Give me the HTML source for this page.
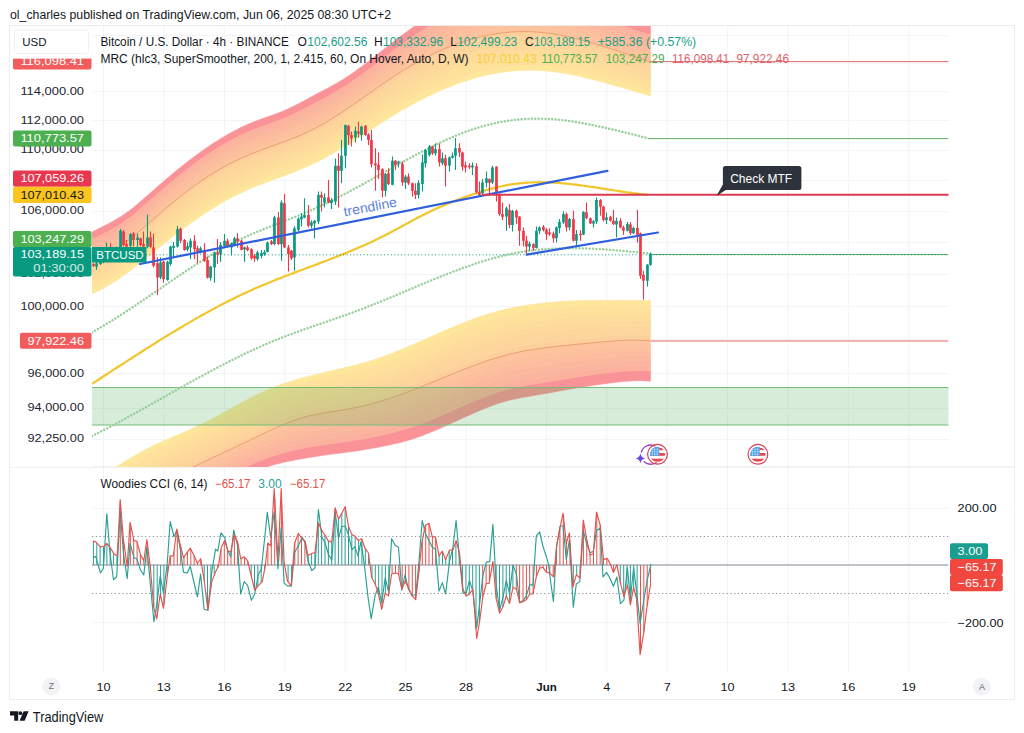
<!DOCTYPE html><html><head><meta charset="utf-8"><title>BTCUSD</title>
<style>html,body{margin:0;padding:0;background:#fff;}svg{display:block;font-family:"Liberation Sans", sans-serif;}text{font-family:"Liberation Sans", sans-serif;}</style></head><body>
<svg width="1024" height="733" viewBox="0 0 1024 733">
<rect width="1024" height="733" fill="#fff"/>
<defs><clipPath id="mp"><rect x="92" y="26" width="856.5" height="441"/></clipPath>
<clipPath id="cp"><rect x="92" y="467" width="856.5" height="205"/></clipPath></defs>
<text x="10" y="19.3" font-size="12.3" fill="#131722" textLength="381" lengthAdjust="spacingAndGlyphs">ol_charles published on TradingView.com, Jun 06, 2025 08:30 UTC+2</text>
<rect x="9.5" y="25.5" width="1005" height="674" fill="none" stroke="#eaecf0" stroke-width="1"/>
<line x1="103.5" y1="26" x2="103.5" y2="672" stroke="#f3f4f6"/>
<line x1="163.8" y1="26" x2="163.8" y2="672" stroke="#f3f4f6"/>
<line x1="224.4" y1="26" x2="224.4" y2="672" stroke="#f3f4f6"/>
<line x1="284.8" y1="26" x2="284.8" y2="672" stroke="#f3f4f6"/>
<line x1="345.2" y1="26" x2="345.2" y2="672" stroke="#f3f4f6"/>
<line x1="405.6" y1="26" x2="405.6" y2="672" stroke="#f3f4f6"/>
<line x1="466" y1="26" x2="466" y2="672" stroke="#f3f4f6"/>
<line x1="546.5" y1="26" x2="546.5" y2="672" stroke="#f3f4f6"/>
<line x1="606.8" y1="26" x2="606.8" y2="672" stroke="#f3f4f6"/>
<line x1="667.2" y1="26" x2="667.2" y2="672" stroke="#f3f4f6"/>
<line x1="727.6" y1="26" x2="727.6" y2="672" stroke="#f3f4f6"/>
<line x1="788" y1="26" x2="788" y2="672" stroke="#f3f4f6"/>
<line x1="848.3" y1="26" x2="848.3" y2="672" stroke="#f3f4f6"/>
<line x1="908.8" y1="26" x2="908.8" y2="672" stroke="#f3f4f6"/>
<line x1="92" y1="35.5" x2="948.5" y2="35.5" stroke="#f3f4f6"/>
<line x1="92" y1="63.5" x2="948.5" y2="63.5" stroke="#f3f4f6"/>
<line x1="92" y1="91.5" x2="948.5" y2="91.5" stroke="#f3f4f6"/>
<line x1="92" y1="120.5" x2="948.5" y2="120.5" stroke="#f3f4f6"/>
<line x1="92" y1="150.5" x2="948.5" y2="150.5" stroke="#f3f4f6"/>
<line x1="92" y1="180.5" x2="948.5" y2="180.5" stroke="#f3f4f6"/>
<line x1="92" y1="211.5" x2="948.5" y2="211.5" stroke="#f3f4f6"/>
<line x1="92" y1="242.5" x2="948.5" y2="242.5" stroke="#f3f4f6"/>
<line x1="92" y1="274.5" x2="948.5" y2="274.5" stroke="#f3f4f6"/>
<line x1="92" y1="306.5" x2="948.5" y2="306.5" stroke="#f3f4f6"/>
<line x1="92" y1="339.5" x2="948.5" y2="339.5" stroke="#f3f4f6"/>
<line x1="92" y1="373.5" x2="948.5" y2="373.5" stroke="#f3f4f6"/>
<line x1="92" y1="408.5" x2="948.5" y2="408.5" stroke="#f3f4f6"/>
<line x1="92" y1="439.5" x2="948.5" y2="439.5" stroke="#f3f4f6"/>
<line x1="92" y1="508.5" x2="948.5" y2="508.5" stroke="#f3f4f6"/>
<line x1="92" y1="622.5" x2="948.5" y2="622.5" stroke="#f3f4f6"/>
<line x1="9.5" y1="467" x2="1014.5" y2="467" stroke="#e4e6ea"/>
<g clip-path="url(#mp)">
<polygon points="92,232 96,230 100,228 104.1,226 108.1,223.9 112.1,221.8 116.1,219.5 120.1,217.1 124.1,214.4 128.2,211.5 132.2,208.4 136.2,205.2 140.2,201.8 144.2,198.3 148.3,194.8 152.3,191.2 156.3,187.7 160.3,184.2 164.3,180.7 168.4,177.3 172.4,173.9 176.4,170.6 180.4,167.4 184.4,164.2 188.4,161 192.5,158 196.5,155 200.5,152.1 204.5,149.2 208.5,146.5 212.6,143.8 216.6,141.2 220.6,138.7 224.6,136.3 228.6,134 232.7,131.8 236.7,129.7 240.7,127.6 244.7,125.7 248.7,123.9 252.7,122.2 256.8,120.7 260.8,119.2 264.8,117.8 268.8,116.4 272.8,115 276.9,113.5 280.9,112 284.9,110.3 288.9,108.4 292.9,106.5 297,104.5 301,102.4 305,100.3 309,98.1 313,95.9 317,93.8 321.1,91.7 325.1,89.6 329.1,87.4 333.1,85.2 337.1,82.9 341.2,80.5 345.2,78 349.2,75.4 353.2,72.7 357.2,69.8 361.3,66.8 365.3,63.8 369.3,60.7 373.3,57.6 377.3,54.5 381.3,51.3 385.4,48.1 389.4,45 393.4,41.8 397.4,38.7 401.4,35.7 405.5,32.7 409.5,29.7 413.5,26.8 417.5,24 421.5,21.3 425.6,18.6 429.6,16.1 433.6,13.7 437.6,11.4 441.6,9.3 445.6,7.2 449.7,5.4 453.7,3.7 457.7,2.1 461.7,0.7 465.7,-0.6 469.8,-1.7 473.8,-2.7 477.8,-3.6 481.8,-4.3 485.8,-5 489.9,-5.5 493.9,-5.9 497.9,-6.3 501.9,-6.5 505.9,-6.7 509.9,-6.8 514,-6.9 518,-6.9 522,-6.8 526,-6.7 530,-6.5 534.1,-6.3 538.1,-6 542.1,-5.7 546.1,-5.3 550.1,-4.9 554.2,-4.4 558.2,-3.9 562.2,-3.2 566.2,-2.5 570.2,-1.7 574.2,-0.9 578.3,0.1 582.3,1.1 586.3,2.3 590.3,3.5 594.3,4.9 598.4,6.3 602.4,7.9 606.4,9.5 610.4,11.2 614.4,13 618.5,14.8 622.5,16.5 626.5,18.2 630.5,19.8 634.5,21.2 638.5,22.6 642.6,23.7 646.6,24.7 650.6,25.4 650.6,34.5 646.6,33.6 642.6,32.6 638.5,31.4 634.5,30.1 630.5,28.6 626.5,27.1 622.5,25.5 618.5,23.9 614.4,22.2 610.4,20.6 606.4,19 602.4,17.4 598.4,15.9 594.3,14.5 590.3,13.2 586.3,12 582.3,10.9 578.3,9.8 574.2,8.9 570.2,8 566.2,7.2 562.2,6.5 558.2,5.8 554.2,5.2 550.1,4.7 546.1,4.2 542.1,3.9 538.1,3.5 534.1,3.3 530,3.1 526,2.9 522,2.8 518,2.8 514,2.8 509.9,2.9 505.9,3.1 501.9,3.3 497.9,3.7 493.9,4.1 489.9,4.6 485.8,5.2 481.8,5.9 477.8,6.7 473.8,7.7 469.8,8.7 465.7,9.8 461.7,11.1 457.7,12.5 453.7,14.1 449.7,15.7 445.6,17.5 441.6,19.5 437.6,21.5 433.6,23.7 429.6,26 425.6,28.4 421.5,30.9 417.5,33.5 413.5,36.2 409.5,39 405.5,41.8 401.4,44.7 397.4,47.6 393.4,50.6 389.4,53.6 385.4,56.6 381.3,59.7 377.3,62.8 373.3,65.9 369.3,68.9 365.3,71.9 361.3,74.9 357.2,77.8 353.2,80.6 349.2,83.4 345.2,86.1 341.2,88.6 337.1,91 333.1,93.4 329.1,95.7 325.1,97.9 321.1,100 317,102.2 313,104.3 309,106.4 305,108.5 301,110.5 297,112.5 292.9,114.4 288.9,116.3 284.9,118 280.9,119.7 276.9,121.2 272.8,122.7 268.8,124.1 264.8,125.5 260.8,127 256.8,128.5 252.7,130 248.7,131.7 244.7,133.5 240.7,135.3 236.7,137.3 232.7,139.4 228.6,141.6 224.6,143.9 220.6,146.3 216.6,148.7 212.6,151.3 208.5,153.9 204.5,156.6 200.5,159.5 196.5,162.3 192.5,165.3 188.4,168.3 184.4,171.5 180.4,174.6 176.4,177.9 172.4,181.2 168.4,184.6 164.3,188 160.3,191.4 156.3,195 152.3,198.5 148.3,202 144.2,205.6 140.2,209 136.2,212.4 132.2,215.6 128.2,218.7 124.1,221.7 120.1,224.4 116.1,226.9 112.1,229.2 108.1,231.4 104.1,233.4 100,235.4 96,237.3 92,239.2" fill="#fa9398" stroke="#fa9398" stroke-width="0.6"/>
<polygon points="92,239.2 96,237.3 100,235.4 104.1,233.4 108.1,231.4 112.1,229.2 116.1,226.9 120.1,224.4 124.1,221.7 128.2,218.7 132.2,215.6 136.2,212.4 140.2,209 144.2,205.6 148.3,202 152.3,198.5 156.3,195 160.3,191.4 164.3,188 168.4,184.6 172.4,181.2 176.4,177.9 180.4,174.6 184.4,171.5 188.4,168.3 192.5,165.3 196.5,162.3 200.5,159.5 204.5,156.6 208.5,153.9 212.6,151.3 216.6,148.7 220.6,146.3 224.6,143.9 228.6,141.6 232.7,139.4 236.7,137.3 240.7,135.3 244.7,133.5 248.7,131.7 252.7,130 256.8,128.5 260.8,127 264.8,125.5 268.8,124.1 272.8,122.7 276.9,121.2 280.9,119.7 284.9,118 288.9,116.3 292.9,114.4 297,112.5 301,110.5 305,108.5 309,106.4 313,104.3 317,102.2 321.1,100 325.1,97.9 329.1,95.7 333.1,93.4 337.1,91 341.2,88.6 345.2,86.1 349.2,83.4 353.2,80.6 357.2,77.8 361.3,74.9 365.3,71.9 369.3,68.9 373.3,65.9 377.3,62.8 381.3,59.7 385.4,56.6 389.4,53.6 393.4,50.6 397.4,47.6 401.4,44.7 405.5,41.8 409.5,39 413.5,36.2 417.5,33.5 421.5,30.9 425.6,28.4 429.6,26 433.6,23.7 437.6,21.5 441.6,19.5 445.6,17.5 449.7,15.7 453.7,14.1 457.7,12.5 461.7,11.1 465.7,9.8 469.8,8.7 473.8,7.7 477.8,6.7 481.8,5.9 485.8,5.2 489.9,4.6 493.9,4.1 497.9,3.7 501.9,3.3 505.9,3.1 509.9,2.9 514,2.8 518,2.8 522,2.8 526,2.9 530,3.1 534.1,3.3 538.1,3.5 542.1,3.9 546.1,4.2 550.1,4.7 554.2,5.2 558.2,5.8 562.2,6.5 566.2,7.2 570.2,8 574.2,8.9 578.3,9.8 582.3,10.9 586.3,12 590.3,13.2 594.3,14.5 598.4,15.9 602.4,17.4 606.4,19 610.4,20.6 614.4,22.2 618.5,23.9 622.5,25.5 626.5,27.1 630.5,28.6 634.5,30.1 638.5,31.4 642.6,32.6 646.6,33.6 650.6,34.5 650.6,39.1 646.6,38.1 642.6,37.1 638.5,35.8 634.5,34.5 630.5,33.1 626.5,31.6 622.5,30 618.5,28.4 614.4,26.9 610.4,25.3 606.4,23.7 602.4,22.2 598.4,20.7 594.3,19.4 590.3,18.1 586.3,16.9 582.3,15.8 578.3,14.7 574.2,13.8 570.2,12.9 566.2,12.1 562.2,11.3 558.2,10.6 554.2,10 550.1,9.5 546.1,9 542.1,8.6 538.1,8.3 534.1,8 530,7.8 526,7.7 522,7.6 518,7.6 514,7.7 509.9,7.8 505.9,8 501.9,8.3 497.9,8.7 493.9,9.1 489.9,9.7 485.8,10.3 481.8,11 477.8,11.9 473.8,12.8 469.8,13.9 465.7,15 461.7,16.3 457.7,17.7 453.7,19.2 449.7,20.9 445.6,22.7 441.6,24.6 437.6,26.6 433.6,28.8 429.6,31 425.6,33.3 421.5,35.8 417.5,38.3 413.5,40.9 409.5,43.6 405.5,46.3 401.4,49.2 397.4,52 393.4,55 389.4,57.9 385.4,60.9 381.3,63.9 377.3,66.9 373.3,70 369.3,73 365.3,76 361.3,78.9 357.2,81.8 353.2,84.6 349.2,87.4 345.2,90.1 341.2,92.6 337.1,95.1 333.1,97.5 329.1,99.8 325.1,102 321.1,104.2 317,106.4 313,108.5 309,110.6 305,112.6 301,114.6 297,116.5 292.9,118.4 288.9,120.2 284.9,121.9 280.9,123.5 276.9,125.1 272.8,126.6 268.8,128 264.8,129.4 260.8,130.9 256.8,132.3 252.7,133.9 248.7,135.6 244.7,137.3 240.7,139.2 236.7,141.2 232.7,143.2 228.6,145.4 224.6,147.7 220.6,150 216.6,152.5 212.6,155 208.5,157.6 204.5,160.3 200.5,163.1 196.5,166 192.5,169 188.4,172 184.4,175.1 180.4,178.3 176.4,181.5 172.4,184.8 168.4,188.2 164.3,191.6 160.3,195.1 156.3,198.6 152.3,202.1 148.3,205.7 144.2,209.2 140.2,212.6 136.2,216 132.2,219.2 128.2,222.3 124.1,225.3 120.1,228 116.1,230.6 112.1,232.9 108.1,235.1 104.1,237.2 100,239.1 96,241 92,242.8" fill="#fbb19d" stroke="#fbb19d" stroke-width="0.6"/>
<polygon points="92,242.8 96,241 100,239.1 104.1,237.2 108.1,235.1 112.1,232.9 116.1,230.6 120.1,228 124.1,225.3 128.2,222.3 132.2,219.2 136.2,216 140.2,212.6 144.2,209.2 148.3,205.7 152.3,202.1 156.3,198.6 160.3,195.1 164.3,191.6 168.4,188.2 172.4,184.8 176.4,181.5 180.4,178.3 184.4,175.1 188.4,172 192.5,169 196.5,166 200.5,163.1 204.5,160.3 208.5,157.6 212.6,155 216.6,152.5 220.6,150 224.6,147.7 228.6,145.4 232.7,143.2 236.7,141.2 240.7,139.2 244.7,137.3 248.7,135.6 252.7,133.9 256.8,132.3 260.8,130.9 264.8,129.4 268.8,128 272.8,126.6 276.9,125.1 280.9,123.5 284.9,121.9 288.9,120.2 292.9,118.4 297,116.5 301,114.6 305,112.6 309,110.6 313,108.5 317,106.4 321.1,104.2 325.1,102 329.1,99.8 333.1,97.5 337.1,95.1 341.2,92.6 345.2,90.1 349.2,87.4 353.2,84.6 357.2,81.8 361.3,78.9 365.3,76 369.3,73 373.3,70 377.3,66.9 381.3,63.9 385.4,60.9 389.4,57.9 393.4,55 397.4,52 401.4,49.2 405.5,46.3 409.5,43.6 413.5,40.9 417.5,38.3 421.5,35.8 425.6,33.3 429.6,31 433.6,28.8 437.6,26.6 441.6,24.6 445.6,22.7 449.7,20.9 453.7,19.2 457.7,17.7 461.7,16.3 465.7,15 469.8,13.9 473.8,12.8 477.8,11.9 481.8,11 485.8,10.3 489.9,9.7 493.9,9.1 497.9,8.7 501.9,8.3 505.9,8 509.9,7.8 514,7.7 518,7.6 522,7.6 526,7.7 530,7.8 534.1,8 538.1,8.3 542.1,8.6 546.1,9 550.1,9.5 554.2,10 558.2,10.6 562.2,11.3 566.2,12.1 570.2,12.9 574.2,13.8 578.3,14.7 582.3,15.8 586.3,16.9 590.3,18.1 594.3,19.4 598.4,20.7 602.4,22.2 606.4,23.7 610.4,25.3 614.4,26.9 618.5,28.4 622.5,30 626.5,31.6 630.5,33.1 634.5,34.5 638.5,35.8 642.6,37.1 646.6,38.1 650.6,39.1 650.6,43.6 646.6,42.6 642.6,41.5 638.5,40.3 634.5,38.9 630.5,37.5 626.5,36.1 622.5,34.5 618.5,33 614.4,31.5 610.4,29.9 606.4,28.4 602.4,27 598.4,25.6 594.3,24.2 590.3,23 586.3,21.8 582.3,20.7 578.3,19.6 574.2,18.7 570.2,17.7 566.2,16.9 562.2,16.2 558.2,15.5 554.2,14.8 550.1,14.3 546.1,13.8 542.1,13.4 538.1,13.1 534.1,12.8 530,12.6 526,12.5 522,12.4 518,12.4 514,12.5 509.9,12.7 505.9,12.9 501.9,13.2 497.9,13.6 493.9,14.1 489.9,14.7 485.8,15.4 481.8,16.2 477.8,17 473.8,18 469.8,19.1 465.7,20.2 461.7,21.5 457.7,22.9 453.7,24.4 449.7,26.1 445.6,27.8 441.6,29.7 437.6,31.7 433.6,33.8 429.6,36 425.6,38.2 421.5,40.6 417.5,43.1 413.5,45.6 409.5,48.2 405.5,50.9 401.4,53.6 397.4,56.5 393.4,59.3 389.4,62.2 385.4,65.2 381.3,68.1 377.3,71.1 373.3,74.1 369.3,77.1 365.3,80 361.3,82.9 357.2,85.8 353.2,88.6 349.2,91.4 345.2,94.1 341.2,96.7 337.1,99.2 333.1,101.6 329.1,103.9 325.1,106.2 321.1,108.4 317,110.5 313,112.6 309,114.7 305,116.7 301,118.7 297,120.6 292.9,122.4 288.9,124.1 284.9,125.8 280.9,127.4 276.9,128.9 272.8,130.4 268.8,131.8 264.8,133.3 260.8,134.7 256.8,136.2 252.7,137.8 248.7,139.4 244.7,141.2 240.7,143.1 236.7,145 232.7,147.1 228.6,149.2 224.6,151.5 220.6,153.8 216.6,156.2 212.6,158.7 208.5,161.4 204.5,164 200.5,166.8 196.5,169.7 192.5,172.6 188.4,175.6 184.4,178.7 180.4,181.9 176.4,185.1 172.4,188.5 168.4,191.8 164.3,195.3 160.3,198.7 156.3,202.2 152.3,205.8 148.3,209.3 144.2,212.8 140.2,216.2 136.2,219.6 132.2,222.8 128.2,226 124.1,228.9 120.1,231.7 116.1,234.2 112.1,236.6 108.1,238.8 104.1,240.9 100,242.8 96,244.6 92,246.3" fill="#fbb49d" stroke="#fbb49d" stroke-width="0.6"/>
<polygon points="92,246.3 96,244.6 100,242.8 104.1,240.9 108.1,238.8 112.1,236.6 116.1,234.2 120.1,231.7 124.1,228.9 128.2,226 132.2,222.8 136.2,219.6 140.2,216.2 144.2,212.8 148.3,209.3 152.3,205.8 156.3,202.2 160.3,198.7 164.3,195.3 168.4,191.8 172.4,188.5 176.4,185.1 180.4,181.9 184.4,178.7 188.4,175.6 192.5,172.6 196.5,169.7 200.5,166.8 204.5,164 208.5,161.4 212.6,158.7 216.6,156.2 220.6,153.8 224.6,151.5 228.6,149.2 232.7,147.1 236.7,145 240.7,143.1 244.7,141.2 248.7,139.4 252.7,137.8 256.8,136.2 260.8,134.7 264.8,133.3 268.8,131.8 272.8,130.4 276.9,128.9 280.9,127.4 284.9,125.8 288.9,124.1 292.9,122.4 297,120.6 301,118.7 305,116.7 309,114.7 313,112.6 317,110.5 321.1,108.4 325.1,106.2 329.1,103.9 333.1,101.6 337.1,99.2 341.2,96.7 345.2,94.1 349.2,91.4 353.2,88.6 357.2,85.8 361.3,82.9 365.3,80 369.3,77.1 373.3,74.1 377.3,71.1 381.3,68.1 385.4,65.2 389.4,62.2 393.4,59.3 397.4,56.5 401.4,53.6 405.5,50.9 409.5,48.2 413.5,45.6 417.5,43.1 421.5,40.6 425.6,38.2 429.6,36 433.6,33.8 437.6,31.7 441.6,29.7 445.6,27.8 449.7,26.1 453.7,24.4 457.7,22.9 461.7,21.5 465.7,20.2 469.8,19.1 473.8,18 477.8,17 481.8,16.2 485.8,15.4 489.9,14.7 493.9,14.1 497.9,13.6 501.9,13.2 505.9,12.9 509.9,12.7 514,12.5 518,12.4 522,12.4 526,12.5 530,12.6 534.1,12.8 538.1,13.1 542.1,13.4 546.1,13.8 550.1,14.3 554.2,14.8 558.2,15.5 562.2,16.2 566.2,16.9 570.2,17.7 574.2,18.7 578.3,19.6 582.3,20.7 586.3,21.8 590.3,23 594.3,24.2 598.4,25.6 602.4,27 606.4,28.4 610.4,29.9 614.4,31.5 618.5,33 622.5,34.5 626.5,36.1 630.5,37.5 634.5,38.9 638.5,40.3 642.6,41.5 646.6,42.6 650.6,43.6 650.6,48.2 646.6,47.1 642.6,46 638.5,44.7 634.5,43.4 630.5,42 626.5,40.5 622.5,39.1 618.5,37.6 614.4,36.1 610.4,34.6 606.4,33.2 602.4,31.7 598.4,30.4 594.3,29.1 590.3,27.8 586.3,26.7 582.3,25.6 578.3,24.5 574.2,23.5 570.2,22.6 566.2,21.8 562.2,21 558.2,20.3 554.2,19.7 550.1,19.1 546.1,18.6 542.1,18.2 538.1,17.8 534.1,17.6 530,17.4 526,17.3 522,17.2 518,17.3 514,17.4 509.9,17.6 505.9,17.8 501.9,18.2 497.9,18.6 493.9,19.1 489.9,19.8 485.8,20.5 481.8,21.3 477.8,22.2 473.8,23.2 469.8,24.2 465.7,25.4 461.7,26.7 457.7,28.1 453.7,29.6 449.7,31.3 445.6,33 441.6,34.8 437.6,36.7 433.6,38.8 429.6,40.9 425.6,43.1 421.5,45.4 417.5,47.8 413.5,50.3 409.5,52.8 405.5,55.5 401.4,58.1 397.4,60.9 393.4,63.7 389.4,66.5 385.4,69.4 381.3,72.3 377.3,75.3 373.3,78.2 369.3,81.1 365.3,84.1 361.3,87 357.2,89.8 353.2,92.6 349.2,95.4 345.2,98.1 341.2,100.7 337.1,103.2 333.1,105.7 329.1,108 325.1,110.3 321.1,112.6 317,114.7 313,116.8 309,118.9 305,120.8 301,122.7 297,124.6 292.9,126.4 288.9,128.1 284.9,129.7 280.9,131.3 276.9,132.8 272.8,134.2 268.8,135.7 264.8,137.1 260.8,138.6 256.8,140.1 252.7,141.7 248.7,143.3 244.7,145.1 240.7,146.9 236.7,148.9 232.7,150.9 228.6,153 224.6,155.2 220.6,157.6 216.6,160 212.6,162.5 208.5,165.1 204.5,167.7 200.5,170.5 196.5,173.4 192.5,176.3 188.4,179.3 184.4,182.4 180.4,185.5 176.4,188.8 172.4,192.1 168.4,195.5 164.3,198.9 160.3,202.4 156.3,205.9 152.3,209.4 148.3,212.9 144.2,216.4 140.2,219.9 136.2,223.2 132.2,226.5 128.2,229.6 124.1,232.5 120.1,235.3 116.1,237.9 112.1,240.3 108.1,242.6 104.1,244.7 100,246.6 96,248.3 92,249.9" fill="#fbb89d" stroke="#fbb89d" stroke-width="0.6"/>
<polygon points="92,249.9 96,248.3 100,246.6 104.1,244.7 108.1,242.6 112.1,240.3 116.1,237.9 120.1,235.3 124.1,232.5 128.2,229.6 132.2,226.5 136.2,223.2 140.2,219.9 144.2,216.4 148.3,212.9 152.3,209.4 156.3,205.9 160.3,202.4 164.3,198.9 168.4,195.5 172.4,192.1 176.4,188.8 180.4,185.5 184.4,182.4 188.4,179.3 192.5,176.3 196.5,173.4 200.5,170.5 204.5,167.7 208.5,165.1 212.6,162.5 216.6,160 220.6,157.6 224.6,155.2 228.6,153 232.7,150.9 236.7,148.9 240.7,146.9 244.7,145.1 248.7,143.3 252.7,141.7 256.8,140.1 260.8,138.6 264.8,137.1 268.8,135.7 272.8,134.2 276.9,132.8 280.9,131.3 284.9,129.7 288.9,128.1 292.9,126.4 297,124.6 301,122.7 305,120.8 309,118.9 313,116.8 317,114.7 321.1,112.6 325.1,110.3 329.1,108 333.1,105.7 337.1,103.2 341.2,100.7 345.2,98.1 349.2,95.4 353.2,92.6 357.2,89.8 361.3,87 365.3,84.1 369.3,81.1 373.3,78.2 377.3,75.3 381.3,72.3 385.4,69.4 389.4,66.5 393.4,63.7 397.4,60.9 401.4,58.1 405.5,55.5 409.5,52.8 413.5,50.3 417.5,47.8 421.5,45.4 425.6,43.1 429.6,40.9 433.6,38.8 437.6,36.7 441.6,34.8 445.6,33 449.7,31.3 453.7,29.6 457.7,28.1 461.7,26.7 465.7,25.4 469.8,24.2 473.8,23.2 477.8,22.2 481.8,21.3 485.8,20.5 489.9,19.8 493.9,19.1 497.9,18.6 501.9,18.2 505.9,17.8 509.9,17.6 514,17.4 518,17.3 522,17.2 526,17.3 530,17.4 534.1,17.6 538.1,17.8 542.1,18.2 546.1,18.6 550.1,19.1 554.2,19.7 558.2,20.3 562.2,21 566.2,21.8 570.2,22.6 574.2,23.5 578.3,24.5 582.3,25.6 586.3,26.7 590.3,27.8 594.3,29.1 598.4,30.4 602.4,31.7 606.4,33.2 610.4,34.6 614.4,36.1 618.5,37.6 622.5,39.1 626.5,40.5 630.5,42 634.5,43.4 638.5,44.7 642.6,46 646.6,47.1 650.6,48.2 650.6,52.8 646.6,51.6 642.6,50.4 638.5,49.1 634.5,47.8 630.5,46.4 626.5,45 622.5,43.6 618.5,42.1 614.4,40.7 610.4,39.3 606.4,37.9 602.4,36.5 598.4,35.2 594.3,33.9 590.3,32.7 586.3,31.5 582.3,30.4 578.3,29.4 574.2,28.4 570.2,27.5 566.2,26.6 562.2,25.8 558.2,25.1 554.2,24.5 550.1,23.9 546.1,23.4 542.1,23 538.1,22.6 534.1,22.3 530,22.2 526,22 522,22 518,22.1 514,22.2 509.9,22.4 505.9,22.7 501.9,23.1 497.9,23.6 493.9,24.2 489.9,24.8 485.8,25.5 481.8,26.4 477.8,27.3 473.8,28.3 469.8,29.4 465.7,30.6 461.7,31.9 457.7,33.3 453.7,34.8 449.7,36.4 445.6,38.1 441.6,39.9 437.6,41.8 433.6,43.8 429.6,45.9 425.6,48 421.5,50.3 417.5,52.6 413.5,55 409.5,57.5 405.5,60 401.4,62.6 397.4,65.3 393.4,68.1 389.4,70.8 385.4,73.7 381.3,76.5 377.3,79.4 373.3,82.3 369.3,85.2 365.3,88.1 361.3,91 357.2,93.8 353.2,96.6 349.2,99.4 345.2,102.1 341.2,104.7 337.1,107.3 333.1,109.7 329.1,112.2 325.1,114.5 321.1,116.7 317,118.9 313,121 309,123 305,125 301,126.8 297,128.6 292.9,130.3 288.9,132 284.9,133.6 280.9,135.1 276.9,136.6 272.8,138.1 268.8,139.5 264.8,141 260.8,142.5 256.8,144 252.7,145.6 248.7,147.2 244.7,148.9 240.7,150.8 236.7,152.7 232.7,154.7 228.6,156.8 224.6,159 220.6,161.3 216.6,163.7 212.6,166.2 208.5,168.8 204.5,171.4 200.5,174.2 196.5,177 192.5,179.9 188.4,182.9 184.4,186 180.4,189.2 176.4,192.4 172.4,195.7 168.4,199.1 164.3,202.6 160.3,206 156.3,209.5 152.3,213.1 148.3,216.6 144.2,220 140.2,223.5 136.2,226.8 132.2,230.1 128.2,233.2 124.1,236.2 120.1,239 116.1,241.6 112.1,244 108.1,246.3 104.1,248.4 100,250.3 96,252 92,253.5" fill="#fcbc9d" stroke="#fcbc9d" stroke-width="0.6"/>
<polygon points="92,253.5 96,252 100,250.3 104.1,248.4 108.1,246.3 112.1,244 116.1,241.6 120.1,239 124.1,236.2 128.2,233.2 132.2,230.1 136.2,226.8 140.2,223.5 144.2,220 148.3,216.6 152.3,213.1 156.3,209.5 160.3,206 164.3,202.6 168.4,199.1 172.4,195.7 176.4,192.4 180.4,189.2 184.4,186 188.4,182.9 192.5,179.9 196.5,177 200.5,174.2 204.5,171.4 208.5,168.8 212.6,166.2 216.6,163.7 220.6,161.3 224.6,159 228.6,156.8 232.7,154.7 236.7,152.7 240.7,150.8 244.7,148.9 248.7,147.2 252.7,145.6 256.8,144 260.8,142.5 264.8,141 268.8,139.5 272.8,138.1 276.9,136.6 280.9,135.1 284.9,133.6 288.9,132 292.9,130.3 297,128.6 301,126.8 305,125 309,123 313,121 317,118.9 321.1,116.7 325.1,114.5 329.1,112.2 333.1,109.7 337.1,107.3 341.2,104.7 345.2,102.1 349.2,99.4 353.2,96.6 357.2,93.8 361.3,91 365.3,88.1 369.3,85.2 373.3,82.3 377.3,79.4 381.3,76.5 385.4,73.7 389.4,70.8 393.4,68.1 397.4,65.3 401.4,62.6 405.5,60 409.5,57.5 413.5,55 417.5,52.6 421.5,50.3 425.6,48 429.6,45.9 433.6,43.8 437.6,41.8 441.6,39.9 445.6,38.1 449.7,36.4 453.7,34.8 457.7,33.3 461.7,31.9 465.7,30.6 469.8,29.4 473.8,28.3 477.8,27.3 481.8,26.4 485.8,25.5 489.9,24.8 493.9,24.2 497.9,23.6 501.9,23.1 505.9,22.7 509.9,22.4 514,22.2 518,22.1 522,22 526,22 530,22.2 534.1,22.3 538.1,22.6 542.1,23 546.1,23.4 550.1,23.9 554.2,24.5 558.2,25.1 562.2,25.8 566.2,26.6 570.2,27.5 574.2,28.4 578.3,29.4 582.3,30.4 586.3,31.5 590.3,32.7 594.3,33.9 598.4,35.2 602.4,36.5 606.4,37.9 610.4,39.3 614.4,40.7 618.5,42.1 622.5,43.6 626.5,45 630.5,46.4 634.5,47.8 638.5,49.1 642.6,50.4 646.6,51.6 650.6,52.8 650.6,57.4 646.6,56.1 642.6,54.9 638.5,53.5 634.5,52.2 630.5,50.8 626.5,49.5 622.5,48.1 618.5,46.7 614.4,45.3 610.4,43.9 606.4,42.6 602.4,41.3 598.4,40 594.3,38.8 590.3,37.6 586.3,36.4 582.3,35.3 578.3,34.3 574.2,33.3 570.2,32.4 566.2,31.5 562.2,30.7 558.2,30 554.2,29.3 550.1,28.7 546.1,28.2 542.1,27.7 538.1,27.4 534.1,27.1 530,26.9 526,26.8 522,26.8 518,26.9 514,27.1 509.9,27.3 505.9,27.6 501.9,28.1 497.9,28.6 493.9,29.2 489.9,29.9 485.8,30.6 481.8,31.5 477.8,32.4 473.8,33.5 469.8,34.6 465.7,35.8 461.7,37.1 457.7,38.5 453.7,40 449.7,41.6 445.6,43.3 441.6,45 437.6,46.9 433.6,48.8 429.6,50.8 425.6,52.9 421.5,55.1 417.5,57.4 413.5,59.7 409.5,62.1 405.5,64.6 401.4,67.1 397.4,69.7 393.4,72.4 389.4,75.2 385.4,77.9 381.3,80.7 377.3,83.6 373.3,86.4 369.3,89.3 365.3,92.2 361.3,95 357.2,97.8 353.2,100.6 349.2,103.4 345.2,106.1 341.2,108.7 337.1,111.3 333.1,113.8 329.1,116.3 325.1,118.6 321.1,120.9 317,123.1 313,125.2 309,127.2 305,129.1 301,130.9 297,132.6 292.9,134.3 288.9,135.9 284.9,137.5 280.9,139 276.9,140.5 272.8,141.9 268.8,143.4 264.8,144.9 260.8,146.3 256.8,147.9 252.7,149.4 248.7,151.1 244.7,152.8 240.7,154.6 236.7,156.5 232.7,158.5 228.6,160.6 224.6,162.8 220.6,165.1 216.6,167.5 212.6,169.9 208.5,172.5 204.5,175.2 200.5,177.9 196.5,180.7 192.5,183.6 188.4,186.6 184.4,189.7 180.4,192.8 176.4,196.1 172.4,199.4 168.4,202.8 164.3,206.2 160.3,209.7 156.3,213.2 152.3,216.7 148.3,220.2 144.2,223.7 140.2,227.1 136.2,230.4 132.2,233.7 128.2,236.8 124.1,239.8 120.1,242.6 116.1,245.3 112.1,247.8 108.1,250 104.1,252.1 100,254 96,255.6 92,257.1" fill="#fcc09d" stroke="#fcc09d" stroke-width="0.6"/>
<polygon points="92,257.1 96,255.6 100,254 104.1,252.1 108.1,250 112.1,247.8 116.1,245.3 120.1,242.6 124.1,239.8 128.2,236.8 132.2,233.7 136.2,230.4 140.2,227.1 144.2,223.7 148.3,220.2 152.3,216.7 156.3,213.2 160.3,209.7 164.3,206.2 168.4,202.8 172.4,199.4 176.4,196.1 180.4,192.8 184.4,189.7 188.4,186.6 192.5,183.6 196.5,180.7 200.5,177.9 204.5,175.2 208.5,172.5 212.6,169.9 216.6,167.5 220.6,165.1 224.6,162.8 228.6,160.6 232.7,158.5 236.7,156.5 240.7,154.6 244.7,152.8 248.7,151.1 252.7,149.4 256.8,147.9 260.8,146.3 264.8,144.9 268.8,143.4 272.8,141.9 276.9,140.5 280.9,139 284.9,137.5 288.9,135.9 292.9,134.3 297,132.6 301,130.9 305,129.1 309,127.2 313,125.2 317,123.1 321.1,120.9 325.1,118.6 329.1,116.3 333.1,113.8 337.1,111.3 341.2,108.7 345.2,106.1 349.2,103.4 353.2,100.6 357.2,97.8 361.3,95 365.3,92.2 369.3,89.3 373.3,86.4 377.3,83.6 381.3,80.7 385.4,77.9 389.4,75.2 393.4,72.4 397.4,69.7 401.4,67.1 405.5,64.6 409.5,62.1 413.5,59.7 417.5,57.4 421.5,55.1 425.6,52.9 429.6,50.8 433.6,48.8 437.6,46.9 441.6,45 445.6,43.3 449.7,41.6 453.7,40 457.7,38.5 461.7,37.1 465.7,35.8 469.8,34.6 473.8,33.5 477.8,32.4 481.8,31.5 485.8,30.6 489.9,29.9 493.9,29.2 497.9,28.6 501.9,28.1 505.9,27.6 509.9,27.3 514,27.1 518,26.9 522,26.8 526,26.8 530,26.9 534.1,27.1 538.1,27.4 542.1,27.7 546.1,28.2 550.1,28.7 554.2,29.3 558.2,30 562.2,30.7 566.2,31.5 570.2,32.4 574.2,33.3 578.3,34.3 582.3,35.3 586.3,36.4 590.3,37.6 594.3,38.8 598.4,40 602.4,41.3 606.4,42.6 610.4,43.9 614.4,45.3 618.5,46.7 622.5,48.1 626.5,49.5 630.5,50.8 634.5,52.2 638.5,53.5 642.6,54.9 646.6,56.1 650.6,57.4 650.6,61.9 646.6,60.6 642.6,59.3 638.5,58 634.5,56.6 630.5,55.3 626.5,53.9 622.5,52.6 618.5,51.2 614.4,49.9 610.4,48.6 606.4,47.3 602.4,46.1 598.4,44.8 594.3,43.6 590.3,42.4 586.3,41.3 582.3,40.2 578.3,39.2 574.2,38.2 570.2,37.2 566.2,36.4 562.2,35.5 558.2,34.8 554.2,34.1 550.1,33.5 546.1,33 542.1,32.5 538.1,32.2 534.1,31.9 530,31.7 526,31.6 522,31.6 518,31.7 514,31.9 509.9,32.2 505.9,32.6 501.9,33 497.9,33.6 493.9,34.2 489.9,34.9 485.8,35.7 481.8,36.6 477.8,37.6 473.8,38.7 469.8,39.8 465.7,41 461.7,42.4 457.7,43.7 453.7,45.2 449.7,46.8 445.6,48.4 441.6,50.2 437.6,52 433.6,53.8 429.6,55.8 425.6,57.8 421.5,59.9 417.5,62.1 413.5,64.4 409.5,66.7 405.5,69.1 401.4,71.6 397.4,74.2 393.4,76.8 389.4,79.5 385.4,82.2 381.3,85 377.3,87.7 373.3,90.6 369.3,93.4 365.3,96.2 361.3,99 357.2,101.8 353.2,104.6 349.2,107.4 345.2,110.1 341.2,112.8 337.1,115.4 333.1,117.9 329.1,120.4 325.1,122.8 321.1,125.1 317,127.3 313,129.4 309,131.3 305,133.2 301,135 297,136.7 292.9,138.3 288.9,139.9 284.9,141.4 280.9,142.9 276.9,144.3 272.8,145.8 268.8,147.3 264.8,148.7 260.8,150.2 256.8,151.8 252.7,153.3 248.7,155 244.7,156.7 240.7,158.5 236.7,160.4 232.7,162.4 228.6,164.4 224.6,166.6 220.6,168.9 216.6,171.2 212.6,173.7 208.5,176.2 204.5,178.9 200.5,181.6 196.5,184.4 192.5,187.3 188.4,190.3 184.4,193.3 180.4,196.5 176.4,199.7 172.4,203 168.4,206.4 164.3,209.8 160.3,213.3 156.3,216.8 152.3,220.3 148.3,223.8 144.2,227.3 140.2,230.7 136.2,234 132.2,237.3 128.2,240.4 124.1,243.4 120.1,246.3 116.1,249 112.1,251.5 108.1,253.8 104.1,255.9 100,257.7 96,259.3 92,260.6" fill="#fcc39d" stroke="#fcc39d" stroke-width="0.6"/>
<polygon points="92,260.6 96,259.3 100,257.7 104.1,255.9 108.1,253.8 112.1,251.5 116.1,249 120.1,246.3 124.1,243.4 128.2,240.4 132.2,237.3 136.2,234 140.2,230.7 144.2,227.3 148.3,223.8 152.3,220.3 156.3,216.8 160.3,213.3 164.3,209.8 168.4,206.4 172.4,203 176.4,199.7 180.4,196.5 184.4,193.3 188.4,190.3 192.5,187.3 196.5,184.4 200.5,181.6 204.5,178.9 208.5,176.2 212.6,173.7 216.6,171.2 220.6,168.9 224.6,166.6 228.6,164.4 232.7,162.4 236.7,160.4 240.7,158.5 244.7,156.7 248.7,155 252.7,153.3 256.8,151.8 260.8,150.2 264.8,148.7 268.8,147.3 272.8,145.8 276.9,144.3 280.9,142.9 284.9,141.4 288.9,139.9 292.9,138.3 297,136.7 301,135 305,133.2 309,131.3 313,129.4 317,127.3 321.1,125.1 325.1,122.8 329.1,120.4 333.1,117.9 337.1,115.4 341.2,112.8 345.2,110.1 349.2,107.4 353.2,104.6 357.2,101.8 361.3,99 365.3,96.2 369.3,93.4 373.3,90.6 377.3,87.7 381.3,85 385.4,82.2 389.4,79.5 393.4,76.8 397.4,74.2 401.4,71.6 405.5,69.1 409.5,66.7 413.5,64.4 417.5,62.1 421.5,59.9 425.6,57.8 429.6,55.8 433.6,53.8 437.6,52 441.6,50.2 445.6,48.4 449.7,46.8 453.7,45.2 457.7,43.7 461.7,42.4 465.7,41 469.8,39.8 473.8,38.7 477.8,37.6 481.8,36.6 485.8,35.7 489.9,34.9 493.9,34.2 497.9,33.6 501.9,33 505.9,32.6 509.9,32.2 514,31.9 518,31.7 522,31.6 526,31.6 530,31.7 534.1,31.9 538.1,32.2 542.1,32.5 546.1,33 550.1,33.5 554.2,34.1 558.2,34.8 562.2,35.5 566.2,36.4 570.2,37.2 574.2,38.2 578.3,39.2 582.3,40.2 586.3,41.3 590.3,42.4 594.3,43.6 598.4,44.8 602.4,46.1 606.4,47.3 610.4,48.6 614.4,49.9 618.5,51.2 622.5,52.6 626.5,53.9 630.5,55.3 634.5,56.6 638.5,58 642.6,59.3 646.6,60.6 650.6,61.9 650.6,66.2 646.6,64.9 642.6,63.6 638.5,62.3 634.5,61 630.5,59.6 626.5,58.3 622.5,57 618.5,55.7 614.4,54.4 610.4,53.1 606.4,51.8 602.4,50.6 598.4,49.3 594.3,48.2 590.3,47 586.3,45.9 582.3,44.8 578.3,43.8 574.2,42.8 570.2,41.9 566.2,41 562.2,40.2 558.2,39.5 554.2,38.8 550.1,38.2 546.1,37.7 542.1,37.3 538.1,36.9 534.1,36.7 530,36.5 526,36.4 522,36.5 518,36.6 514,36.8 509.9,37.1 505.9,37.4 501.9,37.9 497.9,38.5 493.9,39.1 489.9,39.9 485.8,40.7 481.8,41.6 477.8,42.6 473.8,43.6 469.8,44.8 465.7,46 461.7,47.3 457.7,48.7 453.7,50.2 449.7,51.8 445.6,53.4 441.6,55.1 437.6,56.9 433.6,58.8 429.6,60.8 425.6,62.8 421.5,64.9 417.5,67.1 413.5,69.3 409.5,71.6 405.5,74 401.4,76.5 397.4,79 393.4,81.6 389.4,84.3 385.4,87 381.3,89.7 377.3,92.5 373.3,95.3 369.3,98 365.3,100.8 361.3,103.6 357.2,106.4 353.2,109.2 349.2,111.9 345.2,114.6 341.2,117.2 337.1,119.8 333.1,122.3 329.1,124.8 325.1,127.1 321.1,129.4 317,131.6 313,133.7 309,135.6 305,137.5 301,139.2 297,140.9 292.9,142.6 288.9,144.1 284.9,145.6 280.9,147.1 276.9,148.6 272.8,150.1 268.8,151.5 264.8,153 260.8,154.5 256.8,156 252.7,157.6 248.7,159.3 244.7,161 240.7,162.8 236.7,164.7 232.7,166.7 228.6,168.8 224.6,170.9 220.6,173.2 216.6,175.6 212.6,178 208.5,180.6 204.5,183.2 200.5,185.9 196.5,188.7 192.5,191.6 188.4,194.6 184.4,197.6 180.4,200.8 176.4,204 172.4,207.3 168.4,210.6 164.3,214 160.3,217.5 156.3,221 152.3,224.5 148.3,227.9 144.2,231.3 140.2,234.7 136.2,238 132.2,241.3 128.2,244.4 124.1,247.4 120.1,250.2 116.1,252.9 112.1,255.4 108.1,257.8 104.1,259.9 100,261.7 96,263.4 92,264.8" fill="#fdd09b" stroke="#fdd09b" stroke-width="0.6"/>
<polygon points="92,264.8 96,263.4 100,261.7 104.1,259.9 108.1,257.8 112.1,255.4 116.1,252.9 120.1,250.2 124.1,247.4 128.2,244.4 132.2,241.3 136.2,238 140.2,234.7 144.2,231.3 148.3,227.9 152.3,224.5 156.3,221 160.3,217.5 164.3,214 168.4,210.6 172.4,207.3 176.4,204 180.4,200.8 184.4,197.6 188.4,194.6 192.5,191.6 196.5,188.7 200.5,185.9 204.5,183.2 208.5,180.6 212.6,178 216.6,175.6 220.6,173.2 224.6,170.9 228.6,168.8 232.7,166.7 236.7,164.7 240.7,162.8 244.7,161 248.7,159.3 252.7,157.6 256.8,156 260.8,154.5 264.8,153 268.8,151.5 272.8,150.1 276.9,148.6 280.9,147.1 284.9,145.6 288.9,144.1 292.9,142.6 297,140.9 301,139.2 305,137.5 309,135.6 313,133.7 317,131.6 321.1,129.4 325.1,127.1 329.1,124.8 333.1,122.3 337.1,119.8 341.2,117.2 345.2,114.6 349.2,111.9 353.2,109.2 357.2,106.4 361.3,103.6 365.3,100.8 369.3,98 373.3,95.3 377.3,92.5 381.3,89.7 385.4,87 389.4,84.3 393.4,81.6 397.4,79 401.4,76.5 405.5,74 409.5,71.6 413.5,69.3 417.5,67.1 421.5,64.9 425.6,62.8 429.6,60.8 433.6,58.8 437.6,56.9 441.6,55.1 445.6,53.4 449.7,51.8 453.7,50.2 457.7,48.7 461.7,47.3 465.7,46 469.8,44.8 473.8,43.6 477.8,42.6 481.8,41.6 485.8,40.7 489.9,39.9 493.9,39.1 497.9,38.5 501.9,37.9 505.9,37.4 509.9,37.1 514,36.8 518,36.6 522,36.5 526,36.4 530,36.5 534.1,36.7 538.1,36.9 542.1,37.3 546.1,37.7 550.1,38.2 554.2,38.8 558.2,39.5 562.2,40.2 566.2,41 570.2,41.9 574.2,42.8 578.3,43.8 582.3,44.8 586.3,45.9 590.3,47 594.3,48.2 598.4,49.3 602.4,50.6 606.4,51.8 610.4,53.1 614.4,54.4 618.5,55.7 622.5,57 626.5,58.3 630.5,59.6 634.5,61 638.5,62.3 642.6,63.6 646.6,64.9 650.6,66.2 650.6,70.4 646.6,69.2 642.6,67.9 638.5,66.6 634.5,65.3 630.5,64 626.5,62.7 622.5,61.4 618.5,60.1 614.4,58.8 610.4,57.5 606.4,56.3 602.4,55.1 598.4,53.9 594.3,52.7 590.3,51.6 586.3,50.5 582.3,49.4 578.3,48.4 574.2,47.4 570.2,46.5 566.2,45.7 562.2,44.9 558.2,44.2 554.2,43.5 550.1,43 546.1,42.5 542.1,42.1 538.1,41.7 534.1,41.5 530,41.3 526,41.3 522,41.3 518,41.4 514,41.6 509.9,42 505.9,42.3 501.9,42.8 497.9,43.4 493.9,44.1 489.9,44.8 485.8,45.6 481.8,46.5 477.8,47.5 473.8,48.6 469.8,49.8 465.7,51 461.7,52.3 457.7,53.7 453.7,55.2 449.7,56.8 445.6,58.4 441.6,60.1 437.6,61.9 433.6,63.8 429.6,65.7 425.6,67.7 421.5,69.8 417.5,72 413.5,74.2 409.5,76.5 405.5,78.9 401.4,81.4 397.4,83.9 393.4,86.5 389.4,89.1 385.4,91.7 381.3,94.5 377.3,97.2 373.3,99.9 369.3,102.7 365.3,105.5 361.3,108.2 357.2,111 353.2,113.7 349.2,116.4 345.2,119.1 341.2,121.7 337.1,124.2 333.1,126.7 329.1,129.2 325.1,131.5 321.1,133.8 317,135.9 313,138 309,139.9 305,141.8 301,143.5 297,145.2 292.9,146.8 288.9,148.4 284.9,149.9 280.9,151.4 276.9,152.9 272.8,154.3 268.8,155.8 264.8,157.3 260.8,158.8 256.8,160.3 252.7,161.9 248.7,163.6 244.7,165.3 240.7,167.1 236.7,169 232.7,171 228.6,173.1 224.6,175.3 220.6,177.6 216.6,179.9 212.6,182.4 208.5,184.9 204.5,187.6 200.5,190.3 196.5,193.1 192.5,195.9 188.4,198.9 184.4,201.9 180.4,205.1 176.4,208.2 172.4,211.5 168.4,214.9 164.3,218.2 160.3,221.7 156.3,225.1 152.3,228.6 148.3,232 144.2,235.4 140.2,238.8 136.2,242 132.2,245.2 128.2,248.3 124.1,251.3 120.1,254.2 116.1,256.9 112.1,259.4 108.1,261.7 104.1,263.9 100,265.8 96,267.5 92,268.9" fill="#fdd49b" stroke="#fdd49b" stroke-width="0.6"/>
<polygon points="92,268.9 96,267.5 100,265.8 104.1,263.9 108.1,261.7 112.1,259.4 116.1,256.9 120.1,254.2 124.1,251.3 128.2,248.3 132.2,245.2 136.2,242 140.2,238.8 144.2,235.4 148.3,232 152.3,228.6 156.3,225.1 160.3,221.7 164.3,218.2 168.4,214.9 172.4,211.5 176.4,208.2 180.4,205.1 184.4,201.9 188.4,198.9 192.5,195.9 196.5,193.1 200.5,190.3 204.5,187.6 208.5,184.9 212.6,182.4 216.6,179.9 220.6,177.6 224.6,175.3 228.6,173.1 232.7,171 236.7,169 240.7,167.1 244.7,165.3 248.7,163.6 252.7,161.9 256.8,160.3 260.8,158.8 264.8,157.3 268.8,155.8 272.8,154.3 276.9,152.9 280.9,151.4 284.9,149.9 288.9,148.4 292.9,146.8 297,145.2 301,143.5 305,141.8 309,139.9 313,138 317,135.9 321.1,133.8 325.1,131.5 329.1,129.2 333.1,126.7 337.1,124.2 341.2,121.7 345.2,119.1 349.2,116.4 353.2,113.7 357.2,111 361.3,108.2 365.3,105.5 369.3,102.7 373.3,99.9 377.3,97.2 381.3,94.5 385.4,91.7 389.4,89.1 393.4,86.5 397.4,83.9 401.4,81.4 405.5,78.9 409.5,76.5 413.5,74.2 417.5,72 421.5,69.8 425.6,67.7 429.6,65.7 433.6,63.8 437.6,61.9 441.6,60.1 445.6,58.4 449.7,56.8 453.7,55.2 457.7,53.7 461.7,52.3 465.7,51 469.8,49.8 473.8,48.6 477.8,47.5 481.8,46.5 485.8,45.6 489.9,44.8 493.9,44.1 497.9,43.4 501.9,42.8 505.9,42.3 509.9,42 514,41.6 518,41.4 522,41.3 526,41.3 530,41.3 534.1,41.5 538.1,41.7 542.1,42.1 546.1,42.5 550.1,43 554.2,43.5 558.2,44.2 562.2,44.9 566.2,45.7 570.2,46.5 574.2,47.4 578.3,48.4 582.3,49.4 586.3,50.5 590.3,51.6 594.3,52.7 598.4,53.9 602.4,55.1 606.4,56.3 610.4,57.5 614.4,58.8 618.5,60.1 622.5,61.4 626.5,62.7 630.5,64 634.5,65.3 638.5,66.6 642.6,67.9 646.6,69.2 650.6,70.4 650.6,74.7 646.6,73.4 642.6,72.2 638.5,70.9 634.5,69.6 630.5,68.3 626.5,67.1 622.5,65.8 618.5,64.5 614.4,63.3 610.4,62 606.4,60.8 602.4,59.6 598.4,58.4 594.3,57.2 590.3,56.1 586.3,55 582.3,54 578.3,53 574.2,52.1 570.2,51.2 566.2,50.4 562.2,49.6 558.2,48.9 554.2,48.3 550.1,47.7 546.1,47.2 542.1,46.8 538.1,46.5 534.1,46.3 530,46.1 526,46.1 522,46.2 518,46.3 514,46.5 509.9,46.8 505.9,47.2 501.9,47.7 497.9,48.3 493.9,49 489.9,49.7 485.8,50.6 481.8,51.5 477.8,52.5 473.8,53.6 469.8,54.7 465.7,56 461.7,57.3 457.7,58.7 453.7,60.2 449.7,61.8 445.6,63.4 441.6,65.1 437.6,66.9 433.6,68.8 429.6,70.7 425.6,72.7 421.5,74.8 417.5,76.9 413.5,79.2 409.5,81.5 405.5,83.8 401.4,86.2 397.4,88.7 393.4,91.3 389.4,93.9 385.4,96.5 381.3,99.2 377.3,101.9 373.3,104.6 369.3,107.4 365.3,110.1 361.3,112.9 357.2,115.6 353.2,118.3 349.2,120.9 345.2,123.6 341.2,126.2 337.1,128.7 333.1,131.2 329.1,133.6 325.1,135.9 321.1,138.1 317,140.2 313,142.3 309,144.2 305,146 301,147.8 297,149.5 292.9,151.1 288.9,152.6 284.9,154.2 280.9,155.6 276.9,157.1 272.8,158.6 268.8,160.1 264.8,161.5 260.8,163 256.8,164.6 252.7,166.2 248.7,167.9 244.7,169.6 240.7,171.4 236.7,173.3 232.7,175.3 228.6,177.4 224.6,179.6 220.6,181.9 216.6,184.3 212.6,186.7 208.5,189.3 204.5,191.9 200.5,194.6 196.5,197.4 192.5,200.3 188.4,203.2 184.4,206.2 180.4,209.3 176.4,212.5 172.4,215.8 168.4,219.1 164.3,222.4 160.3,225.8 156.3,229.3 152.3,232.7 148.3,236.1 144.2,239.5 140.2,242.8 136.2,246 132.2,249.2 128.2,252.3 124.1,255.3 120.1,258.1 116.1,260.8 112.1,263.4 108.1,265.7 104.1,267.9 100,269.8 96,271.5 92,273" fill="#fdd69b" stroke="#fdd69b" stroke-width="0.6"/>
<polygon points="92,273 96,271.5 100,269.8 104.1,267.9 108.1,265.7 112.1,263.4 116.1,260.8 120.1,258.1 124.1,255.3 128.2,252.3 132.2,249.2 136.2,246 140.2,242.8 144.2,239.5 148.3,236.1 152.3,232.7 156.3,229.3 160.3,225.8 164.3,222.4 168.4,219.1 172.4,215.8 176.4,212.5 180.4,209.3 184.4,206.2 188.4,203.2 192.5,200.3 196.5,197.4 200.5,194.6 204.5,191.9 208.5,189.3 212.6,186.7 216.6,184.3 220.6,181.9 224.6,179.6 228.6,177.4 232.7,175.3 236.7,173.3 240.7,171.4 244.7,169.6 248.7,167.9 252.7,166.2 256.8,164.6 260.8,163 264.8,161.5 268.8,160.1 272.8,158.6 276.9,157.1 280.9,155.6 284.9,154.2 288.9,152.6 292.9,151.1 297,149.5 301,147.8 305,146 309,144.2 313,142.3 317,140.2 321.1,138.1 325.1,135.9 329.1,133.6 333.1,131.2 337.1,128.7 341.2,126.2 345.2,123.6 349.2,120.9 353.2,118.3 357.2,115.6 361.3,112.9 365.3,110.1 369.3,107.4 373.3,104.6 377.3,101.9 381.3,99.2 385.4,96.5 389.4,93.9 393.4,91.3 397.4,88.7 401.4,86.2 405.5,83.8 409.5,81.5 413.5,79.2 417.5,76.9 421.5,74.8 425.6,72.7 429.6,70.7 433.6,68.8 437.6,66.9 441.6,65.1 445.6,63.4 449.7,61.8 453.7,60.2 457.7,58.7 461.7,57.3 465.7,56 469.8,54.7 473.8,53.6 477.8,52.5 481.8,51.5 485.8,50.6 489.9,49.7 493.9,49 497.9,48.3 501.9,47.7 505.9,47.2 509.9,46.8 514,46.5 518,46.3 522,46.2 526,46.1 530,46.1 534.1,46.3 538.1,46.5 542.1,46.8 546.1,47.2 550.1,47.7 554.2,48.3 558.2,48.9 562.2,49.6 566.2,50.4 570.2,51.2 574.2,52.1 578.3,53 582.3,54 586.3,55 590.3,56.1 594.3,57.2 598.4,58.4 602.4,59.6 606.4,60.8 610.4,62 614.4,63.3 618.5,64.5 622.5,65.8 626.5,67.1 630.5,68.3 634.5,69.6 638.5,70.9 642.6,72.2 646.6,73.4 650.6,74.7 650.6,78.9 646.6,77.7 642.6,76.5 638.5,75.2 634.5,74 630.5,72.7 626.5,71.4 622.5,70.2 618.5,68.9 614.4,67.7 610.4,66.5 606.4,65.3 602.4,64.1 598.4,62.9 594.3,61.8 590.3,60.7 586.3,59.6 582.3,58.6 578.3,57.6 574.2,56.7 570.2,55.9 566.2,55 562.2,54.3 558.2,53.6 554.2,53 550.1,52.4 546.1,52 542.1,51.6 538.1,51.3 534.1,51.1 530,51 526,50.9 522,51 518,51.2 514,51.4 509.9,51.7 505.9,52.1 501.9,52.7 497.9,53.2 493.9,53.9 489.9,54.7 485.8,55.5 481.8,56.5 477.8,57.5 473.8,58.6 469.8,59.7 465.7,61 461.7,62.3 457.7,63.7 453.7,65.2 449.7,66.8 445.6,68.4 441.6,70.1 437.6,71.9 433.6,73.7 429.6,75.7 425.6,77.7 421.5,79.7 417.5,81.9 413.5,84.1 409.5,86.4 405.5,88.7 401.4,91.1 397.4,93.6 393.4,96.1 389.4,98.7 385.4,101.3 381.3,104 377.3,106.6 373.3,109.3 369.3,112 365.3,114.8 361.3,117.5 357.2,120.2 353.2,122.8 349.2,125.5 345.2,128.1 341.2,130.6 337.1,133.1 333.1,135.6 329.1,137.9 325.1,140.2 321.1,142.5 317,144.6 313,146.6 309,148.5 305,150.3 301,152.1 297,153.7 292.9,155.3 288.9,156.9 284.9,158.4 280.9,159.9 276.9,161.4 272.8,162.8 268.8,164.3 264.8,165.8 260.8,167.3 256.8,168.9 252.7,170.5 248.7,172.2 244.7,173.9 240.7,175.7 236.7,177.6 232.7,179.6 228.6,181.8 224.6,184 220.6,186.2 216.6,188.6 212.6,191.1 208.5,193.6 204.5,196.2 200.5,199 196.5,201.7 192.5,204.6 188.4,207.5 184.4,210.6 180.4,213.6 176.4,216.8 172.4,220 168.4,223.3 164.3,226.6 160.3,230 156.3,233.4 152.3,236.8 148.3,240.2 144.2,243.5 140.2,246.8 136.2,250.1 132.2,253.2 128.2,256.3 124.1,259.2 120.1,262.1 116.1,264.8 112.1,267.3 108.1,269.7 104.1,271.9 100,273.8 96,275.6 92,277.1" fill="#fdda9b" stroke="#fdda9b" stroke-width="0.6"/>
<polygon points="92,277.1 96,275.6 100,273.8 104.1,271.9 108.1,269.7 112.1,267.3 116.1,264.8 120.1,262.1 124.1,259.2 128.2,256.3 132.2,253.2 136.2,250.1 140.2,246.8 144.2,243.5 148.3,240.2 152.3,236.8 156.3,233.4 160.3,230 164.3,226.6 168.4,223.3 172.4,220 176.4,216.8 180.4,213.6 184.4,210.6 188.4,207.5 192.5,204.6 196.5,201.7 200.5,199 204.5,196.2 208.5,193.6 212.6,191.1 216.6,188.6 220.6,186.2 224.6,184 228.6,181.8 232.7,179.6 236.7,177.6 240.7,175.7 244.7,173.9 248.7,172.2 252.7,170.5 256.8,168.9 260.8,167.3 264.8,165.8 268.8,164.3 272.8,162.8 276.9,161.4 280.9,159.9 284.9,158.4 288.9,156.9 292.9,155.3 297,153.7 301,152.1 305,150.3 309,148.5 313,146.6 317,144.6 321.1,142.5 325.1,140.2 329.1,137.9 333.1,135.6 337.1,133.1 341.2,130.6 345.2,128.1 349.2,125.5 353.2,122.8 357.2,120.2 361.3,117.5 365.3,114.8 369.3,112 373.3,109.3 377.3,106.6 381.3,104 385.4,101.3 389.4,98.7 393.4,96.1 397.4,93.6 401.4,91.1 405.5,88.7 409.5,86.4 413.5,84.1 417.5,81.9 421.5,79.7 425.6,77.7 429.6,75.7 433.6,73.7 437.6,71.9 441.6,70.1 445.6,68.4 449.7,66.8 453.7,65.2 457.7,63.7 461.7,62.3 465.7,61 469.8,59.7 473.8,58.6 477.8,57.5 481.8,56.5 485.8,55.5 489.9,54.7 493.9,53.9 497.9,53.2 501.9,52.7 505.9,52.1 509.9,51.7 514,51.4 518,51.2 522,51 526,50.9 530,51 534.1,51.1 538.1,51.3 542.1,51.6 546.1,52 550.1,52.4 554.2,53 558.2,53.6 562.2,54.3 566.2,55 570.2,55.9 574.2,56.7 578.3,57.6 582.3,58.6 586.3,59.6 590.3,60.7 594.3,61.8 598.4,62.9 602.4,64.1 606.4,65.3 610.4,66.5 614.4,67.7 618.5,68.9 622.5,70.2 626.5,71.4 630.5,72.7 634.5,74 638.5,75.2 642.6,76.5 646.6,77.7 650.6,78.9 650.6,83.1 646.6,82 642.6,80.8 638.5,79.5 634.5,78.3 630.5,77.1 626.5,75.8 622.5,74.6 618.5,73.4 614.4,72.1 610.4,70.9 606.4,69.7 602.4,68.6 598.4,67.4 594.3,66.3 590.3,65.2 586.3,64.2 582.3,63.2 578.3,62.3 574.2,61.4 570.2,60.5 566.2,59.7 562.2,59 558.2,58.3 554.2,57.7 550.1,57.2 546.1,56.7 542.1,56.4 538.1,56.1 534.1,55.9 530,55.8 526,55.8 522,55.8 518,56 514,56.3 509.9,56.6 505.9,57 501.9,57.6 497.9,58.2 493.9,58.9 489.9,59.6 485.8,60.5 481.8,61.4 477.8,62.4 473.8,63.5 469.8,64.7 465.7,66 461.7,67.3 457.7,68.7 453.7,70.2 449.7,71.8 445.6,73.4 441.6,75.1 437.6,76.9 433.6,78.7 429.6,80.6 425.6,82.6 421.5,84.7 417.5,86.8 413.5,89 409.5,91.3 405.5,93.6 401.4,96 397.4,98.4 393.4,100.9 389.4,103.5 385.4,106.1 381.3,108.7 377.3,111.4 373.3,114 369.3,116.7 365.3,119.4 361.3,122.1 357.2,124.7 353.2,127.4 349.2,130 345.2,132.6 341.2,135.1 337.1,137.6 333.1,140 329.1,142.3 325.1,144.6 321.1,146.8 317,148.9 313,150.9 309,152.8 305,154.6 301,156.4 297,158 292.9,159.6 288.9,161.2 284.9,162.7 280.9,164.2 276.9,165.6 272.8,167.1 268.8,168.6 264.8,170.1 260.8,171.6 256.8,173.2 252.7,174.8 248.7,176.4 244.7,178.2 240.7,180 236.7,182 232.7,184 228.6,186.1 224.6,188.3 220.6,190.6 216.6,193 212.6,195.4 208.5,198 204.5,200.6 200.5,203.3 196.5,206.1 192.5,208.9 188.4,211.9 184.4,214.9 180.4,217.9 176.4,221.1 172.4,224.3 168.4,227.5 164.3,230.8 160.3,234.2 156.3,237.5 152.3,240.9 148.3,244.2 144.2,247.6 140.2,250.8 136.2,254.1 132.2,257.2 128.2,260.3 124.1,263.2 120.1,266 116.1,268.7 112.1,271.3 108.1,273.7 104.1,275.9 100,277.9 96,279.7 92,281.2" fill="#fedc9b" stroke="#fedc9b" stroke-width="0.6"/>
<polygon points="92,281.2 96,279.7 100,277.9 104.1,275.9 108.1,273.7 112.1,271.3 116.1,268.7 120.1,266 124.1,263.2 128.2,260.3 132.2,257.2 136.2,254.1 140.2,250.8 144.2,247.6 148.3,244.2 152.3,240.9 156.3,237.5 160.3,234.2 164.3,230.8 168.4,227.5 172.4,224.3 176.4,221.1 180.4,217.9 184.4,214.9 188.4,211.9 192.5,208.9 196.5,206.1 200.5,203.3 204.5,200.6 208.5,198 212.6,195.4 216.6,193 220.6,190.6 224.6,188.3 228.6,186.1 232.7,184 236.7,182 240.7,180 244.7,178.2 248.7,176.4 252.7,174.8 256.8,173.2 260.8,171.6 264.8,170.1 268.8,168.6 272.8,167.1 276.9,165.6 280.9,164.2 284.9,162.7 288.9,161.2 292.9,159.6 297,158 301,156.4 305,154.6 309,152.8 313,150.9 317,148.9 321.1,146.8 325.1,144.6 329.1,142.3 333.1,140 337.1,137.6 341.2,135.1 345.2,132.6 349.2,130 353.2,127.4 357.2,124.7 361.3,122.1 365.3,119.4 369.3,116.7 373.3,114 377.3,111.4 381.3,108.7 385.4,106.1 389.4,103.5 393.4,100.9 397.4,98.4 401.4,96 405.5,93.6 409.5,91.3 413.5,89 417.5,86.8 421.5,84.7 425.6,82.6 429.6,80.6 433.6,78.7 437.6,76.9 441.6,75.1 445.6,73.4 449.7,71.8 453.7,70.2 457.7,68.7 461.7,67.3 465.7,66 469.8,64.7 473.8,63.5 477.8,62.4 481.8,61.4 485.8,60.5 489.9,59.6 493.9,58.9 497.9,58.2 501.9,57.6 505.9,57 509.9,56.6 514,56.3 518,56 522,55.8 526,55.8 530,55.8 534.1,55.9 538.1,56.1 542.1,56.4 546.1,56.7 550.1,57.2 554.2,57.7 558.2,58.3 562.2,59 566.2,59.7 570.2,60.5 574.2,61.4 578.3,62.3 582.3,63.2 586.3,64.2 590.3,65.2 594.3,66.3 598.4,67.4 602.4,68.6 606.4,69.7 610.4,70.9 614.4,72.1 618.5,73.4 622.5,74.6 626.5,75.8 630.5,77.1 634.5,78.3 638.5,79.5 642.6,80.8 646.6,82 650.6,83.1 650.6,87.4 646.6,86.2 642.6,85 638.5,83.8 634.5,82.6 630.5,81.4 626.5,80.2 622.5,79 618.5,77.8 614.4,76.6 610.4,75.4 606.4,74.2 602.4,73.1 598.4,72 594.3,70.9 590.3,69.8 586.3,68.8 582.3,67.8 578.3,66.9 574.2,66 570.2,65.2 566.2,64.4 562.2,63.7 558.2,63 554.2,62.4 550.1,61.9 546.1,61.5 542.1,61.1 538.1,60.9 534.1,60.7 530,60.6 526,60.6 522,60.7 518,60.9 514,61.1 509.9,61.5 505.9,61.9 501.9,62.5 497.9,63.1 493.9,63.8 489.9,64.6 485.8,65.4 481.8,66.4 477.8,67.4 473.8,68.5 469.8,69.7 465.7,71 461.7,72.3 457.7,73.7 453.7,75.2 449.7,76.7 445.6,78.4 441.6,80.1 437.6,81.9 433.6,83.7 429.6,85.6 425.6,87.6 421.5,89.6 417.5,91.8 413.5,93.9 409.5,96.2 405.5,98.5 401.4,100.9 397.4,103.3 393.4,105.8 389.4,108.3 385.4,110.9 381.3,113.5 377.3,116.1 373.3,118.7 369.3,121.4 365.3,124 361.3,126.7 357.2,129.3 353.2,131.9 349.2,134.5 345.2,137 341.2,139.5 337.1,142 333.1,144.4 329.1,146.7 325.1,149 321.1,151.1 317,153.2 313,155.2 309,157.1 305,158.9 301,160.6 297,162.3 292.9,163.9 288.9,165.4 284.9,166.9 280.9,168.4 276.9,169.9 272.8,171.4 268.8,172.8 264.8,174.3 260.8,175.9 256.8,177.4 252.7,179.1 248.7,180.7 244.7,182.5 240.7,184.3 236.7,186.3 232.7,188.3 228.6,190.4 224.6,192.6 220.6,194.9 216.6,197.3 212.6,199.8 208.5,202.3 204.5,204.9 200.5,207.7 196.5,210.4 192.5,213.3 188.4,216.2 184.4,219.2 180.4,222.2 176.4,225.4 172.4,228.5 168.4,231.8 164.3,235 160.3,238.3 156.3,241.7 152.3,245 148.3,248.3 144.2,251.6 140.2,254.9 136.2,258.1 132.2,261.2 128.2,264.2 124.1,267.2 120.1,270 116.1,272.7 112.1,275.2 108.1,277.6 104.1,279.9 100,281.9 96,283.7 92,285.3" fill="#fee09b" stroke="#fee09b" stroke-width="0.6"/>
<polygon points="92,285.3 96,283.7 100,281.9 104.1,279.9 108.1,277.6 112.1,275.2 116.1,272.7 120.1,270 124.1,267.2 128.2,264.2 132.2,261.2 136.2,258.1 140.2,254.9 144.2,251.6 148.3,248.3 152.3,245 156.3,241.7 160.3,238.3 164.3,235 168.4,231.8 172.4,228.5 176.4,225.4 180.4,222.2 184.4,219.2 188.4,216.2 192.5,213.3 196.5,210.4 200.5,207.7 204.5,204.9 208.5,202.3 212.6,199.8 216.6,197.3 220.6,194.9 224.6,192.6 228.6,190.4 232.7,188.3 236.7,186.3 240.7,184.3 244.7,182.5 248.7,180.7 252.7,179.1 256.8,177.4 260.8,175.9 264.8,174.3 268.8,172.8 272.8,171.4 276.9,169.9 280.9,168.4 284.9,166.9 288.9,165.4 292.9,163.9 297,162.3 301,160.6 305,158.9 309,157.1 313,155.2 317,153.2 321.1,151.1 325.1,149 329.1,146.7 333.1,144.4 337.1,142 341.2,139.5 345.2,137 349.2,134.5 353.2,131.9 357.2,129.3 361.3,126.7 365.3,124 369.3,121.4 373.3,118.7 377.3,116.1 381.3,113.5 385.4,110.9 389.4,108.3 393.4,105.8 397.4,103.3 401.4,100.9 405.5,98.5 409.5,96.2 413.5,93.9 417.5,91.8 421.5,89.6 425.6,87.6 429.6,85.6 433.6,83.7 437.6,81.9 441.6,80.1 445.6,78.4 449.7,76.7 453.7,75.2 457.7,73.7 461.7,72.3 465.7,71 469.8,69.7 473.8,68.5 477.8,67.4 481.8,66.4 485.8,65.4 489.9,64.6 493.9,63.8 497.9,63.1 501.9,62.5 505.9,61.9 509.9,61.5 514,61.1 518,60.9 522,60.7 526,60.6 530,60.6 534.1,60.7 538.1,60.9 542.1,61.1 546.1,61.5 550.1,61.9 554.2,62.4 558.2,63 562.2,63.7 566.2,64.4 570.2,65.2 574.2,66 578.3,66.9 582.3,67.8 586.3,68.8 590.3,69.8 594.3,70.9 598.4,72 602.4,73.1 606.4,74.2 610.4,75.4 614.4,76.6 618.5,77.8 622.5,79 626.5,80.2 630.5,81.4 634.5,82.6 638.5,83.8 642.6,85 646.6,86.2 650.6,87.4 650.6,91.6 646.6,90.5 642.6,89.3 638.5,88.2 634.5,87 630.5,85.8 626.5,84.6 622.5,83.4 618.5,82.2 614.4,81 610.4,79.9 606.4,78.7 602.4,77.6 598.4,76.5 594.3,75.4 590.3,74.4 586.3,73.4 582.3,72.4 578.3,71.5 574.2,70.6 570.2,69.8 566.2,69 562.2,68.3 558.2,67.7 554.2,67.1 550.1,66.7 546.1,66.2 542.1,65.9 538.1,65.6 534.1,65.5 530,65.4 526,65.4 522,65.5 518,65.7 514,66 509.9,66.4 505.9,66.8 501.9,67.4 497.9,68 493.9,68.7 489.9,69.5 485.8,70.4 481.8,71.3 477.8,72.4 473.8,73.5 469.8,74.7 465.7,75.9 461.7,77.3 457.7,78.7 453.7,80.2 449.7,81.7 445.6,83.4 441.6,85.1 437.6,86.8 433.6,88.7 429.6,90.6 425.6,92.6 421.5,94.6 417.5,96.7 413.5,98.9 409.5,101.1 405.5,103.4 401.4,105.7 397.4,108.1 393.4,110.6 389.4,113.1 385.4,115.6 381.3,118.2 377.3,120.8 373.3,123.4 369.3,126 365.3,128.7 361.3,131.3 357.2,133.9 353.2,136.5 349.2,139 345.2,141.5 341.2,144 337.1,146.4 333.1,148.8 329.1,151.1 325.1,153.3 321.1,155.5 317,157.6 313,159.5 309,161.4 305,163.2 301,164.9 297,166.5 292.9,168.1 288.9,169.7 284.9,171.2 280.9,172.7 276.9,174.2 272.8,175.6 268.8,177.1 264.8,178.6 260.8,180.1 256.8,181.7 252.7,183.3 248.7,185 244.7,186.8 240.7,188.6 236.7,190.6 232.7,192.6 228.6,194.7 224.6,197 220.6,199.3 216.6,201.6 212.6,204.1 208.5,206.7 204.5,209.3 200.5,212 196.5,214.8 192.5,217.6 188.4,220.5 184.4,223.5 180.4,226.5 176.4,229.6 172.4,232.8 168.4,236 164.3,239.2 160.3,242.5 156.3,245.8 152.3,249.1 148.3,252.4 144.2,255.7 140.2,258.9 136.2,262.1 132.2,265.2 128.2,268.2 124.1,271.1 120.1,274 116.1,276.7 112.1,279.2 108.1,281.6 104.1,283.9 100,285.9 96,287.8 92,289.5" fill="#fee29b" stroke="#fee29b" stroke-width="0.6"/>
<polygon points="92,289.5 96,287.8 100,285.9 104.1,283.9 108.1,281.6 112.1,279.2 116.1,276.7 120.1,274 124.1,271.1 128.2,268.2 132.2,265.2 136.2,262.1 140.2,258.9 144.2,255.7 148.3,252.4 152.3,249.1 156.3,245.8 160.3,242.5 164.3,239.2 168.4,236 172.4,232.8 176.4,229.6 180.4,226.5 184.4,223.5 188.4,220.5 192.5,217.6 196.5,214.8 200.5,212 204.5,209.3 208.5,206.7 212.6,204.1 216.6,201.6 220.6,199.3 224.6,197 228.6,194.7 232.7,192.6 236.7,190.6 240.7,188.6 244.7,186.8 248.7,185 252.7,183.3 256.8,181.7 260.8,180.1 264.8,178.6 268.8,177.1 272.8,175.6 276.9,174.2 280.9,172.7 284.9,171.2 288.9,169.7 292.9,168.1 297,166.5 301,164.9 305,163.2 309,161.4 313,159.5 317,157.6 321.1,155.5 325.1,153.3 329.1,151.1 333.1,148.8 337.1,146.4 341.2,144 345.2,141.5 349.2,139 353.2,136.5 357.2,133.9 361.3,131.3 365.3,128.7 369.3,126 373.3,123.4 377.3,120.8 381.3,118.2 385.4,115.6 389.4,113.1 393.4,110.6 397.4,108.1 401.4,105.7 405.5,103.4 409.5,101.1 413.5,98.9 417.5,96.7 421.5,94.6 425.6,92.6 429.6,90.6 433.6,88.7 437.6,86.8 441.6,85.1 445.6,83.4 449.7,81.7 453.7,80.2 457.7,78.7 461.7,77.3 465.7,75.9 469.8,74.7 473.8,73.5 477.8,72.4 481.8,71.3 485.8,70.4 489.9,69.5 493.9,68.7 497.9,68 501.9,67.4 505.9,66.8 509.9,66.4 514,66 518,65.7 522,65.5 526,65.4 530,65.4 534.1,65.5 538.1,65.6 542.1,65.9 546.1,66.2 550.1,66.7 554.2,67.1 558.2,67.7 562.2,68.3 566.2,69 570.2,69.8 574.2,70.6 578.3,71.5 582.3,72.4 586.3,73.4 590.3,74.4 594.3,75.4 598.4,76.5 602.4,77.6 606.4,78.7 610.4,79.9 614.4,81 618.5,82.2 622.5,83.4 626.5,84.6 630.5,85.8 634.5,87 638.5,88.2 642.6,89.3 646.6,90.5 650.6,91.6 650.6,95.9 646.6,94.8 642.6,93.6 638.5,92.5 634.5,91.3 630.5,90.1 626.5,89 622.5,87.8 618.5,86.6 614.4,85.5 610.4,84.3 606.4,83.2 602.4,82.1 598.4,81 594.3,80 590.3,78.9 586.3,78 582.3,77 578.3,76.1 574.2,75.3 570.2,74.5 566.2,73.7 562.2,73 558.2,72.4 554.2,71.9 550.1,71.4 546.1,71 542.1,70.7 538.1,70.4 534.1,70.3 530,70.2 526,70.3 522,70.4 518,70.6 514,70.9 509.9,71.3 505.9,71.7 501.9,72.3 497.9,72.9 493.9,73.7 489.9,74.5 485.8,75.3 481.8,76.3 477.8,77.3 473.8,78.5 469.8,79.7 465.7,80.9 461.7,82.3 457.7,83.7 453.7,85.2 449.7,86.7 445.6,88.4 441.6,90.1 437.6,91.8 433.6,93.7 429.6,95.6 425.6,97.5 421.5,99.6 417.5,101.6 413.5,103.8 409.5,106 405.5,108.3 401.4,110.6 397.4,113 393.4,115.4 389.4,117.9 385.4,120.4 381.3,123 377.3,125.5 373.3,128.1 369.3,130.7 365.3,133.3 361.3,135.9 357.2,138.5 353.2,141 349.2,143.5 345.2,146 341.2,148.5 337.1,150.9 333.1,153.2 329.1,155.5 325.1,157.7 321.1,159.8 317,161.9 313,163.8 309,165.7 305,167.5 301,169.2 297,170.8 292.9,172.4 288.9,173.9 284.9,175.5 280.9,176.9 276.9,178.4 272.8,179.9 268.8,181.4 264.8,182.9 260.8,184.4 256.8,186 252.7,187.6 248.7,189.3 244.7,191.1 240.7,193 236.7,194.9 232.7,196.9 228.6,199.1 224.6,201.3 220.6,203.6 216.6,206 212.6,208.5 208.5,211 204.5,213.6 200.5,216.3 196.5,219.1 192.5,221.9 188.4,224.8 184.4,227.8 180.4,230.8 176.4,233.9 172.4,237 168.4,240.2 164.3,243.4 160.3,246.7 156.3,250 152.3,253.2 148.3,256.5 144.2,259.7 140.2,262.9 136.2,266.1 132.2,269.2 128.2,272.2 124.1,275.1 120.1,277.9 116.1,280.6 112.1,283.2 108.1,285.6 104.1,287.9 100,290 96,291.9 92,293.6" fill="#fee69b" stroke="#fee69b" stroke-width="0.6"/>
<polyline points="92,260.6 96,259.3 100,257.7 104.1,255.9 108.1,253.8 112.1,251.5 116.1,249 120.1,246.3 124.1,243.4 128.2,240.4 132.2,237.3 136.2,234 140.2,230.7 144.2,227.3 148.3,223.8 152.3,220.3 156.3,216.8 160.3,213.3 164.3,209.8 168.4,206.4 172.4,203 176.4,199.7 180.4,196.5 184.4,193.3 188.4,190.3 192.5,187.3 196.5,184.4 200.5,181.6 204.5,178.9 208.5,176.2 212.6,173.7 216.6,171.2 220.6,168.9 224.6,166.6 228.6,164.4 232.7,162.4 236.7,160.4 240.7,158.5 244.7,156.7 248.7,155 252.7,153.3 256.8,151.8 260.8,150.2 264.8,148.7 268.8,147.3 272.8,145.8 276.9,144.3 280.9,142.9 284.9,141.4 288.9,139.9 292.9,138.3 297,136.7 301,135 305,133.2 309,131.3 313,129.4 317,127.3 321.1,125.1 325.1,122.8 329.1,120.4 333.1,117.9 337.1,115.4 341.2,112.8 345.2,110.1 349.2,107.4 353.2,104.6 357.2,101.8 361.3,99 365.3,96.2 369.3,93.4 373.3,90.6 377.3,87.7 381.3,85 385.4,82.2 389.4,79.5 393.4,76.8 397.4,74.2 401.4,71.6 405.5,69.1 409.5,66.7 413.5,64.4 417.5,62.1 421.5,59.9 425.6,57.8 429.6,55.8 433.6,53.8 437.6,52 441.6,50.2 445.6,48.4 449.7,46.8 453.7,45.2 457.7,43.7 461.7,42.4 465.7,41 469.8,39.8 473.8,38.7 477.8,37.6 481.8,36.6 485.8,35.7 489.9,34.9 493.9,34.2 497.9,33.6 501.9,33 505.9,32.6 509.9,32.2 514,31.9 518,31.7 522,31.6 526,31.6 530,31.7 534.1,31.9 538.1,32.2 542.1,32.5 546.1,33 550.1,33.5 554.2,34.1 558.2,34.8 562.2,35.5 566.2,36.4 570.2,37.2 574.2,38.2 578.3,39.2 582.3,40.2 586.3,41.3 590.3,42.4 594.3,43.6 598.4,44.8 602.4,46.1 606.4,47.3 610.4,48.6 614.4,49.9 618.5,51.2 622.5,52.6 626.5,53.9 630.5,55.3 634.5,56.6 638.5,58 642.6,59.3 646.6,60.6 650.6,61.9" fill="none" stroke="#e3906a" stroke-width="0.8"/>
</g>
<g clip-path="url(#mp)">
<polygon points="92,562 96,560.9 100,559.6 104.1,558.2 108.1,556.6 112.1,555 116.1,553.2 120.1,551.3 124.1,549.4 128.2,547.3 132.2,545.2 136.2,542.9 140.2,540.6 144.2,538.3 148.3,535.8 152.3,533.3 156.3,530.8 160.3,528.2 164.3,525.6 168.4,523 172.4,520.3 176.4,517.7 180.4,515 184.4,512.3 188.4,509.6 192.5,506.9 196.5,504.3 200.5,501.6 204.5,499 208.5,496.4 212.6,493.9 216.6,491.4 220.6,489 224.6,486.6 228.6,484.3 232.7,482.1 236.7,479.9 240.7,477.8 244.7,475.9 248.7,474 252.7,472.2 256.8,470.5 260.8,469 264.8,467.6 268.8,466.3 272.8,465.1 276.9,464 280.9,463 284.9,462.1 288.9,461.2 292.9,460.4 297,459.6 301,458.9 305,458.2 309,457.5 313,456.9 317,456.3 321.1,455.7 325.1,455.1 329.1,454.5 333.1,454 337.1,453.5 341.2,453 345.2,452.4 349.2,451.9 353.2,451.4 357.2,450.8 361.3,450.2 365.3,449.5 369.3,448.8 373.3,448.1 377.3,447.4 381.3,446.6 385.4,445.8 389.4,445 393.4,444.1 397.4,443.2 401.4,442.2 405.5,441.1 409.5,439.9 413.5,438.7 417.5,437.3 421.5,435.9 425.6,434.3 429.6,432.7 433.6,431.1 437.6,429.4 441.6,427.6 445.6,425.9 449.7,424 453.7,422.2 457.7,420.4 461.7,418.6 465.7,416.7 469.8,414.9 473.8,413.1 477.8,411.4 481.8,409.7 485.8,408.1 489.9,406.5 493.9,405 497.9,403.6 501.9,402.3 505.9,401.2 509.9,400.1 514,399.2 518,398.4 522,397.6 526,396.9 530,396.2 534.1,395.5 538.1,394.8 542.1,394.1 546.1,393.4 550.1,392.7 554.2,392 558.2,391.2 562.2,390.5 566.2,389.8 570.2,389.1 574.2,388.4 578.3,387.7 582.3,387.1 586.3,386.4 590.3,385.8 594.3,385.2 598.4,384.6 602.4,384 606.4,383.4 610.4,382.9 614.4,382.5 618.5,382 622.5,381.6 626.5,381.3 630.5,381 634.5,380.8 638.5,380.7 642.6,380.7 646.6,380.9 650.6,381.2 650.6,371.1 646.6,370.8 642.6,370.6 638.5,370.6 634.5,370.6 630.5,370.8 626.5,371 622.5,371.3 618.5,371.7 614.4,372.1 610.4,372.5 606.4,373 602.4,373.5 598.4,374 594.3,374.5 590.3,375.1 586.3,375.7 582.3,376.3 578.3,376.9 574.2,377.5 570.2,378.1 566.2,378.7 562.2,379.3 558.2,380 554.2,380.6 550.1,381.3 546.1,381.9 542.1,382.6 538.1,383.3 534.1,384 530,384.6 526,385.3 522,386.1 518,386.8 514,387.7 509.9,388.6 505.9,389.7 501.9,390.8 497.9,392.1 493.9,393.4 489.9,394.9 485.8,396.4 481.8,397.9 477.8,399.6 473.8,401.2 469.8,403 465.7,404.7 461.7,406.5 457.7,408.2 453.7,410 449.7,411.8 445.6,413.6 441.6,415.3 437.6,417 433.6,418.7 429.6,420.4 425.6,422 421.5,423.5 417.5,425 413.5,426.4 409.5,427.8 405.5,429 401.4,430.2 397.4,431.3 393.4,432.4 389.4,433.4 385.4,434.3 381.3,435.2 377.3,436.1 373.3,436.9 369.3,437.7 365.3,438.5 361.3,439.2 357.2,439.9 353.2,440.6 349.2,441.2 345.2,441.7 341.2,442.3 337.1,442.8 333.1,443.4 329.1,443.9 325.1,444.5 321.1,445.1 317,445.7 313,446.4 309,447.1 305,447.9 301,448.7 297,449.6 292.9,450.5 288.9,451.5 284.9,452.6 280.9,453.7 276.9,454.9 272.8,456.1 268.8,457.5 264.8,458.9 260.8,460.5 256.8,462.1 252.7,463.8 248.7,465.7 244.7,467.5 240.7,469.5 236.7,471.5 232.7,473.6 228.6,475.8 224.6,478 220.6,480.2 216.6,482.5 212.6,484.8 208.5,487.2 204.5,489.6 200.5,492.1 196.5,494.5 192.5,497 188.4,499.6 184.4,502.1 180.4,504.6 176.4,507.2 172.4,509.7 168.4,512.2 164.3,514.7 160.3,517.2 156.3,519.7 152.3,522.2 148.3,524.6 144.2,526.9 140.2,529.3 136.2,531.5 132.2,533.8 128.2,535.9 124.1,538 120.1,540 116.1,542 112.1,543.9 108.1,545.6 104.1,547.3 100,548.9 96,550.4 92,551.8" fill="#fa9398" stroke="#fa9398" stroke-width="0.6"/>
<polygon points="92,551.8 96,550.4 100,548.9 104.1,547.3 108.1,545.6 112.1,543.9 116.1,542 120.1,540 124.1,538 128.2,535.9 132.2,533.8 136.2,531.5 140.2,529.3 144.2,526.9 148.3,524.6 152.3,522.2 156.3,519.7 160.3,517.2 164.3,514.7 168.4,512.2 172.4,509.7 176.4,507.2 180.4,504.6 184.4,502.1 188.4,499.6 192.5,497 196.5,494.5 200.5,492.1 204.5,489.6 208.5,487.2 212.6,484.8 216.6,482.5 220.6,480.2 224.6,478 228.6,475.8 232.7,473.6 236.7,471.5 240.7,469.5 244.7,467.5 248.7,465.7 252.7,463.8 256.8,462.1 260.8,460.5 264.8,458.9 268.8,457.5 272.8,456.1 276.9,454.9 280.9,453.7 284.9,452.6 288.9,451.5 292.9,450.5 297,449.6 301,448.7 305,447.9 309,447.1 313,446.4 317,445.7 321.1,445.1 325.1,444.5 329.1,443.9 333.1,443.4 337.1,442.8 341.2,442.3 345.2,441.7 349.2,441.2 353.2,440.6 357.2,439.9 361.3,439.2 365.3,438.5 369.3,437.7 373.3,436.9 377.3,436.1 381.3,435.2 385.4,434.3 389.4,433.4 393.4,432.4 397.4,431.3 401.4,430.2 405.5,429 409.5,427.8 413.5,426.4 417.5,425 421.5,423.5 425.6,422 429.6,420.4 433.6,418.7 437.6,417 441.6,415.3 445.6,413.6 449.7,411.8 453.7,410 457.7,408.2 461.7,406.5 465.7,404.7 469.8,403 473.8,401.2 477.8,399.6 481.8,397.9 485.8,396.4 489.9,394.9 493.9,393.4 497.9,392.1 501.9,390.8 505.9,389.7 509.9,388.6 514,387.7 518,386.8 522,386.1 526,385.3 530,384.6 534.1,384 538.1,383.3 542.1,382.6 546.1,381.9 550.1,381.3 554.2,380.6 558.2,380 562.2,379.3 566.2,378.7 570.2,378.1 574.2,377.5 578.3,376.9 582.3,376.3 586.3,375.7 590.3,375.1 594.3,374.5 598.4,374 602.4,373.5 606.4,373 610.4,372.5 614.4,372.1 618.5,371.7 622.5,371.3 626.5,371 630.5,370.8 634.5,370.6 638.5,370.6 642.6,370.6 646.6,370.8 650.6,371.1 650.6,366.1 646.6,365.8 642.6,365.6 638.5,365.5 634.5,365.5 630.5,365.7 626.5,365.9 622.5,366.1 618.5,366.5 614.4,366.9 610.4,367.3 606.4,367.7 602.4,368.2 598.4,368.7 594.3,369.2 590.3,369.7 586.3,370.3 582.3,370.9 578.3,371.4 574.2,372 570.2,372.6 566.2,373.2 562.2,373.8 558.2,374.4 554.2,375 550.1,375.6 546.1,376.2 542.1,376.9 538.1,377.5 534.1,378.2 530,378.9 526,379.6 522,380.3 518,381.1 514,381.9 509.9,382.9 505.9,383.9 501.9,385.1 497.9,386.3 493.9,387.6 489.9,389 485.8,390.5 481.8,392.1 477.8,393.6 473.8,395.3 469.8,397 465.7,398.7 461.7,400.4 457.7,402.2 453.7,403.9 449.7,405.7 445.6,407.4 441.6,409.1 437.6,410.8 433.6,412.5 429.6,414.2 425.6,415.8 421.5,417.4 417.5,418.9 413.5,420.3 409.5,421.7 405.5,423 401.4,424.2 397.4,425.4 393.4,426.5 389.4,427.5 385.4,428.5 381.3,429.5 377.3,430.4 373.3,431.3 369.3,432.2 365.3,433 361.3,433.7 357.2,434.5 353.2,435.2 349.2,435.8 345.2,436.4 341.2,436.9 337.1,437.5 333.1,438.1 329.1,438.6 325.1,439.2 321.1,439.8 317,440.5 313,441.2 309,441.9 305,442.7 301,443.6 297,444.5 292.9,445.5 288.9,446.6 284.9,447.8 280.9,449 276.9,450.3 272.8,451.6 268.8,453.1 264.8,454.6 260.8,456.2 256.8,457.9 252.7,459.7 248.7,461.5 244.7,463.4 240.7,465.3 236.7,467.3 232.7,469.4 228.6,471.5 224.6,473.6 220.6,475.8 216.6,478.1 212.6,480.3 208.5,482.6 204.5,484.9 200.5,487.3 196.5,489.7 192.5,492.1 188.4,494.5 184.4,497 180.4,499.4 176.4,501.9 172.4,504.4 168.4,506.8 164.3,509.3 160.3,511.7 156.3,514.2 152.3,516.6 148.3,518.9 144.2,521.3 140.2,523.6 136.2,525.9 132.2,528.1 128.2,530.2 124.1,532.4 120.1,534.4 116.1,536.4 112.1,538.3 108.1,540.1 104.1,541.9 100,543.6 96,545.1 92,546.6" fill="#fbb19d" stroke="#fbb19d" stroke-width="0.6"/>
<polygon points="92,546.6 96,545.1 100,543.6 104.1,541.9 108.1,540.1 112.1,538.3 116.1,536.4 120.1,534.4 124.1,532.4 128.2,530.2 132.2,528.1 136.2,525.9 140.2,523.6 144.2,521.3 148.3,518.9 152.3,516.6 156.3,514.2 160.3,511.7 164.3,509.3 168.4,506.8 172.4,504.4 176.4,501.9 180.4,499.4 184.4,497 188.4,494.5 192.5,492.1 196.5,489.7 200.5,487.3 204.5,484.9 208.5,482.6 212.6,480.3 216.6,478.1 220.6,475.8 224.6,473.6 228.6,471.5 232.7,469.4 236.7,467.3 240.7,465.3 244.7,463.4 248.7,461.5 252.7,459.7 256.8,457.9 260.8,456.2 264.8,454.6 268.8,453.1 272.8,451.6 276.9,450.3 280.9,449 284.9,447.8 288.9,446.6 292.9,445.5 297,444.5 301,443.6 305,442.7 309,441.9 313,441.2 317,440.5 321.1,439.8 325.1,439.2 329.1,438.6 333.1,438.1 337.1,437.5 341.2,436.9 345.2,436.4 349.2,435.8 353.2,435.2 357.2,434.5 361.3,433.7 365.3,433 369.3,432.2 373.3,431.3 377.3,430.4 381.3,429.5 385.4,428.5 389.4,427.5 393.4,426.5 397.4,425.4 401.4,424.2 405.5,423 409.5,421.7 413.5,420.3 417.5,418.9 421.5,417.4 425.6,415.8 429.6,414.2 433.6,412.5 437.6,410.8 441.6,409.1 445.6,407.4 449.7,405.7 453.7,403.9 457.7,402.2 461.7,400.4 465.7,398.7 469.8,397 473.8,395.3 477.8,393.6 481.8,392.1 485.8,390.5 489.9,389 493.9,387.6 497.9,386.3 501.9,385.1 505.9,383.9 509.9,382.9 514,381.9 518,381.1 522,380.3 526,379.6 530,378.9 534.1,378.2 538.1,377.5 542.1,376.9 546.1,376.2 550.1,375.6 554.2,375 558.2,374.4 562.2,373.8 566.2,373.2 570.2,372.6 574.2,372 578.3,371.4 582.3,370.9 586.3,370.3 590.3,369.7 594.3,369.2 598.4,368.7 602.4,368.2 606.4,367.7 610.4,367.3 614.4,366.9 618.5,366.5 622.5,366.1 626.5,365.9 630.5,365.7 634.5,365.5 638.5,365.5 642.6,365.6 646.6,365.8 650.6,366.1 650.6,361 646.6,360.7 642.6,360.5 638.5,360.4 634.5,360.5 630.5,360.6 626.5,360.7 622.5,361 618.5,361.3 614.4,361.7 610.4,362 606.4,362.5 602.4,362.9 598.4,363.4 594.3,363.9 590.3,364.4 586.3,364.9 582.3,365.4 578.3,366 574.2,366.5 570.2,367.1 566.2,367.6 562.2,368.2 558.2,368.7 554.2,369.3 550.1,369.9 546.1,370.5 542.1,371.1 538.1,371.8 534.1,372.4 530,373.1 526,373.8 522,374.5 518,375.3 514,376.2 509.9,377.1 505.9,378.2 501.9,379.3 497.9,380.5 493.9,381.8 489.9,383.2 485.8,384.7 481.8,386.2 477.8,387.7 473.8,389.3 469.8,391 465.7,392.7 461.7,394.4 457.7,396.1 453.7,397.8 449.7,399.5 445.6,401.3 441.6,403 437.6,404.7 433.6,406.3 429.6,408 425.6,409.6 421.5,411.2 417.5,412.7 413.5,414.2 409.5,415.6 405.5,416.9 401.4,418.2 397.4,419.4 393.4,420.6 389.4,421.7 385.4,422.8 381.3,423.8 377.3,424.8 373.3,425.7 369.3,426.6 365.3,427.5 361.3,428.3 357.2,429 353.2,429.8 349.2,430.4 345.2,431 341.2,431.6 337.1,432.2 333.1,432.8 329.1,433.3 325.1,433.9 321.1,434.5 317,435.2 313,435.9 309,436.7 305,437.6 301,438.5 297,439.5 292.9,440.6 288.9,441.8 284.9,443 280.9,444.3 276.9,445.7 272.8,447.1 268.8,448.6 264.8,450.2 260.8,451.9 256.8,453.7 252.7,455.5 248.7,457.3 244.7,459.2 240.7,461.2 236.7,463.1 232.7,465.2 228.6,467.2 224.6,469.3 220.6,471.4 216.6,473.6 212.6,475.8 208.5,478 204.5,480.3 200.5,482.5 196.5,484.8 192.5,487.2 188.4,489.5 184.4,491.9 180.4,494.3 176.4,496.6 172.4,499 168.4,501.4 164.3,503.8 160.3,506.2 156.3,508.6 152.3,511 148.3,513.3 144.2,515.6 140.2,517.9 136.2,520.2 132.2,522.4 128.2,524.6 124.1,526.7 120.1,528.8 116.1,530.8 112.1,532.7 108.1,534.6 104.1,536.5 100,538.2 96,539.9 92,541.5" fill="#fbb49d" stroke="#fbb49d" stroke-width="0.6"/>
<polygon points="92,541.5 96,539.9 100,538.2 104.1,536.5 108.1,534.6 112.1,532.7 116.1,530.8 120.1,528.8 124.1,526.7 128.2,524.6 132.2,522.4 136.2,520.2 140.2,517.9 144.2,515.6 148.3,513.3 152.3,511 156.3,508.6 160.3,506.2 164.3,503.8 168.4,501.4 172.4,499 176.4,496.6 180.4,494.3 184.4,491.9 188.4,489.5 192.5,487.2 196.5,484.8 200.5,482.5 204.5,480.3 208.5,478 212.6,475.8 216.6,473.6 220.6,471.4 224.6,469.3 228.6,467.2 232.7,465.2 236.7,463.1 240.7,461.2 244.7,459.2 248.7,457.3 252.7,455.5 256.8,453.7 260.8,451.9 264.8,450.2 268.8,448.6 272.8,447.1 276.9,445.7 280.9,444.3 284.9,443 288.9,441.8 292.9,440.6 297,439.5 301,438.5 305,437.6 309,436.7 313,435.9 317,435.2 321.1,434.5 325.1,433.9 329.1,433.3 333.1,432.8 337.1,432.2 341.2,431.6 345.2,431 349.2,430.4 353.2,429.8 357.2,429 361.3,428.3 365.3,427.5 369.3,426.6 373.3,425.7 377.3,424.8 381.3,423.8 385.4,422.8 389.4,421.7 393.4,420.6 397.4,419.4 401.4,418.2 405.5,416.9 409.5,415.6 413.5,414.2 417.5,412.7 421.5,411.2 425.6,409.6 429.6,408 433.6,406.3 437.6,404.7 441.6,403 445.6,401.3 449.7,399.5 453.7,397.8 457.7,396.1 461.7,394.4 465.7,392.7 469.8,391 473.8,389.3 477.8,387.7 481.8,386.2 485.8,384.7 489.9,383.2 493.9,381.8 497.9,380.5 501.9,379.3 505.9,378.2 509.9,377.1 514,376.2 518,375.3 522,374.5 526,373.8 530,373.1 534.1,372.4 538.1,371.8 542.1,371.1 546.1,370.5 550.1,369.9 554.2,369.3 558.2,368.7 562.2,368.2 566.2,367.6 570.2,367.1 574.2,366.5 578.3,366 582.3,365.4 586.3,364.9 590.3,364.4 594.3,363.9 598.4,363.4 602.4,362.9 606.4,362.5 610.4,362 614.4,361.7 618.5,361.3 622.5,361 626.5,360.7 630.5,360.6 634.5,360.5 638.5,360.4 642.6,360.5 646.6,360.7 650.6,361 650.6,356 646.6,355.7 642.6,355.5 638.5,355.4 634.5,355.4 630.5,355.5 626.5,355.6 622.5,355.8 618.5,356.1 614.4,356.5 610.4,356.8 606.4,357.2 602.4,357.7 598.4,358.1 594.3,358.6 590.3,359.1 586.3,359.6 582.3,360 578.3,360.5 574.2,361 570.2,361.5 566.2,362 562.2,362.6 558.2,363.1 554.2,363.6 550.1,364.2 546.1,364.8 542.1,365.4 538.1,366 534.1,366.6 530,367.3 526,368 522,368.8 518,369.6 514,370.4 509.9,371.4 505.9,372.4 501.9,373.5 497.9,374.7 493.9,376 489.9,377.4 485.8,378.8 481.8,380.3 477.8,381.8 473.8,383.4 469.8,385 465.7,386.6 461.7,388.3 457.7,390 453.7,391.7 449.7,393.4 445.6,395.1 441.6,396.8 437.6,398.5 433.6,400.2 429.6,401.8 425.6,403.4 421.5,405 417.5,406.6 413.5,408.1 409.5,409.5 405.5,410.9 401.4,412.2 397.4,413.5 393.4,414.7 389.4,415.9 385.4,417 381.3,418.1 377.3,419.1 373.3,420.1 369.3,421.1 365.3,422 361.3,422.8 357.2,423.6 353.2,424.3 349.2,425 345.2,425.7 341.2,426.3 337.1,426.9 333.1,427.4 329.1,428 325.1,428.6 321.1,429.3 317,430 313,430.7 309,431.5 305,432.4 301,433.4 297,434.5 292.9,435.6 288.9,436.9 284.9,438.2 280.9,439.6 276.9,441.1 272.8,442.6 268.8,444.2 264.8,445.9 260.8,447.7 256.8,449.5 252.7,451.3 248.7,453.2 244.7,455.1 240.7,457 236.7,459 232.7,460.9 228.6,462.9 224.6,465 220.6,467 216.6,469.1 212.6,471.3 208.5,473.4 204.5,475.6 200.5,477.8 196.5,480 192.5,482.2 188.4,484.5 184.4,486.8 180.4,489.1 176.4,491.4 172.4,493.7 168.4,496.1 164.3,498.4 160.3,500.7 156.3,503.1 152.3,505.4 148.3,507.7 144.2,510 140.2,512.2 136.2,514.5 132.2,516.7 128.2,518.9 124.1,521 120.1,523.1 116.1,525.2 112.1,527.2 108.1,529.1 104.1,531.1 100,532.9 96,534.7 92,536.4" fill="#fbb89d" stroke="#fbb89d" stroke-width="0.6"/>
<polygon points="92,536.4 96,534.7 100,532.9 104.1,531.1 108.1,529.1 112.1,527.2 116.1,525.2 120.1,523.1 124.1,521 128.2,518.9 132.2,516.7 136.2,514.5 140.2,512.2 144.2,510 148.3,507.7 152.3,505.4 156.3,503.1 160.3,500.7 164.3,498.4 168.4,496.1 172.4,493.7 176.4,491.4 180.4,489.1 184.4,486.8 188.4,484.5 192.5,482.2 196.5,480 200.5,477.8 204.5,475.6 208.5,473.4 212.6,471.3 216.6,469.1 220.6,467 224.6,465 228.6,462.9 232.7,460.9 236.7,459 240.7,457 244.7,455.1 248.7,453.2 252.7,451.3 256.8,449.5 260.8,447.7 264.8,445.9 268.8,444.2 272.8,442.6 276.9,441.1 280.9,439.6 284.9,438.2 288.9,436.9 292.9,435.6 297,434.5 301,433.4 305,432.4 309,431.5 313,430.7 317,430 321.1,429.3 325.1,428.6 329.1,428 333.1,427.4 337.1,426.9 341.2,426.3 345.2,425.7 349.2,425 353.2,424.3 357.2,423.6 361.3,422.8 365.3,422 369.3,421.1 373.3,420.1 377.3,419.1 381.3,418.1 385.4,417 389.4,415.9 393.4,414.7 397.4,413.5 401.4,412.2 405.5,410.9 409.5,409.5 413.5,408.1 417.5,406.6 421.5,405 425.6,403.4 429.6,401.8 433.6,400.2 437.6,398.5 441.6,396.8 445.6,395.1 449.7,393.4 453.7,391.7 457.7,390 461.7,388.3 465.7,386.6 469.8,385 473.8,383.4 477.8,381.8 481.8,380.3 485.8,378.8 489.9,377.4 493.9,376 497.9,374.7 501.9,373.5 505.9,372.4 509.9,371.4 514,370.4 518,369.6 522,368.8 526,368 530,367.3 534.1,366.6 538.1,366 542.1,365.4 546.1,364.8 550.1,364.2 554.2,363.6 558.2,363.1 562.2,362.6 566.2,362 570.2,361.5 574.2,361 578.3,360.5 582.3,360 586.3,359.6 590.3,359.1 594.3,358.6 598.4,358.1 602.4,357.7 606.4,357.2 610.4,356.8 614.4,356.5 618.5,356.1 622.5,355.8 626.5,355.6 630.5,355.5 634.5,355.4 638.5,355.4 642.6,355.5 646.6,355.7 650.6,356 650.6,350.9 646.6,350.6 642.6,350.4 638.5,350.3 634.5,350.3 630.5,350.3 626.5,350.5 622.5,350.7 618.5,350.9 614.4,351.3 610.4,351.6 606.4,352 602.4,352.4 598.4,352.8 594.3,353.3 590.3,353.7 586.3,354.2 582.3,354.6 578.3,355.1 574.2,355.6 570.2,356 566.2,356.5 562.2,357 558.2,357.5 554.2,358 550.1,358.5 546.1,359.1 542.1,359.6 538.1,360.2 534.1,360.9 530,361.5 526,362.2 522,363 518,363.8 514,364.7 509.9,365.6 505.9,366.6 501.9,367.8 497.9,369 493.9,370.2 489.9,371.6 485.8,373 481.8,374.4 477.8,375.9 473.8,377.4 469.8,379 465.7,380.6 461.7,382.3 457.7,383.9 453.7,385.6 449.7,387.3 445.6,389 441.6,390.6 437.6,392.3 433.6,394 429.6,395.6 425.6,397.2 421.5,398.8 417.5,400.4 413.5,401.9 409.5,403.4 405.5,404.8 401.4,406.2 397.4,407.6 393.4,408.8 389.4,410.1 385.4,411.3 381.3,412.4 377.3,413.5 373.3,414.5 369.3,415.5 365.3,416.5 361.3,417.3 357.2,418.2 353.2,418.9 349.2,419.7 345.2,420.3 341.2,420.9 337.1,421.5 333.1,422.1 329.1,422.7 325.1,423.3 321.1,424 317,424.7 313,425.5 309,426.3 305,427.2 301,428.3 297,429.4 292.9,430.7 288.9,432 284.9,433.4 280.9,434.9 276.9,436.5 272.8,438.1 268.8,439.8 264.8,441.6 260.8,443.4 256.8,445.2 252.7,447.1 248.7,449 244.7,450.9 240.7,452.8 236.7,454.8 232.7,456.7 228.6,458.7 224.6,460.7 220.6,462.7 216.6,464.7 212.6,466.7 208.5,468.8 204.5,470.9 200.5,473 196.5,475.1 192.5,477.3 188.4,479.5 184.4,481.7 180.4,483.9 176.4,486.1 172.4,488.4 168.4,490.7 164.3,492.9 160.3,495.2 156.3,497.5 152.3,499.8 148.3,502.1 144.2,504.3 140.2,506.6 136.2,508.8 132.2,511 128.2,513.2 124.1,515.4 120.1,517.5 116.1,519.6 112.1,521.6 108.1,523.7 104.1,525.6 100,527.6 96,529.4 92,531.3" fill="#fcbc9d" stroke="#fcbc9d" stroke-width="0.6"/>
<polygon points="92,531.3 96,529.4 100,527.6 104.1,525.6 108.1,523.7 112.1,521.6 116.1,519.6 120.1,517.5 124.1,515.4 128.2,513.2 132.2,511 136.2,508.8 140.2,506.6 144.2,504.3 148.3,502.1 152.3,499.8 156.3,497.5 160.3,495.2 164.3,492.9 168.4,490.7 172.4,488.4 176.4,486.1 180.4,483.9 184.4,481.7 188.4,479.5 192.5,477.3 196.5,475.1 200.5,473 204.5,470.9 208.5,468.8 212.6,466.7 216.6,464.7 220.6,462.7 224.6,460.7 228.6,458.7 232.7,456.7 236.7,454.8 240.7,452.8 244.7,450.9 248.7,449 252.7,447.1 256.8,445.2 260.8,443.4 264.8,441.6 268.8,439.8 272.8,438.1 276.9,436.5 280.9,434.9 284.9,433.4 288.9,432 292.9,430.7 297,429.4 301,428.3 305,427.2 309,426.3 313,425.5 317,424.7 321.1,424 325.1,423.3 329.1,422.7 333.1,422.1 337.1,421.5 341.2,420.9 345.2,420.3 349.2,419.7 353.2,418.9 357.2,418.2 361.3,417.3 365.3,416.5 369.3,415.5 373.3,414.5 377.3,413.5 381.3,412.4 385.4,411.3 389.4,410.1 393.4,408.8 397.4,407.6 401.4,406.2 405.5,404.8 409.5,403.4 413.5,401.9 417.5,400.4 421.5,398.8 425.6,397.2 429.6,395.6 433.6,394 437.6,392.3 441.6,390.6 445.6,389 449.7,387.3 453.7,385.6 457.7,383.9 461.7,382.3 465.7,380.6 469.8,379 473.8,377.4 477.8,375.9 481.8,374.4 485.8,373 489.9,371.6 493.9,370.2 497.9,369 501.9,367.8 505.9,366.6 509.9,365.6 514,364.7 518,363.8 522,363 526,362.2 530,361.5 534.1,360.9 538.1,360.2 542.1,359.6 546.1,359.1 550.1,358.5 554.2,358 558.2,357.5 562.2,357 566.2,356.5 570.2,356 574.2,355.6 578.3,355.1 582.3,354.6 586.3,354.2 590.3,353.7 594.3,353.3 598.4,352.8 602.4,352.4 606.4,352 610.4,351.6 614.4,351.3 618.5,350.9 622.5,350.7 626.5,350.5 630.5,350.3 634.5,350.3 638.5,350.3 642.6,350.4 646.6,350.6 650.6,350.9 650.6,345.9 646.6,345.6 642.6,345.4 638.5,345.2 634.5,345.2 630.5,345.2 626.5,345.4 622.5,345.5 618.5,345.8 614.4,346.1 610.4,346.4 606.4,346.7 602.4,347.1 598.4,347.5 594.3,347.9 590.3,348.4 586.3,348.8 582.3,349.2 578.3,349.7 574.2,350.1 570.2,350.5 566.2,350.9 562.2,351.4 558.2,351.8 554.2,352.3 550.1,352.8 546.1,353.3 542.1,353.9 538.1,354.5 534.1,355.1 530,355.8 526,356.5 522,357.2 518,358 514,358.9 509.9,359.9 505.9,360.9 501.9,362 497.9,363.2 493.9,364.4 489.9,365.7 485.8,367.1 481.8,368.5 477.8,370 473.8,371.5 469.8,373 465.7,374.6 461.7,376.2 457.7,377.8 453.7,379.5 449.7,381.1 445.6,382.8 441.6,384.5 437.6,386.1 433.6,387.8 429.6,389.4 425.6,391.1 421.5,392.7 417.5,394.3 413.5,395.8 409.5,397.3 405.5,398.8 401.4,400.2 397.4,401.6 393.4,403 389.4,404.3 385.4,405.5 381.3,406.7 377.3,407.8 373.3,408.9 369.3,410 365.3,410.9 361.3,411.9 357.2,412.7 353.2,413.5 349.2,414.3 345.2,415 341.2,415.6 337.1,416.2 333.1,416.8 329.1,417.4 325.1,418 321.1,418.7 317,419.4 313,420.2 309,421.1 305,422.1 301,423.2 297,424.4 292.9,425.7 288.9,427.1 284.9,428.6 280.9,430.2 276.9,431.9 272.8,433.6 268.8,435.4 264.8,437.3 260.8,439.1 256.8,441 252.7,442.9 248.7,444.8 244.7,446.7 240.7,448.7 236.7,450.6 232.7,452.5 228.6,454.4 224.6,456.3 220.6,458.3 216.6,460.2 212.6,462.2 208.5,464.2 204.5,466.2 200.5,468.2 196.5,470.3 192.5,472.3 188.4,474.4 184.4,476.6 180.4,478.7 176.4,480.9 172.4,483.1 168.4,485.3 164.3,487.5 160.3,489.7 156.3,492 152.3,494.2 148.3,496.4 144.2,498.7 140.2,500.9 136.2,503.1 132.2,505.3 128.2,507.5 124.1,509.7 120.1,511.8 116.1,514 112.1,516.1 108.1,518.2 104.1,520.2 100,522.2 96,524.2 92,526.1" fill="#fcc09d" stroke="#fcc09d" stroke-width="0.6"/>
<polygon points="92,526.1 96,524.2 100,522.2 104.1,520.2 108.1,518.2 112.1,516.1 116.1,514 120.1,511.8 124.1,509.7 128.2,507.5 132.2,505.3 136.2,503.1 140.2,500.9 144.2,498.7 148.3,496.4 152.3,494.2 156.3,492 160.3,489.7 164.3,487.5 168.4,485.3 172.4,483.1 176.4,480.9 180.4,478.7 184.4,476.6 188.4,474.4 192.5,472.3 196.5,470.3 200.5,468.2 204.5,466.2 208.5,464.2 212.6,462.2 216.6,460.2 220.6,458.3 224.6,456.3 228.6,454.4 232.7,452.5 236.7,450.6 240.7,448.7 244.7,446.7 248.7,444.8 252.7,442.9 256.8,441 260.8,439.1 264.8,437.3 268.8,435.4 272.8,433.6 276.9,431.9 280.9,430.2 284.9,428.6 288.9,427.1 292.9,425.7 297,424.4 301,423.2 305,422.1 309,421.1 313,420.2 317,419.4 321.1,418.7 325.1,418 329.1,417.4 333.1,416.8 337.1,416.2 341.2,415.6 345.2,415 349.2,414.3 353.2,413.5 357.2,412.7 361.3,411.9 365.3,410.9 369.3,410 373.3,408.9 377.3,407.8 381.3,406.7 385.4,405.5 389.4,404.3 393.4,403 397.4,401.6 401.4,400.2 405.5,398.8 409.5,397.3 413.5,395.8 417.5,394.3 421.5,392.7 425.6,391.1 429.6,389.4 433.6,387.8 437.6,386.1 441.6,384.5 445.6,382.8 449.7,381.1 453.7,379.5 457.7,377.8 461.7,376.2 465.7,374.6 469.8,373 473.8,371.5 477.8,370 481.8,368.5 485.8,367.1 489.9,365.7 493.9,364.4 497.9,363.2 501.9,362 505.9,360.9 509.9,359.9 514,358.9 518,358 522,357.2 526,356.5 530,355.8 534.1,355.1 538.1,354.5 542.1,353.9 546.1,353.3 550.1,352.8 554.2,352.3 558.2,351.8 562.2,351.4 566.2,350.9 570.2,350.5 574.2,350.1 578.3,349.7 582.3,349.2 586.3,348.8 590.3,348.4 594.3,347.9 598.4,347.5 602.4,347.1 606.4,346.7 610.4,346.4 614.4,346.1 618.5,345.8 622.5,345.5 626.5,345.4 630.5,345.2 634.5,345.2 638.5,345.2 642.6,345.4 646.6,345.6 650.6,345.9 650.6,340.9 646.6,340.5 642.6,340.3 638.5,340.2 634.5,340.1 630.5,340.1 626.5,340.2 622.5,340.4 618.5,340.6 614.4,340.9 610.4,341.2 606.4,341.5 602.4,341.9 598.4,342.2 594.3,342.6 590.3,343 586.3,343.4 582.3,343.8 578.3,344.2 574.2,344.6 570.2,345 566.2,345.4 562.2,345.8 558.2,346.2 554.2,346.7 550.1,347.1 546.1,347.6 542.1,348.2 538.1,348.7 534.1,349.3 530,350 526,350.7 522,351.4 518,352.3 514,353.2 509.9,354.1 505.9,355.1 501.9,356.2 497.9,357.4 493.9,358.6 489.9,359.9 485.8,361.2 481.8,362.6 477.8,364.1 473.8,365.5 469.8,367.1 465.7,368.6 461.7,370.2 457.7,371.8 453.7,373.4 449.7,375 445.6,376.7 441.6,378.3 437.6,380 433.6,381.6 429.6,383.2 425.6,384.9 421.5,386.5 417.5,388.1 413.5,389.7 409.5,391.2 405.5,392.8 401.4,394.2 397.4,395.7 393.4,397.1 389.4,398.4 385.4,399.7 381.3,401 377.3,402.2 373.3,403.3 369.3,404.4 365.3,405.4 361.3,406.4 357.2,407.3 353.2,408.1 349.2,408.9 345.2,409.6 341.2,410.3 337.1,410.9 333.1,411.5 329.1,412.1 325.1,412.8 321.1,413.4 317,414.2 313,415 309,415.9 305,416.9 301,418.1 297,419.3 292.9,420.8 288.9,422.3 284.9,423.9 280.9,425.6 276.9,427.3 272.8,429.1 268.8,431 264.8,432.9 260.8,434.9 256.8,436.8 252.7,438.7 248.7,440.7 244.7,442.6 240.7,444.5 236.7,446.4 232.7,448.3 228.6,450.1 224.6,452 220.6,453.9 216.6,455.8 212.6,457.7 208.5,459.6 204.5,461.5 200.5,463.4 196.5,465.4 192.5,467.4 188.4,469.4 184.4,471.5 180.4,473.5 176.4,475.6 172.4,477.8 168.4,479.9 164.3,482.1 160.3,484.2 156.3,486.4 152.3,488.6 148.3,490.8 144.2,493 140.2,495.2 136.2,497.4 132.2,499.6 128.2,501.8 124.1,504 120.1,506.2 116.1,508.4 112.1,510.5 108.1,512.7 104.1,514.8 100,516.9 96,519 92,521" fill="#fcc39d" stroke="#fcc39d" stroke-width="0.6"/>
<polygon points="92,521 96,519 100,516.9 104.1,514.8 108.1,512.7 112.1,510.5 116.1,508.4 120.1,506.2 124.1,504 128.2,501.8 132.2,499.6 136.2,497.4 140.2,495.2 144.2,493 148.3,490.8 152.3,488.6 156.3,486.4 160.3,484.2 164.3,482.1 168.4,479.9 172.4,477.8 176.4,475.6 180.4,473.5 184.4,471.5 188.4,469.4 192.5,467.4 196.5,465.4 200.5,463.4 204.5,461.5 208.5,459.6 212.6,457.7 216.6,455.8 220.6,453.9 224.6,452 228.6,450.1 232.7,448.3 236.7,446.4 240.7,444.5 244.7,442.6 248.7,440.7 252.7,438.7 256.8,436.8 260.8,434.9 264.8,432.9 268.8,431 272.8,429.1 276.9,427.3 280.9,425.6 284.9,423.9 288.9,422.3 292.9,420.8 297,419.3 301,418.1 305,416.9 309,415.9 313,415 317,414.2 321.1,413.4 325.1,412.8 329.1,412.1 333.1,411.5 337.1,410.9 341.2,410.3 345.2,409.6 349.2,408.9 353.2,408.1 357.2,407.3 361.3,406.4 365.3,405.4 369.3,404.4 373.3,403.3 377.3,402.2 381.3,401 385.4,399.7 389.4,398.4 393.4,397.1 397.4,395.7 401.4,394.2 405.5,392.8 409.5,391.2 413.5,389.7 417.5,388.1 421.5,386.5 425.6,384.9 429.6,383.2 433.6,381.6 437.6,380 441.6,378.3 445.6,376.7 449.7,375 453.7,373.4 457.7,371.8 461.7,370.2 465.7,368.6 469.8,367.1 473.8,365.5 477.8,364.1 481.8,362.6 485.8,361.2 489.9,359.9 493.9,358.6 497.9,357.4 501.9,356.2 505.9,355.1 509.9,354.1 514,353.2 518,352.3 522,351.4 526,350.7 530,350 534.1,349.3 538.1,348.7 542.1,348.2 546.1,347.6 550.1,347.1 554.2,346.7 558.2,346.2 562.2,345.8 566.2,345.4 570.2,345 574.2,344.6 578.3,344.2 582.3,343.8 586.3,343.4 590.3,343 594.3,342.6 598.4,342.2 602.4,341.9 606.4,341.5 610.4,341.2 614.4,340.9 618.5,340.6 622.5,340.4 626.5,340.2 630.5,340.1 634.5,340.1 638.5,340.2 642.6,340.3 646.6,340.5 650.6,340.9 650.6,335.8 646.6,335.5 642.6,335.3 638.5,335.2 634.5,335.2 630.5,335.2 626.5,335.3 622.5,335.4 618.5,335.6 614.4,335.8 610.4,336.1 606.4,336.3 602.4,336.7 598.4,337 594.3,337.4 590.3,337.7 586.3,338.1 582.3,338.4 578.3,338.8 574.2,339.1 570.2,339.5 566.2,339.9 562.2,340.3 558.2,340.7 554.2,341.1 550.1,341.5 546.1,342 542.1,342.5 538.1,343.1 534.1,343.7 530,344.3 526,345 522,345.8 518,346.6 514,347.4 509.9,348.4 505.9,349.4 501.9,350.5 497.9,351.6 493.9,352.8 489.9,354.1 485.8,355.4 481.8,356.8 477.8,358.2 473.8,359.7 469.8,361.2 465.7,362.8 461.7,364.3 457.7,365.9 453.7,367.6 449.7,369.2 445.6,370.8 441.6,372.5 437.6,374.2 433.6,375.8 429.6,377.5 425.6,379.2 421.5,380.8 417.5,382.4 413.5,384 409.5,385.6 405.5,387.1 401.4,388.6 397.4,390.1 393.4,391.5 389.4,392.9 385.4,394.3 381.3,395.5 377.3,396.7 373.3,397.9 369.3,399 365.3,400.1 361.3,401 357.2,402 353.2,402.8 349.2,403.6 345.2,404.4 341.2,405.1 337.1,405.7 333.1,406.4 329.1,407 325.1,407.7 321.1,408.4 317,409.2 313,410 309,410.9 305,412 301,413.1 297,414.4 292.9,415.7 288.9,417.2 284.9,418.8 280.9,420.4 276.9,422.2 272.8,424 268.8,425.8 264.8,427.7 260.8,429.6 256.8,431.5 252.7,433.5 248.7,435.5 244.7,437.4 240.7,439.3 236.7,441.3 232.7,443.2 228.6,445.1 224.6,447 220.6,448.9 216.6,450.9 212.6,452.8 208.5,454.7 204.5,456.6 200.5,458.6 196.5,460.5 192.5,462.5 188.4,464.5 184.4,466.5 180.4,468.6 176.4,470.6 172.4,472.7 168.4,474.8 164.3,476.9 160.3,479 156.3,481.1 152.3,483.3 148.3,485.5 144.2,487.7 140.2,489.9 136.2,492.1 132.2,494.3 128.2,496.5 124.1,498.8 120.1,501 116.1,503.2 112.1,505.4 108.1,507.5 104.1,509.7 100,511.8 96,513.9 92,515.9" fill="#fdd09b" stroke="#fdd09b" stroke-width="0.6"/>
<polygon points="92,515.9 96,513.9 100,511.8 104.1,509.7 108.1,507.5 112.1,505.4 116.1,503.2 120.1,501 124.1,498.8 128.2,496.5 132.2,494.3 136.2,492.1 140.2,489.9 144.2,487.7 148.3,485.5 152.3,483.3 156.3,481.1 160.3,479 164.3,476.9 168.4,474.8 172.4,472.7 176.4,470.6 180.4,468.6 184.4,466.5 188.4,464.5 192.5,462.5 196.5,460.5 200.5,458.6 204.5,456.6 208.5,454.7 212.6,452.8 216.6,450.9 220.6,448.9 224.6,447 228.6,445.1 232.7,443.2 236.7,441.3 240.7,439.3 244.7,437.4 248.7,435.5 252.7,433.5 256.8,431.5 260.8,429.6 264.8,427.7 268.8,425.8 272.8,424 276.9,422.2 280.9,420.4 284.9,418.8 288.9,417.2 292.9,415.7 297,414.4 301,413.1 305,412 309,410.9 313,410 317,409.2 321.1,408.4 325.1,407.7 329.1,407 333.1,406.4 337.1,405.7 341.2,405.1 345.2,404.4 349.2,403.6 353.2,402.8 357.2,402 361.3,401 365.3,400.1 369.3,399 373.3,397.9 377.3,396.7 381.3,395.5 385.4,394.3 389.4,392.9 393.4,391.5 397.4,390.1 401.4,388.6 405.5,387.1 409.5,385.6 413.5,384 417.5,382.4 421.5,380.8 425.6,379.2 429.6,377.5 433.6,375.8 437.6,374.2 441.6,372.5 445.6,370.8 449.7,369.2 453.7,367.6 457.7,365.9 461.7,364.3 465.7,362.8 469.8,361.2 473.8,359.7 477.8,358.2 481.8,356.8 485.8,355.4 489.9,354.1 493.9,352.8 497.9,351.6 501.9,350.5 505.9,349.4 509.9,348.4 514,347.4 518,346.6 522,345.8 526,345 530,344.3 534.1,343.7 538.1,343.1 542.1,342.5 546.1,342 550.1,341.5 554.2,341.1 558.2,340.7 562.2,340.3 566.2,339.9 570.2,339.5 574.2,339.1 578.3,338.8 582.3,338.4 586.3,338.1 590.3,337.7 594.3,337.4 598.4,337 602.4,336.7 606.4,336.3 610.4,336.1 614.4,335.8 618.5,335.6 622.5,335.4 626.5,335.3 630.5,335.2 634.5,335.2 638.5,335.2 642.6,335.3 646.6,335.5 650.6,335.8 650.6,330.8 646.6,330.5 642.6,330.4 638.5,330.2 634.5,330.2 630.5,330.2 626.5,330.3 622.5,330.4 618.5,330.5 614.4,330.7 610.4,331 606.4,331.2 602.4,331.5 598.4,331.8 594.3,332.1 590.3,332.4 586.3,332.7 582.3,333 578.3,333.4 574.2,333.7 570.2,334 566.2,334.4 562.2,334.7 558.2,335.1 554.2,335.5 550.1,335.9 546.1,336.4 542.1,336.9 538.1,337.5 534.1,338 530,338.7 526,339.3 522,340.1 518,340.9 514,341.7 509.9,342.7 505.9,343.7 501.9,344.7 497.9,345.9 493.9,347 489.9,348.3 485.8,349.6 481.8,351 477.8,352.4 473.8,353.9 469.8,355.4 465.7,356.9 461.7,358.5 457.7,360.1 453.7,361.7 449.7,363.4 445.6,365 441.6,366.7 437.6,368.4 433.6,370.1 429.6,371.8 425.6,373.4 421.5,375.1 417.5,376.7 413.5,378.4 409.5,380 405.5,381.5 401.4,383.1 397.4,384.5 393.4,386 389.4,387.4 385.4,388.8 381.3,390.1 377.3,391.3 373.3,392.5 369.3,393.6 365.3,394.7 361.3,395.7 357.2,396.6 353.2,397.5 349.2,398.3 345.2,399.1 341.2,399.8 337.1,400.5 333.1,401.2 329.1,401.9 325.1,402.6 321.1,403.4 317,404.2 313,405 309,406 305,407 301,408.1 297,409.4 292.9,410.7 288.9,412.2 284.9,413.7 280.9,415.3 276.9,417 272.8,418.8 268.8,420.6 264.8,422.4 260.8,424.4 256.8,426.3 252.7,428.3 248.7,430.2 244.7,432.2 240.7,434.2 236.7,436.1 232.7,438.1 228.6,440.1 224.6,442 220.6,444 216.6,445.9 212.6,447.9 208.5,449.8 204.5,451.8 200.5,453.7 196.5,455.7 192.5,457.6 188.4,459.6 184.4,461.6 180.4,463.6 176.4,465.6 172.4,467.6 168.4,469.6 164.3,471.7 160.3,473.8 156.3,475.9 152.3,478 148.3,480.2 144.2,482.3 140.2,484.5 136.2,486.8 132.2,489 128.2,491.3 124.1,493.5 120.1,495.8 116.1,498 112.1,500.2 108.1,502.4 104.1,504.5 100,506.7 96,508.7 92,510.8" fill="#fdd49b" stroke="#fdd49b" stroke-width="0.6"/>
<polygon points="92,510.8 96,508.7 100,506.7 104.1,504.5 108.1,502.4 112.1,500.2 116.1,498 120.1,495.8 124.1,493.5 128.2,491.3 132.2,489 136.2,486.8 140.2,484.5 144.2,482.3 148.3,480.2 152.3,478 156.3,475.9 160.3,473.8 164.3,471.7 168.4,469.6 172.4,467.6 176.4,465.6 180.4,463.6 184.4,461.6 188.4,459.6 192.5,457.6 196.5,455.7 200.5,453.7 204.5,451.8 208.5,449.8 212.6,447.9 216.6,445.9 220.6,444 224.6,442 228.6,440.1 232.7,438.1 236.7,436.1 240.7,434.2 244.7,432.2 248.7,430.2 252.7,428.3 256.8,426.3 260.8,424.4 264.8,422.4 268.8,420.6 272.8,418.8 276.9,417 280.9,415.3 284.9,413.7 288.9,412.2 292.9,410.7 297,409.4 301,408.1 305,407 309,406 313,405 317,404.2 321.1,403.4 325.1,402.6 329.1,401.9 333.1,401.2 337.1,400.5 341.2,399.8 345.2,399.1 349.2,398.3 353.2,397.5 357.2,396.6 361.3,395.7 365.3,394.7 369.3,393.6 373.3,392.5 377.3,391.3 381.3,390.1 385.4,388.8 389.4,387.4 393.4,386 397.4,384.5 401.4,383.1 405.5,381.5 409.5,380 413.5,378.4 417.5,376.7 421.5,375.1 425.6,373.4 429.6,371.8 433.6,370.1 437.6,368.4 441.6,366.7 445.6,365 449.7,363.4 453.7,361.7 457.7,360.1 461.7,358.5 465.7,356.9 469.8,355.4 473.8,353.9 477.8,352.4 481.8,351 485.8,349.6 489.9,348.3 493.9,347 497.9,345.9 501.9,344.7 505.9,343.7 509.9,342.7 514,341.7 518,340.9 522,340.1 526,339.3 530,338.7 534.1,338 538.1,337.5 542.1,336.9 546.1,336.4 550.1,335.9 554.2,335.5 558.2,335.1 562.2,334.7 566.2,334.4 570.2,334 574.2,333.7 578.3,333.4 582.3,333 586.3,332.7 590.3,332.4 594.3,332.1 598.4,331.8 602.4,331.5 606.4,331.2 610.4,331 614.4,330.7 618.5,330.5 622.5,330.4 626.5,330.3 630.5,330.2 634.5,330.2 638.5,330.2 642.6,330.4 646.6,330.5 650.6,330.8 650.6,325.7 646.6,325.5 642.6,325.4 638.5,325.3 634.5,325.2 630.5,325.3 626.5,325.3 622.5,325.4 618.5,325.5 614.4,325.7 610.4,325.9 606.4,326.1 602.4,326.3 598.4,326.5 594.3,326.8 590.3,327.1 586.3,327.4 582.3,327.6 578.3,327.9 574.2,328.2 570.2,328.5 566.2,328.8 562.2,329.2 558.2,329.5 554.2,329.9 550.1,330.4 546.1,330.8 542.1,331.3 538.1,331.8 534.1,332.4 530,333 526,333.7 522,334.4 518,335.2 514,336 509.9,336.9 505.9,337.9 501.9,339 497.9,340.1 493.9,341.3 489.9,342.5 485.8,343.8 481.8,345.2 477.8,346.6 473.8,348 469.8,349.5 465.7,351.1 461.7,352.7 457.7,354.3 453.7,355.9 449.7,357.6 445.6,359.2 441.6,360.9 437.6,362.6 433.6,364.3 429.6,366 425.6,367.7 421.5,369.4 417.5,371 413.5,372.7 409.5,374.3 405.5,375.9 401.4,377.5 397.4,379 393.4,380.5 389.4,381.9 385.4,383.3 381.3,384.6 377.3,385.9 373.3,387.1 369.3,388.2 365.3,389.3 361.3,390.3 357.2,391.3 353.2,392.2 349.2,393.1 345.2,393.9 341.2,394.6 337.1,395.4 333.1,396.1 329.1,396.8 325.1,397.6 321.1,398.4 317,399.2 313,400.1 309,401 305,402 301,403.2 297,404.4 292.9,405.7 288.9,407.1 284.9,408.6 280.9,410.2 276.9,411.8 272.8,413.6 268.8,415.4 264.8,417.2 260.8,419.1 256.8,421.1 252.7,423 248.7,425 244.7,427 240.7,429 236.7,431 232.7,433 228.6,435 224.6,437 220.6,439 216.6,441 212.6,443 208.5,445 204.5,446.9 200.5,448.9 196.5,450.8 192.5,452.8 188.4,454.7 184.4,456.6 180.4,458.6 176.4,460.5 172.4,462.5 168.4,464.5 164.3,466.5 160.3,468.5 156.3,470.6 152.3,472.7 148.3,474.8 144.2,477 140.2,479.2 136.2,481.5 132.2,483.7 128.2,486 124.1,488.3 120.1,490.5 116.1,492.8 112.1,495 108.1,497.3 104.1,499.4 100,501.6 96,503.6 92,505.6" fill="#fdd69b" stroke="#fdd69b" stroke-width="0.6"/>
<polygon points="92,505.6 96,503.6 100,501.6 104.1,499.4 108.1,497.3 112.1,495 116.1,492.8 120.1,490.5 124.1,488.3 128.2,486 132.2,483.7 136.2,481.5 140.2,479.2 144.2,477 148.3,474.8 152.3,472.7 156.3,470.6 160.3,468.5 164.3,466.5 168.4,464.5 172.4,462.5 176.4,460.5 180.4,458.6 184.4,456.6 188.4,454.7 192.5,452.8 196.5,450.8 200.5,448.9 204.5,446.9 208.5,445 212.6,443 216.6,441 220.6,439 224.6,437 228.6,435 232.7,433 236.7,431 240.7,429 244.7,427 248.7,425 252.7,423 256.8,421.1 260.8,419.1 264.8,417.2 268.8,415.4 272.8,413.6 276.9,411.8 280.9,410.2 284.9,408.6 288.9,407.1 292.9,405.7 297,404.4 301,403.2 305,402 309,401 313,400.1 317,399.2 321.1,398.4 325.1,397.6 329.1,396.8 333.1,396.1 337.1,395.4 341.2,394.6 345.2,393.9 349.2,393.1 353.2,392.2 357.2,391.3 361.3,390.3 365.3,389.3 369.3,388.2 373.3,387.1 377.3,385.9 381.3,384.6 385.4,383.3 389.4,381.9 393.4,380.5 397.4,379 401.4,377.5 405.5,375.9 409.5,374.3 413.5,372.7 417.5,371 421.5,369.4 425.6,367.7 429.6,366 433.6,364.3 437.6,362.6 441.6,360.9 445.6,359.2 449.7,357.6 453.7,355.9 457.7,354.3 461.7,352.7 465.7,351.1 469.8,349.5 473.8,348 477.8,346.6 481.8,345.2 485.8,343.8 489.9,342.5 493.9,341.3 497.9,340.1 501.9,339 505.9,337.9 509.9,336.9 514,336 518,335.2 522,334.4 526,333.7 530,333 534.1,332.4 538.1,331.8 542.1,331.3 546.1,330.8 550.1,330.4 554.2,329.9 558.2,329.5 562.2,329.2 566.2,328.8 570.2,328.5 574.2,328.2 578.3,327.9 582.3,327.6 586.3,327.4 590.3,327.1 594.3,326.8 598.4,326.5 602.4,326.3 606.4,326.1 610.4,325.9 614.4,325.7 618.5,325.5 622.5,325.4 626.5,325.3 630.5,325.3 634.5,325.2 638.5,325.3 642.6,325.4 646.6,325.5 650.6,325.7 650.6,320.7 646.6,320.5 642.6,320.4 638.5,320.3 634.5,320.3 630.5,320.3 626.5,320.3 622.5,320.4 618.5,320.5 614.4,320.6 610.4,320.8 606.4,320.9 602.4,321.1 598.4,321.3 594.3,321.5 590.3,321.8 586.3,322 582.3,322.2 578.3,322.5 574.2,322.8 570.2,323 566.2,323.3 562.2,323.6 558.2,324 554.2,324.4 550.1,324.8 546.1,325.2 542.1,325.7 538.1,326.2 534.1,326.7 530,327.4 526,328 522,328.7 518,329.5 514,330.3 509.9,331.2 505.9,332.2 501.9,333.2 497.9,334.3 493.9,335.5 489.9,336.7 485.8,338 481.8,339.3 477.8,340.7 473.8,342.2 469.8,343.7 465.7,345.2 461.7,346.8 457.7,348.4 453.7,350.1 449.7,351.8 445.6,353.4 441.6,355.1 437.6,356.8 433.6,358.6 429.6,360.3 425.6,362 421.5,363.7 417.5,365.4 413.5,367 409.5,368.7 405.5,370.3 401.4,371.9 397.4,373.4 393.4,374.9 389.4,376.4 385.4,377.8 381.3,379.1 377.3,380.4 373.3,381.6 369.3,382.8 365.3,383.9 361.3,385 357.2,385.9 353.2,386.9 349.2,387.8 345.2,388.6 341.2,389.4 337.1,390.2 333.1,391 329.1,391.7 325.1,392.5 321.1,393.3 317,394.2 313,395.1 309,396 305,397.1 301,398.2 297,399.4 292.9,400.7 288.9,402.1 284.9,403.5 280.9,405.1 276.9,406.7 272.8,408.4 268.8,410.1 264.8,412 260.8,413.9 256.8,415.8 252.7,417.8 248.7,419.8 244.7,421.8 240.7,423.8 236.7,425.9 232.7,427.9 228.6,430 224.6,432 220.6,434.1 216.6,436.1 212.6,438.1 208.5,440.1 204.5,442.1 200.5,444.1 196.5,446 192.5,447.9 188.4,449.8 184.4,451.7 180.4,453.6 176.4,455.5 172.4,457.4 168.4,459.4 164.3,461.3 160.3,463.3 156.3,465.3 152.3,467.4 148.3,469.5 144.2,471.7 140.2,473.9 136.2,476.1 132.2,478.4 128.2,480.7 124.1,483 120.1,485.3 116.1,487.6 112.1,489.9 108.1,492.1 104.1,494.3 100,496.4 96,498.5 92,500.5" fill="#fdda9b" stroke="#fdda9b" stroke-width="0.6"/>
<polygon points="92,500.5 96,498.5 100,496.4 104.1,494.3 108.1,492.1 112.1,489.9 116.1,487.6 120.1,485.3 124.1,483 128.2,480.7 132.2,478.4 136.2,476.1 140.2,473.9 144.2,471.7 148.3,469.5 152.3,467.4 156.3,465.3 160.3,463.3 164.3,461.3 168.4,459.4 172.4,457.4 176.4,455.5 180.4,453.6 184.4,451.7 188.4,449.8 192.5,447.9 196.5,446 200.5,444.1 204.5,442.1 208.5,440.1 212.6,438.1 216.6,436.1 220.6,434.1 224.6,432 228.6,430 232.7,427.9 236.7,425.9 240.7,423.8 244.7,421.8 248.7,419.8 252.7,417.8 256.8,415.8 260.8,413.9 264.8,412 268.8,410.1 272.8,408.4 276.9,406.7 280.9,405.1 284.9,403.5 288.9,402.1 292.9,400.7 297,399.4 301,398.2 305,397.1 309,396 313,395.1 317,394.2 321.1,393.3 325.1,392.5 329.1,391.7 333.1,391 337.1,390.2 341.2,389.4 345.2,388.6 349.2,387.8 353.2,386.9 357.2,385.9 361.3,385 365.3,383.9 369.3,382.8 373.3,381.6 377.3,380.4 381.3,379.1 385.4,377.8 389.4,376.4 393.4,374.9 397.4,373.4 401.4,371.9 405.5,370.3 409.5,368.7 413.5,367 417.5,365.4 421.5,363.7 425.6,362 429.6,360.3 433.6,358.6 437.6,356.8 441.6,355.1 445.6,353.4 449.7,351.8 453.7,350.1 457.7,348.4 461.7,346.8 465.7,345.2 469.8,343.7 473.8,342.2 477.8,340.7 481.8,339.3 485.8,338 489.9,336.7 493.9,335.5 497.9,334.3 501.9,333.2 505.9,332.2 509.9,331.2 514,330.3 518,329.5 522,328.7 526,328 530,327.4 534.1,326.7 538.1,326.2 542.1,325.7 546.1,325.2 550.1,324.8 554.2,324.4 558.2,324 562.2,323.6 566.2,323.3 570.2,323 574.2,322.8 578.3,322.5 582.3,322.2 586.3,322 590.3,321.8 594.3,321.5 598.4,321.3 602.4,321.1 606.4,320.9 610.4,320.8 614.4,320.6 618.5,320.5 622.5,320.4 626.5,320.3 630.5,320.3 634.5,320.3 638.5,320.3 642.6,320.4 646.6,320.5 650.6,320.7 650.6,315.6 646.6,315.5 642.6,315.4 638.5,315.4 634.5,315.3 630.5,315.3 626.5,315.4 622.5,315.4 618.5,315.5 614.4,315.6 610.4,315.7 606.4,315.8 602.4,315.9 598.4,316.1 594.3,316.3 590.3,316.4 586.3,316.6 582.3,316.8 578.3,317.1 574.2,317.3 570.2,317.5 566.2,317.8 562.2,318.1 558.2,318.4 554.2,318.8 550.1,319.2 546.1,319.6 542.1,320 538.1,320.6 534.1,321.1 530,321.7 526,322.3 522,323 518,323.8 514,324.6 509.9,325.5 505.9,326.4 501.9,327.5 497.9,328.5 493.9,329.7 489.9,330.9 485.8,332.2 481.8,333.5 477.8,334.9 473.8,336.4 469.8,337.9 465.7,339.4 461.7,341 457.7,342.6 453.7,344.3 449.7,345.9 445.6,347.6 441.6,349.3 437.6,351.1 433.6,352.8 429.6,354.5 425.6,356.3 421.5,358 417.5,359.7 413.5,361.4 409.5,363 405.5,364.7 401.4,366.3 397.4,367.8 393.4,369.4 389.4,370.8 385.4,372.3 381.3,373.6 377.3,375 373.3,376.2 369.3,377.4 365.3,378.5 361.3,379.6 357.2,380.6 353.2,381.6 349.2,382.5 345.2,383.4 341.2,384.2 337.1,385 333.1,385.8 329.1,386.6 325.1,387.5 321.1,388.3 317,389.2 313,390.1 309,391.1 305,392.1 301,393.2 297,394.4 292.9,395.7 288.9,397 284.9,398.4 280.9,399.9 276.9,401.5 272.8,403.2 268.8,404.9 264.8,406.7 260.8,408.6 256.8,410.6 252.7,412.5 248.7,414.6 244.7,416.6 240.7,418.7 236.7,420.7 232.7,422.8 228.6,424.9 224.6,427 220.6,429.1 216.6,431.2 212.6,433.2 208.5,435.3 204.5,437.3 200.5,439.2 196.5,441.1 192.5,443 188.4,444.9 184.4,446.8 180.4,448.6 176.4,450.5 172.4,452.3 168.4,454.2 164.3,456.1 160.3,458.1 156.3,460.1 152.3,462.1 148.3,464.2 144.2,466.3 140.2,468.6 136.2,470.8 132.2,473.1 128.2,475.4 124.1,477.8 120.1,480.1 116.1,482.4 112.1,484.7 108.1,487 104.1,489.2 100,491.3 96,493.4 92,495.4" fill="#fedc9b" stroke="#fedc9b" stroke-width="0.6"/>
<polygon points="92,495.4 96,493.4 100,491.3 104.1,489.2 108.1,487 112.1,484.7 116.1,482.4 120.1,480.1 124.1,477.8 128.2,475.4 132.2,473.1 136.2,470.8 140.2,468.6 144.2,466.3 148.3,464.2 152.3,462.1 156.3,460.1 160.3,458.1 164.3,456.1 168.4,454.2 172.4,452.3 176.4,450.5 180.4,448.6 184.4,446.8 188.4,444.9 192.5,443 196.5,441.1 200.5,439.2 204.5,437.3 208.5,435.3 212.6,433.2 216.6,431.2 220.6,429.1 224.6,427 228.6,424.9 232.7,422.8 236.7,420.7 240.7,418.7 244.7,416.6 248.7,414.6 252.7,412.5 256.8,410.6 260.8,408.6 264.8,406.7 268.8,404.9 272.8,403.2 276.9,401.5 280.9,399.9 284.9,398.4 288.9,397 292.9,395.7 297,394.4 301,393.2 305,392.1 309,391.1 313,390.1 317,389.2 321.1,388.3 325.1,387.5 329.1,386.6 333.1,385.8 337.1,385 341.2,384.2 345.2,383.4 349.2,382.5 353.2,381.6 357.2,380.6 361.3,379.6 365.3,378.5 369.3,377.4 373.3,376.2 377.3,375 381.3,373.6 385.4,372.3 389.4,370.8 393.4,369.4 397.4,367.8 401.4,366.3 405.5,364.7 409.5,363 413.5,361.4 417.5,359.7 421.5,358 425.6,356.3 429.6,354.5 433.6,352.8 437.6,351.1 441.6,349.3 445.6,347.6 449.7,345.9 453.7,344.3 457.7,342.6 461.7,341 465.7,339.4 469.8,337.9 473.8,336.4 477.8,334.9 481.8,333.5 485.8,332.2 489.9,330.9 493.9,329.7 497.9,328.5 501.9,327.5 505.9,326.4 509.9,325.5 514,324.6 518,323.8 522,323 526,322.3 530,321.7 534.1,321.1 538.1,320.6 542.1,320 546.1,319.6 550.1,319.2 554.2,318.8 558.2,318.4 562.2,318.1 566.2,317.8 570.2,317.5 574.2,317.3 578.3,317.1 582.3,316.8 586.3,316.6 590.3,316.4 594.3,316.3 598.4,316.1 602.4,315.9 606.4,315.8 610.4,315.7 614.4,315.6 618.5,315.5 622.5,315.4 626.5,315.4 630.5,315.3 634.5,315.3 638.5,315.4 642.6,315.4 646.6,315.5 650.6,315.6 650.6,310.6 646.6,310.5 642.6,310.4 638.5,310.4 634.5,310.4 630.5,310.4 626.5,310.4 622.5,310.4 618.5,310.4 614.4,310.5 610.4,310.6 606.4,310.6 602.4,310.7 598.4,310.9 594.3,311 590.3,311.1 586.3,311.3 582.3,311.4 578.3,311.6 574.2,311.8 570.2,312 566.2,312.3 562.2,312.6 558.2,312.9 554.2,313.2 550.1,313.6 546.1,314 542.1,314.4 538.1,314.9 534.1,315.5 530,316 526,316.7 522,317.4 518,318.1 514,318.9 509.9,319.8 505.9,320.7 501.9,321.7 497.9,322.8 493.9,323.9 489.9,325.1 485.8,326.4 481.8,327.7 477.8,329.1 473.8,330.5 469.8,332 465.7,333.6 461.7,335.2 457.7,336.8 453.7,338.4 449.7,340.1 445.6,341.8 441.6,343.6 437.6,345.3 433.6,347 429.6,348.8 425.6,350.5 421.5,352.3 417.5,354 413.5,355.7 409.5,357.4 405.5,359 401.4,360.7 397.4,362.3 393.4,363.8 389.4,365.3 385.4,366.8 381.3,368.2 377.3,369.5 373.3,370.8 369.3,372 365.3,373.1 361.3,374.2 357.2,375.3 353.2,376.3 349.2,377.2 345.2,378.1 341.2,379 337.1,379.9 333.1,380.7 329.1,381.6 325.1,382.4 321.1,383.3 317,384.2 313,385.1 309,386.1 305,387.1 301,388.2 297,389.4 292.9,390.6 288.9,392 284.9,393.3 280.9,394.8 276.9,396.4 272.8,398 268.8,399.7 264.8,401.5 260.8,403.4 256.8,405.3 252.7,407.3 248.7,409.3 244.7,411.4 240.7,413.5 236.7,415.6 232.7,417.8 228.6,419.9 224.6,422 220.6,424.1 216.6,426.3 212.6,428.3 208.5,430.4 204.5,432.4 200.5,434.4 196.5,436.3 192.5,438.2 188.4,440 184.4,441.8 180.4,443.6 176.4,445.4 172.4,447.3 168.4,449.1 164.3,451 160.3,452.8 156.3,454.8 152.3,456.8 148.3,458.9 144.2,461 140.2,463.2 136.2,465.5 132.2,467.8 128.2,470.2 124.1,472.5 120.1,474.9 116.1,477.2 112.1,479.6 108.1,481.8 104.1,484.1 100,486.2 96,488.3 92,490.3" fill="#fee09b" stroke="#fee09b" stroke-width="0.6"/>
<polygon points="92,490.3 96,488.3 100,486.2 104.1,484.1 108.1,481.8 112.1,479.6 116.1,477.2 120.1,474.9 124.1,472.5 128.2,470.2 132.2,467.8 136.2,465.5 140.2,463.2 144.2,461 148.3,458.9 152.3,456.8 156.3,454.8 160.3,452.8 164.3,451 168.4,449.1 172.4,447.3 176.4,445.4 180.4,443.6 184.4,441.8 188.4,440 192.5,438.2 196.5,436.3 200.5,434.4 204.5,432.4 208.5,430.4 212.6,428.3 216.6,426.3 220.6,424.1 224.6,422 228.6,419.9 232.7,417.8 236.7,415.6 240.7,413.5 244.7,411.4 248.7,409.3 252.7,407.3 256.8,405.3 260.8,403.4 264.8,401.5 268.8,399.7 272.8,398 276.9,396.4 280.9,394.8 284.9,393.3 288.9,392 292.9,390.6 297,389.4 301,388.2 305,387.1 309,386.1 313,385.1 317,384.2 321.1,383.3 325.1,382.4 329.1,381.6 333.1,380.7 337.1,379.9 341.2,379 345.2,378.1 349.2,377.2 353.2,376.3 357.2,375.3 361.3,374.2 365.3,373.1 369.3,372 373.3,370.8 377.3,369.5 381.3,368.2 385.4,366.8 389.4,365.3 393.4,363.8 397.4,362.3 401.4,360.7 405.5,359 409.5,357.4 413.5,355.7 417.5,354 421.5,352.3 425.6,350.5 429.6,348.8 433.6,347 437.6,345.3 441.6,343.6 445.6,341.8 449.7,340.1 453.7,338.4 457.7,336.8 461.7,335.2 465.7,333.6 469.8,332 473.8,330.5 477.8,329.1 481.8,327.7 485.8,326.4 489.9,325.1 493.9,323.9 497.9,322.8 501.9,321.7 505.9,320.7 509.9,319.8 514,318.9 518,318.1 522,317.4 526,316.7 530,316 534.1,315.5 538.1,314.9 542.1,314.4 546.1,314 550.1,313.6 554.2,313.2 558.2,312.9 562.2,312.6 566.2,312.3 570.2,312 574.2,311.8 578.3,311.6 582.3,311.4 586.3,311.3 590.3,311.1 594.3,311 598.4,310.9 602.4,310.7 606.4,310.6 610.4,310.6 614.4,310.5 618.5,310.4 622.5,310.4 626.5,310.4 630.5,310.4 634.5,310.4 638.5,310.4 642.6,310.4 646.6,310.5 650.6,310.6 650.6,305.5 646.6,305.5 642.6,305.5 638.5,305.4 634.5,305.4 630.5,305.4 626.5,305.4 622.5,305.4 618.5,305.4 614.4,305.4 610.4,305.5 606.4,305.5 602.4,305.6 598.4,305.6 594.3,305.7 590.3,305.8 586.3,305.9 582.3,306 578.3,306.2 574.2,306.4 570.2,306.6 566.2,306.8 562.2,307 558.2,307.3 554.2,307.6 550.1,308 546.1,308.4 542.1,308.8 538.1,309.3 534.1,309.8 530,310.4 526,311 522,311.7 518,312.4 514,313.2 509.9,314.1 505.9,315 501.9,315.9 497.9,317 493.9,318.1 489.9,319.3 485.8,320.5 481.8,321.9 477.8,323.2 473.8,324.7 469.8,326.2 465.7,327.7 461.7,329.3 457.7,331 453.7,332.6 449.7,334.3 445.6,336 441.6,337.8 437.6,339.5 433.6,341.3 429.6,343 425.6,344.8 421.5,346.6 417.5,348.3 413.5,350 409.5,351.7 405.5,353.4 401.4,355.1 397.4,356.7 393.4,358.3 389.4,359.8 385.4,361.3 381.3,362.7 377.3,364.1 373.3,365.4 369.3,366.6 365.3,367.8 361.3,368.9 357.2,369.9 353.2,371 349.2,371.9 345.2,372.9 341.2,373.8 337.1,374.7 333.1,375.6 329.1,376.5 325.1,377.4 321.1,378.3 317,379.2 313,380.1 309,381.1 305,382.2 301,383.3 297,384.4 292.9,385.6 288.9,386.9 284.9,388.3 280.9,389.7 276.9,391.2 272.8,392.8 268.8,394.5 264.8,396.3 260.8,398.1 256.8,400.1 252.7,402.1 248.7,404.1 244.7,406.2 240.7,408.3 236.7,410.5 232.7,412.7 228.6,414.8 224.6,417 220.6,419.2 216.6,421.3 212.6,423.4 208.5,425.5 204.5,427.6 200.5,429.5 196.5,431.4 192.5,433.3 188.4,435.1 184.4,436.9 180.4,438.7 176.4,440.4 172.4,442.2 168.4,444 164.3,445.8 160.3,447.6 156.3,449.5 152.3,451.5 148.3,453.5 144.2,455.7 140.2,457.9 136.2,460.2 132.2,462.5 128.2,464.9 124.1,467.3 120.1,469.7 116.1,472 112.1,474.4 108.1,476.7 104.1,478.9 100,481.1 96,483.2 92,485.1" fill="#fee29b" stroke="#fee29b" stroke-width="0.6"/>
<polygon points="92,485.1 96,483.2 100,481.1 104.1,478.9 108.1,476.7 112.1,474.4 116.1,472 120.1,469.7 124.1,467.3 128.2,464.9 132.2,462.5 136.2,460.2 140.2,457.9 144.2,455.7 148.3,453.5 152.3,451.5 156.3,449.5 160.3,447.6 164.3,445.8 168.4,444 172.4,442.2 176.4,440.4 180.4,438.7 184.4,436.9 188.4,435.1 192.5,433.3 196.5,431.4 200.5,429.5 204.5,427.6 208.5,425.5 212.6,423.4 216.6,421.3 220.6,419.2 224.6,417 228.6,414.8 232.7,412.7 236.7,410.5 240.7,408.3 244.7,406.2 248.7,404.1 252.7,402.1 256.8,400.1 260.8,398.1 264.8,396.3 268.8,394.5 272.8,392.8 276.9,391.2 280.9,389.7 284.9,388.3 288.9,386.9 292.9,385.6 297,384.4 301,383.3 305,382.2 309,381.1 313,380.1 317,379.2 321.1,378.3 325.1,377.4 329.1,376.5 333.1,375.6 337.1,374.7 341.2,373.8 345.2,372.9 349.2,371.9 353.2,371 357.2,369.9 361.3,368.9 365.3,367.8 369.3,366.6 373.3,365.4 377.3,364.1 381.3,362.7 385.4,361.3 389.4,359.8 393.4,358.3 397.4,356.7 401.4,355.1 405.5,353.4 409.5,351.7 413.5,350 417.5,348.3 421.5,346.6 425.6,344.8 429.6,343 433.6,341.3 437.6,339.5 441.6,337.8 445.6,336 449.7,334.3 453.7,332.6 457.7,331 461.7,329.3 465.7,327.7 469.8,326.2 473.8,324.7 477.8,323.2 481.8,321.9 485.8,320.5 489.9,319.3 493.9,318.1 497.9,317 501.9,315.9 505.9,315 509.9,314.1 514,313.2 518,312.4 522,311.7 526,311 530,310.4 534.1,309.8 538.1,309.3 542.1,308.8 546.1,308.4 550.1,308 554.2,307.6 558.2,307.3 562.2,307 566.2,306.8 570.2,306.6 574.2,306.4 578.3,306.2 582.3,306 586.3,305.9 590.3,305.8 594.3,305.7 598.4,305.6 602.4,305.6 606.4,305.5 610.4,305.5 614.4,305.4 618.5,305.4 622.5,305.4 626.5,305.4 630.5,305.4 634.5,305.4 638.5,305.4 642.6,305.5 646.6,305.5 650.6,305.5 650.6,300.5 646.6,300.5 642.6,300.5 638.5,300.5 634.5,300.5 630.5,300.4 626.5,300.4 622.5,300.4 618.5,300.4 614.4,300.4 610.4,300.4 606.4,300.4 602.4,300.4 598.4,300.4 594.3,300.4 590.3,300.5 586.3,300.5 582.3,300.6 578.3,300.8 574.2,300.9 570.2,301.1 566.2,301.3 562.2,301.5 558.2,301.8 554.2,302.1 550.1,302.4 546.1,302.8 542.1,303.2 538.1,303.7 534.1,304.2 530,304.7 526,305.3 522,306 518,306.7 514,307.5 509.9,308.3 505.9,309.2 501.9,310.2 497.9,311.2 493.9,312.3 489.9,313.5 485.8,314.7 481.8,316 477.8,317.4 473.8,318.8 469.8,320.3 465.7,321.9 461.7,323.5 457.7,325.1 453.7,326.8 449.7,328.5 445.6,330.2 441.6,332 437.6,333.7 433.6,335.5 429.6,337.3 425.6,339.1 421.5,340.9 417.5,342.6 413.5,344.4 409.5,346.1 405.5,347.8 401.4,349.5 397.4,351.1 393.4,352.7 389.4,354.3 385.4,355.8 381.3,357.2 377.3,358.6 373.3,359.9 369.3,361.2 365.3,362.4 361.3,363.5 357.2,364.6 353.2,365.6 349.2,366.6 345.2,367.6 341.2,368.6 337.1,369.5 333.1,370.4 329.1,371.4 325.1,372.3 321.1,373.2 317,374.2 313,375.2 309,376.2 305,377.2 301,378.3 297,379.4 292.9,380.6 288.9,381.9 284.9,383.2 280.9,384.6 276.9,386 272.8,387.6 268.8,389.3 264.8,391 260.8,392.9 256.8,394.8 252.7,396.8 248.7,398.9 244.7,401 240.7,403.2 236.7,405.4 232.7,407.6 228.6,409.8 224.6,412 220.6,414.2 216.6,416.4 212.6,418.6 208.5,420.7 204.5,422.7 200.5,424.7 196.5,426.6 192.5,428.4 188.4,430.2 184.4,432 180.4,433.7 176.4,435.4 172.4,437.1 168.4,438.8 164.3,440.6 160.3,442.4 156.3,444.3 152.3,446.2 148.3,448.2 144.2,450.3 140.2,452.6 136.2,454.9 132.2,457.2 128.2,459.6 124.1,462 120.1,464.5 116.1,466.9 112.1,469.2 108.1,471.6 104.1,473.8 100,476 96,478.1 92,480" fill="#fee69b" stroke="#fee69b" stroke-width="0.6"/>
<polyline points="92,521 96,519 100,516.9 104.1,514.8 108.1,512.7 112.1,510.5 116.1,508.4 120.1,506.2 124.1,504 128.2,501.8 132.2,499.6 136.2,497.4 140.2,495.2 144.2,493 148.3,490.8 152.3,488.6 156.3,486.4 160.3,484.2 164.3,482.1 168.4,479.9 172.4,477.8 176.4,475.6 180.4,473.5 184.4,471.5 188.4,469.4 192.5,467.4 196.5,465.4 200.5,463.4 204.5,461.5 208.5,459.6 212.6,457.7 216.6,455.8 220.6,453.9 224.6,452 228.6,450.1 232.7,448.3 236.7,446.4 240.7,444.5 244.7,442.6 248.7,440.7 252.7,438.7 256.8,436.8 260.8,434.9 264.8,432.9 268.8,431 272.8,429.1 276.9,427.3 280.9,425.6 284.9,423.9 288.9,422.3 292.9,420.8 297,419.3 301,418.1 305,416.9 309,415.9 313,415 317,414.2 321.1,413.4 325.1,412.8 329.1,412.1 333.1,411.5 337.1,410.9 341.2,410.3 345.2,409.6 349.2,408.9 353.2,408.1 357.2,407.3 361.3,406.4 365.3,405.4 369.3,404.4 373.3,403.3 377.3,402.2 381.3,401 385.4,399.7 389.4,398.4 393.4,397.1 397.4,395.7 401.4,394.2 405.5,392.8 409.5,391.2 413.5,389.7 417.5,388.1 421.5,386.5 425.6,384.9 429.6,383.2 433.6,381.6 437.6,380 441.6,378.3 445.6,376.7 449.7,375 453.7,373.4 457.7,371.8 461.7,370.2 465.7,368.6 469.8,367.1 473.8,365.5 477.8,364.1 481.8,362.6 485.8,361.2 489.9,359.9 493.9,358.6 497.9,357.4 501.9,356.2 505.9,355.1 509.9,354.1 514,353.2 518,352.3 522,351.4 526,350.7 530,350 534.1,349.3 538.1,348.7 542.1,348.2 546.1,347.6 550.1,347.1 554.2,346.7 558.2,346.2 562.2,345.8 566.2,345.4 570.2,345 574.2,344.6 578.3,344.2 582.3,343.8 586.3,343.4 590.3,343 594.3,342.6 598.4,342.2 602.4,341.9 606.4,341.5 610.4,341.2 614.4,340.9 618.5,340.6 622.5,340.4 626.5,340.2 630.5,340.1 634.5,340.1 638.5,340.2 642.6,340.3 646.6,340.5 650.6,340.9" fill="none" stroke="#e3906a" stroke-width="0.8"/>
</g>
<rect x="92" y="387.5" width="856.5" height="37.5" fill="#4caf50" fill-opacity="0.22"/>
<line x1="92" y1="387.5" x2="948.5" y2="387.5" stroke="#74bb78" stroke-width="1.1"/>
<line x1="92" y1="425" x2="948.5" y2="425" stroke="#74bb78" stroke-width="1.1"/>
<g clip-path="url(#mp)" fill="none">
<polyline points="92,332.4 94.6,330.9 97.2,329.4 99.8,327.9 102.4,326.4 105.1,324.8 107.7,323.2 110.3,321.6 112.9,320 115.5,318.4 118.1,316.7 120.7,315 123.3,313.3 125.9,311.6 128.6,309.9 131.2,308.2 133.8,306.5 136.4,304.7 139,303 141.6,301.2 144.2,299.4 146.8,297.7 149.4,295.9 152,294.1 154.7,292.3 157.3,290.5 159.9,288.7 162.5,287 165.1,285.2 167.7,283.4 170.3,281.6 172.9,279.8 175.5,278.1 178.2,276.3 180.8,274.6 183.4,272.8 186,271.1 188.6,269.4 191.2,267.7 193.8,266 196.4,264.3 199,262.7 201.7,261 204.3,259.4 206.9,257.8 209.5,256.2 212.1,254.6 214.7,253.1 217.3,251.6 219.9,250.1 222.5,248.6 225.2,247.2 227.8,245.8 230.4,244.4 233,243 235.6,241.7 238.2,240.4 240.8,239.1 243.4,237.9 246,236.7 248.6,235.5 251.3,234.4 253.9,233.2 256.5,232.1 259.1,231.1 261.7,230 264.3,228.9 266.9,227.9 269.5,226.9 272.1,225.9 274.8,224.8 277.4,223.8 280,222.8 282.6,221.8 285.2,220.8 287.8,219.8 290.4,218.8 293,217.8 295.6,216.7 298.3,215.7 300.9,214.6 303.5,213.5 306.1,212.4 308.7,211.3 311.3,210.2 313.9,209 316.5,207.8 319.1,206.6 321.8,205.4 324.4,204.1 327,202.9 329.6,201.6 332.2,200.3 334.8,199 337.4,197.7 340,196.4 342.6,195 345.2,193.7 347.9,192.3 350.5,190.9 353.1,189.5 355.7,188.1 358.3,186.7 360.9,185.3 363.5,183.9 366.1,182.5 368.7,181 371.4,179.6 374,178.1 376.6,176.7 379.2,175.2 381.8,173.7 384.4,172.3 387,170.8 389.6,169.4 392.2,167.9 394.9,166.4 397.5,165 400.1,163.5 402.7,162.1 405.3,160.6 407.9,159.2 410.5,157.8 413.1,156.4 415.7,155 418.3,153.6 421,152.2 423.6,150.8 426.2,149.5 428.8,148.2 431.4,146.9 434,145.6 436.6,144.3 439.2,143 441.8,141.8 444.5,140.6 447.1,139.4 449.7,138.3 452.3,137.1 454.9,136 457.5,134.9 460.1,133.9 462.7,132.9 465.3,131.9 468,131 470.6,130 473.2,129.2 475.8,128.3 478.4,127.5 481,126.7 483.6,126 486.2,125.3 488.8,124.6 491.5,124 494.1,123.4 496.7,122.8 499.3,122.3 501.9,121.8 504.5,121.4 507.1,120.9 509.7,120.6 512.3,120.2 514.9,119.9 517.6,119.6 520.2,119.4 522.8,119.2 525.4,119 528,118.9 530.6,118.8 533.2,118.7 535.8,118.7 538.4,118.7 541.1,118.7 543.7,118.8 546.3,118.9 548.9,119 551.5,119.2 554.1,119.4 556.7,119.6 559.3,119.8 561.9,120.1 564.6,120.4 567.2,120.7 569.8,121.1 572.4,121.5 575,121.9 577.6,122.3 580.2,122.7 582.8,123.2 585.4,123.7 588.1,124.2 590.7,124.7 593.3,125.2 595.9,125.8 598.5,126.3 601.1,126.9 603.7,127.5 606.3,128.1 608.9,128.7 611.5,129.3 614.2,129.9 616.8,130.5 619.4,131.2 622,131.8 624.6,132.4 627.2,133.1 629.8,133.7 632.4,134.4 635,135 637.7,135.7 640.3,136.3 642.9,137 645.5,137.6 648.1,138.3" stroke="#97cf9a" stroke-width="2.4" stroke-dasharray="0.1 3.3" stroke-linecap="round"/>
<polyline points="92,436 94.6,434.7 97.2,433.4 99.8,432 102.4,430.7 105,429.4 107.6,428 110.3,426.6 112.9,425.3 115.5,423.9 118.1,422.5 120.7,421.1 123.3,419.7 125.9,418.2 128.5,416.8 131.1,415.4 133.7,414 136.3,412.5 138.9,411.1 141.5,409.6 144.1,408.2 146.8,406.7 149.4,405.2 152,403.8 154.6,402.3 157.2,400.8 159.8,399.4 162.4,397.9 165,396.4 167.6,395 170.2,393.5 172.8,392 175.4,390.6 178,389.1 180.7,387.6 183.3,386.2 185.9,384.7 188.5,383.3 191.1,381.8 193.7,380.4 196.3,378.9 198.9,377.5 201.5,376.1 204.1,374.7 206.7,373.3 209.3,371.9 211.9,370.5 214.6,369.1 217.2,367.7 219.8,366.3 222.4,365 225,363.7 227.6,362.3 230.2,361 232.8,359.7 235.4,358.4 238,357.1 240.6,355.8 243.2,354.6 245.8,353.3 248.4,352.1 251.1,350.9 253.7,349.7 256.3,348.5 258.9,347.3 261.5,346.1 264.1,345 266.7,343.9 269.3,342.7 271.9,341.6 274.5,340.6 277.1,339.5 279.7,338.5 282.3,337.4 285,336.4 287.6,335.4 290.2,334.5 292.8,333.5 295.4,332.5 298,331.6 300.6,330.6 303.2,329.7 305.8,328.8 308.4,327.9 311,327 313.6,326.1 316.2,325.2 318.9,324.3 321.5,323.4 324.1,322.5 326.7,321.6 329.3,320.7 331.9,319.8 334.5,318.9 337.1,318 339.7,317.1 342.3,316.2 344.9,315.3 347.5,314.3 350.1,313.4 352.7,312.5 355.4,311.5 358,310.5 360.6,309.6 363.2,308.6 365.8,307.6 368.4,306.5 371,305.5 373.6,304.5 376.2,303.4 378.8,302.4 381.4,301.3 384,300.2 386.6,299.1 389.3,298.1 391.9,297 394.5,295.9 397.1,294.8 399.7,293.7 402.3,292.6 404.9,291.5 407.5,290.4 410.1,289.3 412.7,288.2 415.3,287.1 417.9,285.9 420.5,284.8 423.1,283.8 425.8,282.7 428.4,281.6 431,280.5 433.6,279.4 436.2,278.4 438.8,277.3 441.4,276.2 444,275.2 446.6,274.2 449.2,273.2 451.8,272.1 454.4,271.1 457,270.2 459.7,269.2 462.3,268.2 464.9,267.3 467.5,266.4 470.1,265.5 472.7,264.6 475.3,263.7 477.9,262.8 480.5,262 483.1,261.2 485.7,260.4 488.3,259.6 490.9,258.9 493.6,258.1 496.2,257.4 498.8,256.8 501.4,256.1 504,255.5 506.6,254.9 509.2,254.3 511.8,253.8 514.4,253.2 517,252.8 519.6,252.3 522.2,251.9 524.8,251.5 527.4,251.1 530.1,250.7 532.7,250.4 535.3,250.1 537.9,249.8 540.5,249.6 543.1,249.3 545.7,249.1 548.3,248.9 550.9,248.8 553.5,248.6 556.1,248.5 558.7,248.4 561.3,248.4 564,248.3 566.6,248.2 569.2,248.2 571.8,248.2 574.4,248.2 577,248.3 579.6,248.3 582.2,248.4 584.8,248.4 587.4,248.5 590,248.6 592.6,248.7 595.2,248.9 597.9,249 600.5,249.2 603.1,249.3 605.7,249.5 608.3,249.7 610.9,249.9 613.5,250.1 616.1,250.3 618.7,250.5 621.3,250.8 623.9,251 626.5,251.2 629.1,251.5 631.7,251.7 634.4,252 637,252.2 639.6,252.5 642.2,252.8 644.8,253 647.4,253.3 650,253.6" stroke="#97cf9a" stroke-width="2.4" stroke-dasharray="0.1 3.3" stroke-linecap="round"/>
<polyline points="92,383.9 95,381.9 98,380 101,378 104,376 107,374.1 110,372.1 113,370.2 116,368.2 119,366.3 122.1,364.3 125.1,362.4 128.1,360.4 131.1,358.5 134.1,356.5 137.1,354.6 140.1,352.7 143.1,350.8 146.1,348.9 149.1,347 152.1,345.1 155.1,343.2 158.1,341.3 161.1,339.4 164.1,337.6 167.1,335.7 170.1,333.9 173.1,332.1 176.2,330.3 179.2,328.5 182.2,326.7 185.2,324.9 188.2,323.1 191.2,321.4 194.2,319.6 197.2,317.9 200.2,316.2 203.2,314.5 206.2,312.9 209.2,311.2 212.2,309.6 215.2,308 218.2,306.4 221.2,304.8 224.2,303.2 227.2,301.7 230.2,300.2 233.3,298.7 236.3,297.2 239.3,295.7 242.3,294.3 245.3,292.9 248.3,291.5 251.3,290.2 254.3,288.8 257.3,287.5 260.3,286.2 263.3,284.9 266.3,283.7 269.3,282.5 272.3,281.2 275.3,280 278.3,278.8 281.3,277.7 284.3,276.5 287.4,275.3 290.4,274.2 293.4,273.1 296.4,271.9 299.4,270.8 302.4,269.7 305.4,268.5 308.4,267.4 311.4,266.3 314.4,265.2 317.4,264.1 320.4,262.9 323.4,261.8 326.4,260.7 329.4,259.5 332.4,258.3 335.4,257.2 338.4,256 341.4,254.8 344.5,253.6 347.5,252.4 350.5,251.1 353.5,249.9 356.5,248.6 359.5,247.3 362.5,246 365.5,244.7 368.5,243.3 371.5,241.9 374.5,240.5 377.5,239.1 380.5,237.6 383.5,236.1 386.5,234.5 389.5,233 392.5,231.4 395.5,229.8 398.6,228.1 401.6,226.5 404.6,224.8 407.6,223.2 410.6,221.5 413.6,219.9 416.6,218.3 419.6,216.7 422.6,215.2 425.6,213.7 428.6,212.2 431.6,210.8 434.6,209.4 437.6,208 440.6,206.7 443.6,205.4 446.6,204.2 449.6,202.9 452.6,201.7 455.7,200.5 458.7,199.4 461.7,198.2 464.7,197.1 467.7,196 470.7,195 473.7,194 476.7,193 479.7,192 482.7,191.1 485.7,190.2 488.7,189.4 491.7,188.6 494.7,187.8 497.7,187.1 500.7,186.5 503.7,185.8 506.7,185.2 509.8,184.7 512.8,184.2 515.8,183.8 518.8,183.4 521.8,183.1 524.8,182.8 527.8,182.6 530.8,182.5 533.8,182.3 536.8,182.3 539.8,182.2 542.8,182.3 545.8,182.3 548.8,182.4 551.8,182.6 554.8,182.7 557.8,182.9 560.8,183.2 563.8,183.4 566.9,183.7 569.9,184 572.9,184.4 575.9,184.7 578.9,185.1 581.9,185.5 584.9,185.9 587.9,186.4 590.9,186.8 593.9,187.2 596.9,187.7 599.9,188.2 602.9,188.6 605.9,189.1 608.9,189.6 611.9,190 614.9,190.5 617.9,190.9 621,191.4 624,191.8 627,192.3 630,192.7 633,193.1 636,193.4 639,193.8 642,194.1 645,194.5 648,194.7" stroke="#f2c62a" stroke-width="2.2"/>
<line x1="650.5" y1="61.6" x2="948.5" y2="61.6" stroke="#e26a6a" stroke-width="1"/>
<line x1="647.5" y1="138.6" x2="948.5" y2="138.6" stroke="#62ad66" stroke-width="1"/>
<line x1="651" y1="341" x2="948.5" y2="341" stroke="#ef9a9a" stroke-width="1.6"/>
<line x1="651" y1="254.5" x2="948.5" y2="254.5" stroke="#5cb360" stroke-width="1.2"/>
<line x1="146" y1="254.8" x2="948.5" y2="254.8" stroke="#089981" stroke-width="1" stroke-dasharray="1 2.4"/>
</g>
<g clip-path="url(#mp)">
<line x1="93.5" y1="263.3" x2="93.5" y2="266.9" stroke="#f23645" stroke-width="1.1"/>
<rect x="92.2" y="264.1" width="2.7" height="1.7" fill="#f23645"/>
<line x1="96.5" y1="261.6" x2="96.5" y2="269.9" stroke="#089981" stroke-width="1.1"/>
<rect x="95.2" y="263.3" width="2.7" height="3.3" fill="#089981"/>
<line x1="100.5" y1="259.9" x2="100.5" y2="264.9" stroke="#089981" stroke-width="1.1"/>
<rect x="99.2" y="260.8" width="2.7" height="3.3" fill="#089981"/>
<line x1="103.5" y1="253.3" x2="103.5" y2="263.3" stroke="#089981" stroke-width="1.1"/>
<rect x="102.2" y="256.6" width="2.7" height="5" fill="#089981"/>
<line x1="106.5" y1="242.4" x2="106.5" y2="258.3" stroke="#089981" stroke-width="1.1"/>
<rect x="105.2" y="249.9" width="2.7" height="6.7" fill="#089981"/>
<line x1="110.5" y1="243.3" x2="110.5" y2="256.6" stroke="#f23645" stroke-width="1.1"/>
<rect x="109.2" y="249.9" width="2.7" height="4.2" fill="#f23645"/>
<line x1="113.5" y1="247.4" x2="113.5" y2="255.8" stroke="#089981" stroke-width="1.1"/>
<rect x="112.2" y="249.1" width="2.7" height="5" fill="#089981"/>
<line x1="116.5" y1="246.6" x2="116.5" y2="254.9" stroke="#089981" stroke-width="1.1"/>
<rect x="115.2" y="248.3" width="2.7" height="5" fill="#089981"/>
<line x1="120.5" y1="229.1" x2="120.5" y2="249.1" stroke="#089981" stroke-width="1.1"/>
<rect x="119.2" y="230.8" width="2.7" height="17.5" fill="#089981"/>
<line x1="123.5" y1="230" x2="123.5" y2="246.6" stroke="#f23645" stroke-width="1.1"/>
<rect x="122.2" y="231.6" width="2.7" height="13.3" fill="#f23645"/>
<line x1="126.5" y1="240" x2="126.5" y2="248.3" stroke="#f23645" stroke-width="1.1"/>
<rect x="125.2" y="244.1" width="2.7" height="2.5" fill="#f23645"/>
<line x1="130.5" y1="233" x2="130.5" y2="247.4" stroke="#089981" stroke-width="1.1"/>
<rect x="129.2" y="234.1" width="2.7" height="11.7" fill="#089981"/>
<line x1="133.5" y1="232" x2="133.5" y2="246.6" stroke="#f23645" stroke-width="1.1"/>
<rect x="132.2" y="233.6" width="2.7" height="6.3" fill="#f23645"/>
<line x1="137.5" y1="233.6" x2="137.5" y2="247.4" stroke="#089981" stroke-width="1.1"/>
<rect x="136.2" y="237.5" width="2.7" height="2.5" fill="#089981"/>
<line x1="140.5" y1="237.5" x2="140.5" y2="246.6" stroke="#f23645" stroke-width="1.1"/>
<rect x="139.2" y="238.3" width="2.7" height="6.7" fill="#f23645"/>
<line x1="143.5" y1="231.6" x2="143.5" y2="247.4" stroke="#f23645" stroke-width="1.1"/>
<rect x="142.2" y="244.1" width="2.7" height="2.5" fill="#f23645"/>
<line x1="147.5" y1="214.6" x2="147.5" y2="248.3" stroke="#089981" stroke-width="1.1"/>
<rect x="146.2" y="237.5" width="2.7" height="9.2" fill="#089981"/>
<line x1="150.5" y1="231.6" x2="150.5" y2="248.3" stroke="#f23645" stroke-width="1.1"/>
<rect x="149.2" y="237.5" width="2.7" height="9.2" fill="#f23645"/>
<line x1="153.5" y1="233.6" x2="153.5" y2="267.4" stroke="#f23645" stroke-width="1.1"/>
<rect x="152.2" y="247.4" width="2.7" height="18.3" fill="#f23645"/>
<line x1="157.5" y1="257.4" x2="157.5" y2="294.9" stroke="#f23645" stroke-width="1.1"/>
<rect x="156.2" y="263.3" width="2.7" height="14.2" fill="#f23645"/>
<line x1="160.5" y1="257.4" x2="160.5" y2="279.1" stroke="#089981" stroke-width="1.1"/>
<rect x="159.2" y="262.4" width="2.7" height="15" fill="#089981"/>
<line x1="163.5" y1="260.8" x2="163.5" y2="282.7" stroke="#f23645" stroke-width="1.1"/>
<rect x="162.2" y="261.6" width="2.7" height="17.5" fill="#f23645"/>
<line x1="167.5" y1="260.8" x2="167.5" y2="280.7" stroke="#089981" stroke-width="1.1"/>
<rect x="166.2" y="261.9" width="2.7" height="18" fill="#089981"/>
<line x1="170.5" y1="245.8" x2="170.5" y2="265.8" stroke="#089981" stroke-width="1.1"/>
<rect x="169.2" y="246.6" width="2.7" height="17.5" fill="#089981"/>
<line x1="173.5" y1="241.9" x2="173.5" y2="256.6" stroke="#089981" stroke-width="1.1"/>
<rect x="172.2" y="245.8" width="2.7" height="2" fill="#089981"/>
<line x1="177.5" y1="225.8" x2="177.5" y2="247.4" stroke="#089981" stroke-width="1.1"/>
<rect x="176.2" y="229.1" width="2.7" height="17.5" fill="#089981"/>
<line x1="180.5" y1="227.5" x2="180.5" y2="243.3" stroke="#f23645" stroke-width="1.1"/>
<rect x="179.2" y="228.6" width="2.7" height="12.2" fill="#f23645"/>
<line x1="184.5" y1="239.1" x2="184.5" y2="250.8" stroke="#f23645" stroke-width="1.1"/>
<rect x="183.2" y="240" width="2.7" height="10" fill="#f23645"/>
<line x1="187.5" y1="242.4" x2="187.5" y2="251.3" stroke="#089981" stroke-width="1.1"/>
<rect x="186.2" y="246.3" width="2.7" height="3.3" fill="#089981"/>
<line x1="190.5" y1="238.6" x2="190.5" y2="259.1" stroke="#089981" stroke-width="1.1"/>
<rect x="189.2" y="240.8" width="2.7" height="6.7" fill="#089981"/>
<line x1="194.5" y1="235.3" x2="194.5" y2="259.1" stroke="#f23645" stroke-width="1.1"/>
<rect x="193.2" y="240.8" width="2.7" height="8.3" fill="#f23645"/>
<line x1="197.5" y1="245.8" x2="197.5" y2="263.3" stroke="#f23645" stroke-width="1.1"/>
<rect x="196.2" y="248.3" width="2.7" height="4.2" fill="#f23645"/>
<line x1="200.5" y1="246.6" x2="200.5" y2="253.6" stroke="#089981" stroke-width="1.1"/>
<rect x="199.2" y="248.3" width="2.7" height="3.7" fill="#089981"/>
<line x1="204.5" y1="243.3" x2="204.5" y2="261.9" stroke="#f23645" stroke-width="1.1"/>
<rect x="203.2" y="249.9" width="2.7" height="10.8" fill="#f23645"/>
<line x1="207.5" y1="256.6" x2="207.5" y2="278.6" stroke="#f23645" stroke-width="1.1"/>
<rect x="206.2" y="259.9" width="2.7" height="17.8" fill="#f23645"/>
<line x1="210.5" y1="265.8" x2="210.5" y2="280.7" stroke="#089981" stroke-width="1.1"/>
<rect x="209.2" y="266.6" width="2.7" height="11.2" fill="#089981"/>
<line x1="214.5" y1="251.6" x2="214.5" y2="282.7" stroke="#089981" stroke-width="1.1"/>
<rect x="213.2" y="252.4" width="2.7" height="15" fill="#089981"/>
<line x1="217.5" y1="239.1" x2="217.5" y2="264.1" stroke="#f23645" stroke-width="1.1"/>
<rect x="216.2" y="252.4" width="2.7" height="2.2" fill="#f23645"/>
<line x1="220.5" y1="241.9" x2="220.5" y2="261.9" stroke="#089981" stroke-width="1.1"/>
<rect x="219.2" y="244.9" width="2.7" height="9.2" fill="#089981"/>
<line x1="224.5" y1="234.1" x2="224.5" y2="247.4" stroke="#089981" stroke-width="1.1"/>
<rect x="223.2" y="240.8" width="2.7" height="5" fill="#089981"/>
<line x1="227.5" y1="238.6" x2="227.5" y2="247.4" stroke="#f23645" stroke-width="1.1"/>
<rect x="226.2" y="240.8" width="2.7" height="5.8" fill="#f23645"/>
<line x1="231.5" y1="242.4" x2="231.5" y2="255.3" stroke="#089981" stroke-width="1.1"/>
<rect x="230.2" y="243.3" width="2.7" height="4.2" fill="#089981"/>
<line x1="234.5" y1="237.1" x2="234.5" y2="246.6" stroke="#089981" stroke-width="1.1"/>
<rect x="233.2" y="238.3" width="2.7" height="6.7" fill="#089981"/>
<line x1="237.5" y1="233.3" x2="237.5" y2="247.4" stroke="#f23645" stroke-width="1.1"/>
<rect x="236.2" y="238.3" width="2.7" height="3.3" fill="#f23645"/>
<line x1="241.5" y1="240" x2="241.5" y2="250.3" stroke="#f23645" stroke-width="1.1"/>
<rect x="240.2" y="240.8" width="2.7" height="9.2" fill="#f23645"/>
<line x1="244.5" y1="246.6" x2="244.5" y2="261.9" stroke="#089981" stroke-width="1.1"/>
<rect x="243.2" y="247.4" width="2.7" height="2" fill="#089981"/>
<line x1="247.5" y1="245.3" x2="247.5" y2="251.3" stroke="#f23645" stroke-width="1.1"/>
<rect x="246.2" y="247.4" width="2.7" height="2.8" fill="#f23645"/>
<line x1="251.5" y1="248.2" x2="251.5" y2="259.9" stroke="#f23645" stroke-width="1.1"/>
<rect x="250.2" y="249.1" width="2.7" height="9.2" fill="#f23645"/>
<line x1="254.5" y1="254.1" x2="254.5" y2="261.9" stroke="#f23645" stroke-width="1.1"/>
<rect x="253.2" y="255.7" width="2.7" height="2.8" fill="#f23645"/>
<line x1="257.5" y1="250.7" x2="257.5" y2="260.7" stroke="#089981" stroke-width="1.1"/>
<rect x="256.1" y="252.4" width="2.7" height="6.7" fill="#089981"/>
<line x1="261.5" y1="249.9" x2="261.5" y2="258.2" stroke="#089981" stroke-width="1.1"/>
<rect x="260.1" y="253.2" width="2.7" height="2.8" fill="#089981"/>
<line x1="264.5" y1="249.9" x2="264.5" y2="255.7" stroke="#089981" stroke-width="1.1"/>
<rect x="263.1" y="252.1" width="2.7" height="2.2" fill="#089981"/>
<line x1="267.5" y1="241.6" x2="267.5" y2="252.6" stroke="#089981" stroke-width="1.1"/>
<rect x="266.1" y="242.4" width="2.7" height="9.5" fill="#089981"/>
<line x1="271.5" y1="239.9" x2="271.5" y2="244.9" stroke="#f23645" stroke-width="1.1"/>
<rect x="270.1" y="241.3" width="2.7" height="2.8" fill="#f23645"/>
<line x1="274.5" y1="215.8" x2="274.5" y2="245.2" stroke="#089981" stroke-width="1.1"/>
<rect x="273.1" y="217.4" width="2.7" height="26.6" fill="#089981"/>
<line x1="278.5" y1="211.9" x2="278.5" y2="244.9" stroke="#f23645" stroke-width="1.1"/>
<rect x="277.1" y="217.4" width="2.7" height="26.6" fill="#f23645"/>
<line x1="281.5" y1="200.5" x2="281.5" y2="260.7" stroke="#089981" stroke-width="1.1"/>
<rect x="280.1" y="202.5" width="2.7" height="41.6" fill="#089981"/>
<line x1="284.5" y1="194.1" x2="284.5" y2="248.2" stroke="#f23645" stroke-width="1.1"/>
<rect x="283.1" y="203.3" width="2.7" height="44.1" fill="#f23645"/>
<line x1="288.5" y1="244.9" x2="288.5" y2="271.6" stroke="#f23645" stroke-width="1.1"/>
<rect x="287.1" y="247.4" width="2.7" height="6.7" fill="#f23645"/>
<line x1="291.5" y1="249.9" x2="291.5" y2="259.9" stroke="#f23645" stroke-width="1.1"/>
<rect x="290.1" y="250.7" width="2.7" height="7.5" fill="#f23645"/>
<line x1="294.5" y1="226.3" x2="294.5" y2="270.7" stroke="#089981" stroke-width="1.1"/>
<rect x="293.1" y="228.3" width="2.7" height="29.1" fill="#089981"/>
<line x1="298.5" y1="217.4" x2="298.5" y2="231.6" stroke="#089981" stroke-width="1.1"/>
<rect x="297.1" y="218.6" width="2.7" height="11.3" fill="#089981"/>
<line x1="301.5" y1="213.3" x2="301.5" y2="226.6" stroke="#089981" stroke-width="1.1"/>
<rect x="300.1" y="216.6" width="2.7" height="2.7" fill="#089981"/>
<line x1="304.5" y1="198.3" x2="304.5" y2="218.3" stroke="#089981" stroke-width="1.1"/>
<rect x="303.1" y="214.9" width="2.7" height="2.7" fill="#089981"/>
<line x1="308.5" y1="205" x2="308.5" y2="227.4" stroke="#f23645" stroke-width="1.1"/>
<rect x="307.1" y="214.9" width="2.7" height="10.8" fill="#f23645"/>
<line x1="311.5" y1="220.3" x2="311.5" y2="228.3" stroke="#089981" stroke-width="1.1"/>
<rect x="310.1" y="222.4" width="2.7" height="3.3" fill="#089981"/>
<line x1="314.5" y1="219.9" x2="314.5" y2="238.6" stroke="#089981" stroke-width="1.1"/>
<rect x="313.1" y="220.8" width="2.7" height="2.7" fill="#089981"/>
<line x1="318.5" y1="191.6" x2="318.5" y2="224.1" stroke="#089981" stroke-width="1.1"/>
<rect x="317.1" y="195" width="2.7" height="26.6" fill="#089981"/>
<line x1="321.5" y1="191.6" x2="321.5" y2="211.6" stroke="#f23645" stroke-width="1.1"/>
<rect x="320.1" y="194.9" width="2.7" height="2.7" fill="#f23645"/>
<line x1="324.5" y1="193.2" x2="324.5" y2="207.4" stroke="#089981" stroke-width="1.1"/>
<rect x="323.1" y="197.4" width="2.7" height="5" fill="#089981"/>
<line x1="328.5" y1="179.9" x2="328.5" y2="203.2" stroke="#f23645" stroke-width="1.1"/>
<rect x="327.1" y="197.4" width="2.7" height="5" fill="#f23645"/>
<line x1="331.5" y1="198.2" x2="331.5" y2="209.1" stroke="#089981" stroke-width="1.1"/>
<rect x="330.1" y="199.9" width="2.7" height="3.3" fill="#089981"/>
<line x1="335.5" y1="158.6" x2="335.5" y2="204.9" stroke="#089981" stroke-width="1.1"/>
<rect x="334.1" y="165.8" width="2.7" height="35.8" fill="#089981"/>
<line x1="338.5" y1="153.3" x2="338.5" y2="207.4" stroke="#f23645" stroke-width="1.1"/>
<rect x="337.1" y="165.8" width="2.7" height="5" fill="#f23645"/>
<line x1="341.5" y1="140" x2="341.5" y2="183.3" stroke="#089981" stroke-width="1.1"/>
<rect x="340.1" y="155.8" width="2.7" height="15" fill="#089981"/>
<line x1="345.5" y1="124.6" x2="345.5" y2="168.3" stroke="#089981" stroke-width="1.1"/>
<rect x="344.1" y="125" width="2.7" height="30.8" fill="#089981"/>
<line x1="348.5" y1="125" x2="348.5" y2="145" stroke="#f23645" stroke-width="1.1"/>
<rect x="347.1" y="125.8" width="2.7" height="9.2" fill="#f23645"/>
<line x1="351.5" y1="131.6" x2="351.5" y2="146.6" stroke="#f23645" stroke-width="1.1"/>
<rect x="350.1" y="135" width="2.7" height="3.3" fill="#f23645"/>
<line x1="355.5" y1="126.6" x2="355.5" y2="142.5" stroke="#089981" stroke-width="1.1"/>
<rect x="354.1" y="130.8" width="2.7" height="6.7" fill="#089981"/>
<line x1="358.5" y1="121.7" x2="358.5" y2="137.5" stroke="#f23645" stroke-width="1.1"/>
<rect x="357.1" y="131.6" width="2.7" height="2" fill="#f23645"/>
<line x1="361.5" y1="125.8" x2="361.5" y2="140.8" stroke="#089981" stroke-width="1.1"/>
<rect x="360.1" y="126.6" width="2.7" height="8.3" fill="#089981"/>
<line x1="365.5" y1="125" x2="365.5" y2="135.8" stroke="#f23645" stroke-width="1.1"/>
<rect x="364.1" y="125.8" width="2.7" height="9.2" fill="#f23645"/>
<line x1="368.5" y1="133.3" x2="368.5" y2="145" stroke="#f23645" stroke-width="1.1"/>
<rect x="367.1" y="134.6" width="2.7" height="5.3" fill="#f23645"/>
<line x1="371.5" y1="130" x2="371.5" y2="167.4" stroke="#f23645" stroke-width="1.1"/>
<rect x="370.1" y="140" width="2.7" height="24.1" fill="#f23645"/>
<line x1="375.5" y1="148.3" x2="375.5" y2="190.7" stroke="#f23645" stroke-width="1.1"/>
<rect x="374.1" y="163.3" width="2.7" height="2" fill="#f23645"/>
<line x1="378.5" y1="152.5" x2="378.5" y2="179.1" stroke="#f23645" stroke-width="1.1"/>
<rect x="377.1" y="164.9" width="2.7" height="5" fill="#f23645"/>
<line x1="382.5" y1="168.3" x2="382.5" y2="197.4" stroke="#f23645" stroke-width="1.1"/>
<rect x="381.1" y="169.1" width="2.7" height="21.6" fill="#f23645"/>
<line x1="385.5" y1="172.9" x2="385.5" y2="196.6" stroke="#089981" stroke-width="1.1"/>
<rect x="384.1" y="174.1" width="2.7" height="16.7" fill="#089981"/>
<line x1="388.5" y1="168.3" x2="388.5" y2="184.9" stroke="#f23645" stroke-width="1.1"/>
<rect x="387.1" y="173.3" width="2.7" height="10.8" fill="#f23645"/>
<line x1="392.5" y1="156.6" x2="392.5" y2="185.3" stroke="#089981" stroke-width="1.1"/>
<rect x="391.1" y="160.8" width="2.7" height="24.1" fill="#089981"/>
<line x1="395.5" y1="159.9" x2="395.5" y2="169.9" stroke="#f23645" stroke-width="1.1"/>
<rect x="394.1" y="160.8" width="2.7" height="4.2" fill="#f23645"/>
<line x1="398.5" y1="160.8" x2="398.5" y2="167.4" stroke="#089981" stroke-width="1.1"/>
<rect x="397.1" y="161.6" width="2.7" height="2" fill="#089981"/>
<line x1="402.5" y1="161.6" x2="402.5" y2="185.8" stroke="#f23645" stroke-width="1.1"/>
<rect x="401.1" y="164.1" width="2.7" height="18.3" fill="#f23645"/>
<line x1="405.5" y1="174.9" x2="405.5" y2="189.1" stroke="#089981" stroke-width="1.1"/>
<rect x="404.1" y="176.6" width="2.7" height="5.8" fill="#089981"/>
<line x1="408.5" y1="173.6" x2="408.5" y2="184.9" stroke="#f23645" stroke-width="1.1"/>
<rect x="407.1" y="176.6" width="2.7" height="6.7" fill="#f23645"/>
<line x1="412.5" y1="182.4" x2="412.5" y2="196.6" stroke="#f23645" stroke-width="1.1"/>
<rect x="411.1" y="183.3" width="2.7" height="7.5" fill="#f23645"/>
<line x1="415.5" y1="183.3" x2="415.5" y2="199.1" stroke="#f23645" stroke-width="1.1"/>
<rect x="414.1" y="190.7" width="2.7" height="4.2" fill="#f23645"/>
<line x1="418.5" y1="180.3" x2="418.5" y2="198.6" stroke="#089981" stroke-width="1.1"/>
<rect x="417.1" y="182.9" width="2.7" height="12" fill="#089981"/>
<line x1="422.5" y1="154.6" x2="422.5" y2="191.6" stroke="#089981" stroke-width="1.1"/>
<rect x="421.1" y="162.4" width="2.7" height="21.6" fill="#089981"/>
<line x1="425.5" y1="149.1" x2="425.5" y2="167.4" stroke="#089981" stroke-width="1.1"/>
<rect x="424.1" y="150" width="2.7" height="13.3" fill="#089981"/>
<line x1="429.5" y1="145" x2="429.5" y2="156.6" stroke="#089981" stroke-width="1.1"/>
<rect x="428.1" y="146.6" width="2.7" height="8.3" fill="#089981"/>
<line x1="432.5" y1="145.8" x2="432.5" y2="155" stroke="#f23645" stroke-width="1.1"/>
<rect x="431.1" y="146.6" width="2.7" height="6.7" fill="#f23645"/>
<line x1="435.5" y1="143.6" x2="435.5" y2="155.8" stroke="#089981" stroke-width="1.1"/>
<rect x="434.1" y="149.1" width="2.7" height="4.2" fill="#089981"/>
<line x1="439.5" y1="143.6" x2="439.5" y2="166.6" stroke="#f23645" stroke-width="1.1"/>
<rect x="438.1" y="149.1" width="2.7" height="13.3" fill="#f23645"/>
<line x1="442.5" y1="152.5" x2="442.5" y2="164.9" stroke="#089981" stroke-width="1.1"/>
<rect x="441.1" y="158.3" width="2.7" height="5" fill="#089981"/>
<line x1="445.5" y1="154.6" x2="445.5" y2="186.6" stroke="#f23645" stroke-width="1.1"/>
<rect x="444.1" y="158.3" width="2.7" height="7.5" fill="#f23645"/>
<line x1="449.5" y1="156.6" x2="449.5" y2="171.6" stroke="#089981" stroke-width="1.1"/>
<rect x="448.1" y="157.4" width="2.7" height="8.3" fill="#089981"/>
<line x1="452.5" y1="152.5" x2="452.5" y2="158.6" stroke="#089981" stroke-width="1.1"/>
<rect x="451.1" y="155.8" width="2.7" height="2" fill="#089981"/>
<line x1="455.5" y1="138" x2="455.5" y2="169.9" stroke="#089981" stroke-width="1.1"/>
<rect x="454.1" y="148.3" width="2.7" height="7.5" fill="#089981"/>
<line x1="459.5" y1="143.3" x2="459.5" y2="156.9" stroke="#f23645" stroke-width="1.1"/>
<rect x="458.1" y="148" width="2.7" height="4.5" fill="#f23645"/>
<line x1="462.5" y1="151.6" x2="462.5" y2="170.8" stroke="#f23645" stroke-width="1.1"/>
<rect x="461.1" y="152.5" width="2.7" height="14.2" fill="#f23645"/>
<line x1="465.5" y1="161.6" x2="465.5" y2="172.4" stroke="#f23645" stroke-width="1.1"/>
<rect x="464.1" y="165.3" width="2.7" height="2.3" fill="#f23645"/>
<line x1="469.5" y1="163.3" x2="469.5" y2="169.1" stroke="#f23645" stroke-width="1.1"/>
<rect x="468.1" y="165.6" width="2.7" height="1.7" fill="#f23645"/>
<line x1="472.5" y1="162.4" x2="472.5" y2="174.9" stroke="#089981" stroke-width="1.1"/>
<rect x="471.1" y="165.6" width="2.7" height="1.7" fill="#089981"/>
<line x1="476.5" y1="163.3" x2="476.5" y2="193.2" stroke="#f23645" stroke-width="1.1"/>
<rect x="475.1" y="166.3" width="2.7" height="26.1" fill="#f23645"/>
<line x1="479.5" y1="181.6" x2="479.5" y2="195.7" stroke="#f23645" stroke-width="1.1"/>
<rect x="478.1" y="192.4" width="2.7" height="2.5" fill="#f23645"/>
<line x1="482.5" y1="179.1" x2="482.5" y2="195" stroke="#089981" stroke-width="1.1"/>
<rect x="481.1" y="182.5" width="2.7" height="10.8" fill="#089981"/>
<line x1="486.5" y1="171.6" x2="486.5" y2="187.5" stroke="#089981" stroke-width="1.1"/>
<rect x="485.1" y="178.3" width="2.7" height="4.5" fill="#089981"/>
<line x1="489.5" y1="178.3" x2="489.5" y2="194.1" stroke="#f23645" stroke-width="1.1"/>
<rect x="488.1" y="179.1" width="2.7" height="3.7" fill="#f23645"/>
<line x1="492.5" y1="165.8" x2="492.5" y2="184.1" stroke="#089981" stroke-width="1.1"/>
<rect x="491.1" y="167.5" width="2.7" height="15" fill="#089981"/>
<line x1="496.5" y1="166.3" x2="496.5" y2="201.6" stroke="#f23645" stroke-width="1.1"/>
<rect x="495.1" y="166.7" width="2.7" height="27.5" fill="#f23645"/>
<line x1="499.5" y1="193.3" x2="499.5" y2="215.8" stroke="#f23645" stroke-width="1.1"/>
<rect x="498.1" y="194.1" width="2.7" height="20" fill="#f23645"/>
<line x1="502.5" y1="202.4" x2="502.5" y2="219.9" stroke="#f23645" stroke-width="1.1"/>
<rect x="501.1" y="214.1" width="2.7" height="2.8" fill="#f23645"/>
<line x1="506.5" y1="206.6" x2="506.5" y2="230.8" stroke="#089981" stroke-width="1.1"/>
<rect x="505.1" y="208.3" width="2.7" height="8.3" fill="#089981"/>
<line x1="509.5" y1="204.1" x2="509.5" y2="228.3" stroke="#f23645" stroke-width="1.1"/>
<rect x="508.1" y="209.9" width="2.7" height="15" fill="#f23645"/>
<line x1="512.5" y1="209.9" x2="512.5" y2="231.6" stroke="#089981" stroke-width="1.1"/>
<rect x="511.1" y="210.8" width="2.7" height="14.2" fill="#089981"/>
<line x1="516.5" y1="209.6" x2="516.5" y2="224.1" stroke="#f23645" stroke-width="1.1"/>
<rect x="515.1" y="210.8" width="2.7" height="6.7" fill="#f23645"/>
<line x1="519.5" y1="216.3" x2="519.5" y2="245.7" stroke="#f23645" stroke-width="1.1"/>
<rect x="518.1" y="216.6" width="2.7" height="14.2" fill="#f23645"/>
<line x1="523.5" y1="227.4" x2="523.5" y2="246.6" stroke="#f23645" stroke-width="1.1"/>
<rect x="522.1" y="230.8" width="2.7" height="10" fill="#f23645"/>
<line x1="526.5" y1="235.7" x2="526.5" y2="254.1" stroke="#f23645" stroke-width="1.1"/>
<rect x="525.1" y="240.7" width="2.7" height="5.8" fill="#f23645"/>
<line x1="529.5" y1="241.6" x2="529.5" y2="250.7" stroke="#089981" stroke-width="1.1"/>
<rect x="528.1" y="243.6" width="2.7" height="3" fill="#089981"/>
<line x1="533.5" y1="243.2" x2="533.5" y2="250.7" stroke="#f23645" stroke-width="1.1"/>
<rect x="532.1" y="244.1" width="2.7" height="4.2" fill="#f23645"/>
<line x1="536.5" y1="226.6" x2="536.5" y2="248.6" stroke="#089981" stroke-width="1.1"/>
<rect x="535.1" y="230.8" width="2.7" height="17.1" fill="#089981"/>
<line x1="539.5" y1="226.6" x2="539.5" y2="234.1" stroke="#089981" stroke-width="1.1"/>
<rect x="538.1" y="227.4" width="2.7" height="3.7" fill="#089981"/>
<line x1="543.5" y1="224.9" x2="543.5" y2="231.6" stroke="#f23645" stroke-width="1.1"/>
<rect x="542.1" y="226.9" width="2.7" height="3.3" fill="#f23645"/>
<line x1="546.5" y1="228.3" x2="546.5" y2="239.9" stroke="#f23645" stroke-width="1.1"/>
<rect x="545.1" y="229.6" width="2.7" height="4.5" fill="#f23645"/>
<line x1="549.5" y1="228.3" x2="549.5" y2="235.7" stroke="#f23645" stroke-width="1.1"/>
<rect x="548.1" y="232.4" width="2.7" height="2" fill="#f23645"/>
<line x1="553.5" y1="231.6" x2="553.5" y2="242.4" stroke="#f23645" stroke-width="1.1"/>
<rect x="552.1" y="233.6" width="2.7" height="4.7" fill="#f23645"/>
<line x1="556.5" y1="226.3" x2="556.5" y2="242.4" stroke="#089981" stroke-width="1.1"/>
<rect x="555.1" y="227.4" width="2.7" height="10.8" fill="#089981"/>
<line x1="559.5" y1="219.1" x2="559.5" y2="233.3" stroke="#089981" stroke-width="1.1"/>
<rect x="558.1" y="221.9" width="2.7" height="6" fill="#089981"/>
<line x1="563.5" y1="211.3" x2="563.5" y2="224.1" stroke="#089981" stroke-width="1.1"/>
<rect x="562.1" y="214.1" width="2.7" height="8.3" fill="#089981"/>
<line x1="566.5" y1="212.4" x2="566.5" y2="231.6" stroke="#f23645" stroke-width="1.1"/>
<rect x="565.1" y="214.1" width="2.7" height="13.3" fill="#f23645"/>
<line x1="569.5" y1="217.9" x2="569.5" y2="229.9" stroke="#089981" stroke-width="1.1"/>
<rect x="568.1" y="219.1" width="2.7" height="8.3" fill="#089981"/>
<line x1="573.5" y1="210.8" x2="573.5" y2="241.6" stroke="#f23645" stroke-width="1.1"/>
<rect x="572.1" y="219.1" width="2.7" height="21.6" fill="#f23645"/>
<line x1="576.5" y1="229.9" x2="576.5" y2="245.7" stroke="#089981" stroke-width="1.1"/>
<rect x="575.1" y="234.1" width="2.7" height="6.7" fill="#089981"/>
<line x1="580.5" y1="229.9" x2="580.5" y2="240.7" stroke="#f23645" stroke-width="1.1"/>
<rect x="579.1" y="233.7" width="2.7" height="1.5" fill="#f23645"/>
<line x1="583.5" y1="211.3" x2="583.5" y2="235.2" stroke="#089981" stroke-width="1.1"/>
<rect x="582.1" y="211.9" width="2.7" height="22.6" fill="#089981"/>
<line x1="586.5" y1="202.4" x2="586.5" y2="219.1" stroke="#f23645" stroke-width="1.1"/>
<rect x="585.1" y="212.4" width="2.7" height="5.8" fill="#f23645"/>
<line x1="590.5" y1="217.4" x2="590.5" y2="224.1" stroke="#f23645" stroke-width="1.1"/>
<rect x="589.1" y="218.3" width="2.7" height="5" fill="#f23645"/>
<line x1="593.5" y1="219.9" x2="593.5" y2="227.4" stroke="#089981" stroke-width="1.1"/>
<rect x="592.1" y="221.3" width="2.7" height="2.3" fill="#089981"/>
<line x1="596.5" y1="197.5" x2="596.5" y2="224.1" stroke="#089981" stroke-width="1.1"/>
<rect x="595.1" y="200" width="2.7" height="21.6" fill="#089981"/>
<line x1="600.5" y1="199.1" x2="600.5" y2="215.8" stroke="#f23645" stroke-width="1.1"/>
<rect x="599.1" y="200" width="2.7" height="6.7" fill="#f23645"/>
<line x1="603.5" y1="205.8" x2="603.5" y2="221.6" stroke="#f23645" stroke-width="1.1"/>
<rect x="602.1" y="206.6" width="2.7" height="13.3" fill="#f23645"/>
<line x1="606.5" y1="212.4" x2="606.5" y2="224.1" stroke="#089981" stroke-width="1.1"/>
<rect x="605.1" y="217.4" width="2.7" height="2.8" fill="#089981"/>
<line x1="610.5" y1="215.8" x2="610.5" y2="221.6" stroke="#f23645" stroke-width="1.1"/>
<rect x="609.1" y="216.9" width="2.7" height="3.8" fill="#f23645"/>
<line x1="613.5" y1="209.9" x2="613.5" y2="224.9" stroke="#f23645" stroke-width="1.1"/>
<rect x="612.1" y="220.8" width="2.7" height="3.3" fill="#f23645"/>
<line x1="616.5" y1="217.4" x2="616.5" y2="237.4" stroke="#089981" stroke-width="1.1"/>
<rect x="615.1" y="220.8" width="2.7" height="3.7" fill="#089981"/>
<line x1="620.5" y1="218.3" x2="620.5" y2="228.3" stroke="#f23645" stroke-width="1.1"/>
<rect x="619.1" y="220.8" width="2.7" height="6.7" fill="#f23645"/>
<line x1="623.5" y1="225.8" x2="623.5" y2="234.9" stroke="#f23645" stroke-width="1.1"/>
<rect x="622.1" y="227.4" width="2.7" height="3.3" fill="#f23645"/>
<line x1="627.5" y1="221.9" x2="627.5" y2="231.6" stroke="#089981" stroke-width="1.1"/>
<rect x="626.1" y="224.1" width="2.7" height="6.7" fill="#089981"/>
<line x1="630.5" y1="221.9" x2="630.5" y2="234.9" stroke="#f23645" stroke-width="1.1"/>
<rect x="629.1" y="224.4" width="2.7" height="8.8" fill="#f23645"/>
<line x1="633.5" y1="226.6" x2="633.5" y2="234.1" stroke="#089981" stroke-width="1.1"/>
<rect x="632.1" y="227.9" width="2.7" height="5.3" fill="#089981"/>
<line x1="637.5" y1="209.9" x2="637.5" y2="242.4" stroke="#f23645" stroke-width="1.1"/>
<rect x="636.1" y="227.9" width="2.7" height="7" fill="#f23645"/>
<line x1="640.5" y1="232.5" x2="640.5" y2="279.1" stroke="#f23645" stroke-width="1.1"/>
<rect x="639.1" y="233.3" width="2.7" height="42.5" fill="#f23645"/>
<line x1="643.5" y1="270.8" x2="643.5" y2="299.6" stroke="#f23645" stroke-width="1.1"/>
<rect x="642.1" y="274.9" width="2.7" height="5.8" fill="#f23645"/>
<line x1="647.5" y1="264.1" x2="647.5" y2="286.6" stroke="#089981" stroke-width="1.1"/>
<rect x="646.1" y="264.6" width="2.7" height="16.2" fill="#089981"/>
<line x1="650.5" y1="252.4" x2="650.5" y2="265.8" stroke="#089981" stroke-width="1.1"/>
<rect x="649.1" y="253.6" width="2.7" height="11.3" fill="#089981"/>
</g>
<line x1="140" y1="264" x2="607.4" y2="170.8" stroke="#2f5fdb" stroke-width="2.2" stroke-linecap="round"/>
<line x1="526.6" y1="254.6" x2="658" y2="232.5" stroke="#2f5fdb" stroke-width="2.2" stroke-linecap="round"/>
<line x1="482" y1="194.7" x2="948.5" y2="194.7" stroke="#dc3a50" stroke-width="2.1"/>
<text transform="translate(344.5,216.4) rotate(-10.7)" font-size="13.6" fill="#6283de" textLength="54" lengthAdjust="spacingAndGlyphs">trendline</text>
<path d="M716.4,196 L722.9,184.5 L722.9,168.6 Q722.9,166.1 725.4,166.1 L798.9,166.1 Q801.4,166.1 801.4,168.6 L801.4,187.4 Q801.4,189.9 798.9,189.9 L725.8,189.9 Z" fill="#2e323d"/>
<text x="730.2" y="183.1" font-size="12.2" fill="#fff" textLength="62" lengthAdjust="spacingAndGlyphs">Check MTF</text>
<rect x="92" y="247" width="54.5" height="15.5" fill="#089981"/>
<text x="96.2" y="259" font-size="11.7" fill="#fff" textLength="47.5" lengthAdjust="spacingAndGlyphs">BTCUSD</text>
<defs><linearGradient id="pg" x1="0" y1="0" x2="1" y2="0"><stop offset="0" stop-color="#7e3fd8"/><stop offset="1" stop-color="#c43a86"/></linearGradient></defs>
<path d="M641.3,452.2 A9.6,9.6 0 1 1 644.2,461.8" fill="none" stroke="url(#pg)" stroke-width="1.3" stroke-linecap="round"/>
<path d="M640.4,453.6 Q641.1,457.7 645.2,458.4 Q641.1,459.1 640.4,463.2 Q639.7,459.1 635.6,458.4 Q639.7,457.7 640.4,453.6 Z" fill="#6e46f0"/>
<circle cx="657.5" cy="454.3" r="8.3" fill="#fff"/><circle cx="657.5" cy="454.3" r="9.9" fill="none" stroke="#dc3c55" stroke-width="1.2"/><clipPath id="fc657"><circle cx="657.5" cy="454.3" r="7.6"/></clipPath><g clip-path="url(#fc657)"><rect x="649.5" y="446.3" width="16" height="16" fill="#fff"/><rect x="649.5" y="447.9" width="16" height="2.2" fill="#e8474f"/><rect x="649.5" y="453" width="16" height="2.8" fill="#e8474f"/><rect x="649.5" y="458.7" width="16" height="3" fill="#e8474f"/><rect x="649.5" y="446.3" width="9.7" height="9.5" fill="#2f97e6"/><line x1="652.2" y1="446.3" x2="652.2" y2="455.8" stroke="#bfe0f7" stroke-width="0.7"/><line x1="654.7" y1="446.3" x2="654.7" y2="455.8" stroke="#bfe0f7" stroke-width="0.7"/><line x1="657.2" y1="446.3" x2="657.2" y2="455.8" stroke="#bfe0f7" stroke-width="0.7"/><line x1="649.5" y1="449.3" x2="659.2" y2="449.3" stroke="#bfe0f7" stroke-width="0.7"/><line x1="649.5" y1="451.7" x2="659.2" y2="451.7" stroke="#bfe0f7" stroke-width="0.7"/><line x1="649.5" y1="454.1" x2="659.2" y2="454.1" stroke="#bfe0f7" stroke-width="0.7"/></g>
<circle cx="757.9" cy="454.3" r="8.3" fill="#fff"/><circle cx="757.9" cy="454.3" r="9.9" fill="none" stroke="#dc3c55" stroke-width="1.2"/><clipPath id="fc757"><circle cx="757.9" cy="454.3" r="7.6"/></clipPath><g clip-path="url(#fc757)"><rect x="749.9" y="446.3" width="16" height="16" fill="#fff"/><rect x="749.9" y="447.9" width="16" height="2.2" fill="#e8474f"/><rect x="749.9" y="453" width="16" height="2.8" fill="#e8474f"/><rect x="749.9" y="458.7" width="16" height="3" fill="#e8474f"/><rect x="749.9" y="446.3" width="9.7" height="9.5" fill="#2f97e6"/><line x1="752.6" y1="446.3" x2="752.6" y2="455.8" stroke="#bfe0f7" stroke-width="0.7"/><line x1="755.1" y1="446.3" x2="755.1" y2="455.8" stroke="#bfe0f7" stroke-width="0.7"/><line x1="757.6" y1="446.3" x2="757.6" y2="455.8" stroke="#bfe0f7" stroke-width="0.7"/><line x1="749.9" y1="449.3" x2="759.6" y2="449.3" stroke="#bfe0f7" stroke-width="0.7"/><line x1="749.9" y1="451.7" x2="759.6" y2="451.7" stroke="#bfe0f7" stroke-width="0.7"/><line x1="749.9" y1="454.1" x2="759.6" y2="454.1" stroke="#bfe0f7" stroke-width="0.7"/></g>
<rect x="10" y="26" width="81.5" height="441" fill="#fff"/>
<text x="84" y="94.7" font-size="11.5" fill="#22252f" text-anchor="end" textLength="63.6" lengthAdjust="spacingAndGlyphs">114,000.00</text>
<text x="84" y="123.8" font-size="11.5" fill="#22252f" text-anchor="end" textLength="63.6" lengthAdjust="spacingAndGlyphs">112,000.00</text>
<text x="84" y="153.3" font-size="11.5" fill="#22252f" text-anchor="end" textLength="63.6" lengthAdjust="spacingAndGlyphs">110,000.00</text>
<text x="84" y="214.2" font-size="11.5" fill="#22252f" text-anchor="end" textLength="63.6" lengthAdjust="spacingAndGlyphs">106,000.00</text>
<text x="84" y="277.3" font-size="11.5" fill="#22252f" text-anchor="end" textLength="63.6" lengthAdjust="spacingAndGlyphs">102,000.00</text>
<text x="84" y="309.8" font-size="11.5" fill="#22252f" text-anchor="end" textLength="63.6" lengthAdjust="spacingAndGlyphs">100,000.00</text>
<text x="84" y="376.8" font-size="11.5" fill="#22252f" text-anchor="end" textLength="56.5" lengthAdjust="spacingAndGlyphs">96,000.00</text>
<text x="84" y="411.4" font-size="11.5" fill="#22252f" text-anchor="end" textLength="56.5" lengthAdjust="spacingAndGlyphs">94,000.00</text>
<text x="84" y="442.2" font-size="11.5" fill="#22252f" text-anchor="end" textLength="56.5" lengthAdjust="spacingAndGlyphs">92,250.00</text>
<rect x="13" y="53.5" width="78.5" height="16" rx="2" fill="#f25c5c"/><text x="84" y="65.2" font-size="11.5" fill="#fff" text-anchor="end" textLength="63.6" lengthAdjust="spacingAndGlyphs">116,098.41</text>
<rect x="13" y="130.5" width="78.5" height="16" rx="2" fill="#4caf50"/><text x="84" y="142.2" font-size="11.5" fill="#fff" text-anchor="end" textLength="63.6" lengthAdjust="spacingAndGlyphs">110,773.57</text>
<rect x="13" y="170.5" width="78.5" height="16.3" rx="2" fill="#e8384f"/><text x="84" y="182.3" font-size="11.5" fill="#fff" text-anchor="end" textLength="63.6" lengthAdjust="spacingAndGlyphs">107,059.26</text>
<rect x="13" y="186.8" width="78.5" height="16.3" rx="2" fill="#fbc51d"/><text x="84" y="198.7" font-size="11.5" fill="#131722" text-anchor="end" textLength="63.6" lengthAdjust="spacingAndGlyphs">107,010.43</text>
<rect x="13" y="231" width="78.5" height="16.2" rx="2" fill="#4caf50"/><text x="84" y="242.8" font-size="11.5" fill="#fff" text-anchor="end" textLength="63.6" lengthAdjust="spacingAndGlyphs">103,247.29</text>
<rect x="13" y="247" width="78.5" height="29.5" rx="2" fill="#089981"/>
<text x="84" y="258.4" font-size="11.5" fill="#fff" text-anchor="end" textLength="63.6" lengthAdjust="spacingAndGlyphs">103,189.15</text>
<text x="84" y="271.7" font-size="11.5" fill="#fff" text-anchor="end" textLength="50.8" lengthAdjust="spacingAndGlyphs" fill-opacity="0.85">01:30:00</text>
<rect x="20" y="332.8" width="71.5" height="16" rx="2" fill="#f25c5c"/><text x="84" y="344.5" font-size="11.5" fill="#fff" text-anchor="end" textLength="56.5" lengthAdjust="spacingAndGlyphs">97,922.46</text>
<rect x="10" y="26" width="81.8" height="32.6" fill="#fff"/>
<rect x="14.5" y="30" width="74" height="23.5" rx="3" fill="#fff" stroke="#f0f1f4"/>
<text x="22.3" y="46.4" font-size="11.6" fill="#131722" textLength="24.2" lengthAdjust="spacingAndGlyphs">USD</text>
<text x="100.5" y="45.8" font-size="12" fill="#131722" textLength="188.4" lengthAdjust="spacingAndGlyphs">Bitcoin / U.S. Dollar · 4h · BINANCE</text><text x="297.5" y="45.8" font-size="12" fill="#131722">O</text><text x="307.3" y="45.8" font-size="12" fill="#1a9f8a">102,602.56</text><text x="374" y="45.8" font-size="12" fill="#131722">H</text><text x="383" y="45.8" font-size="12" fill="#1a9f8a">103,332.96</text><text x="450.3" y="45.8" font-size="12" fill="#131722">L</text><text x="457.2" y="45.8" font-size="12" fill="#1a9f8a">102,499.23</text><text x="525" y="45.8" font-size="12" fill="#131722">C</text><text x="534" y="45.8" font-size="12" fill="#1a9f8a" textLength="56" lengthAdjust="spacingAndGlyphs">103,189.15</text><text x="597.7" y="45.8" font-size="12" fill="#1a9f8a" textLength="98.5" lengthAdjust="spacingAndGlyphs">+585.36 (+0.57%)</text>
<text x="100.5" y="63.4" font-size="12" fill="#131722" textLength="368" lengthAdjust="spacingAndGlyphs">MRC (hlc3, SuperSmoother, 200, 1, 2.415, 60, On Hover, Auto, D, W)</text><text x="476.6" y="63.4" font-size="12" fill="#f6cf35">107,010.43</text><text x="541.6" y="63.4" font-size="12" fill="#4caf50" textLength="56" lengthAdjust="spacingAndGlyphs">110,773.57</text><text x="605.8" y="63.4" font-size="12" fill="#4caf50" textLength="58.8" lengthAdjust="spacingAndGlyphs">103,247.29</text><text x="672" y="63.4" font-size="12" fill="#e0606a" textLength="57.3" lengthAdjust="spacingAndGlyphs">116,098.41</text><text x="736.4" y="63.4" font-size="12" fill="#e0606a" textLength="52.6" lengthAdjust="spacingAndGlyphs">97,922.46</text>
<g clip-path="url(#cp)">
<line x1="92" y1="536.5" x2="948.5" y2="536.5" stroke="#8f929b" stroke-width="1" stroke-dasharray="1.2 2.6"/>
<line x1="92" y1="593.5" x2="948.5" y2="593.5" stroke="#8f929b" stroke-width="1" stroke-dasharray="1.2 2.6"/>
<line x1="93.4" y1="565" x2="93.4" y2="541.3" stroke="#2a9f94" stroke-width="1"/>
<line x1="96.8" y1="565" x2="96.8" y2="543" stroke="#2a9f94" stroke-width="1"/>
<line x1="100.1" y1="565" x2="100.1" y2="546.5" stroke="#2a9f94" stroke-width="1"/>
<line x1="103.5" y1="565" x2="103.5" y2="546.4" stroke="#2a9f94" stroke-width="1"/>
<line x1="106.9" y1="565" x2="106.9" y2="543.5" stroke="#2a9f94" stroke-width="1"/>
<line x1="110.2" y1="565" x2="110.2" y2="547.6" stroke="#2a9f94" stroke-width="1"/>
<line x1="113.6" y1="565" x2="113.6" y2="553.4" stroke="#2a9f94" stroke-width="1"/>
<line x1="116.9" y1="565" x2="116.9" y2="555.6" stroke="#2a9f94" stroke-width="1"/>
<line x1="120.3" y1="565" x2="120.3" y2="501.1" stroke="#e5524d" stroke-width="1"/>
<line x1="123.6" y1="565" x2="123.6" y2="541.3" stroke="#e5524d" stroke-width="1"/>
<line x1="127" y1="565" x2="127" y2="564.8" stroke="#e5524d" stroke-width="1"/>
<line x1="130.3" y1="565" x2="130.3" y2="523.7" stroke="#e5524d" stroke-width="1"/>
<line x1="133.7" y1="565" x2="133.7" y2="539.7" stroke="#e5524d" stroke-width="1"/>
<line x1="137.1" y1="565" x2="137.1" y2="542.2" stroke="#e5524d" stroke-width="1"/>
<line x1="140.4" y1="565" x2="140.4" y2="554.3" stroke="#e5524d" stroke-width="1"/>
<line x1="143.8" y1="565" x2="143.8" y2="560.5" stroke="#e5524d" stroke-width="1"/>
<line x1="147.1" y1="565" x2="147.1" y2="541.7" stroke="#e5524d" stroke-width="1"/>
<line x1="150.5" y1="565" x2="150.5" y2="569.5" stroke="#2a9f94" stroke-width="1"/>
<line x1="153.8" y1="565" x2="153.8" y2="607.3" stroke="#2a9f94" stroke-width="1"/>
<line x1="157.2" y1="565" x2="157.2" y2="615.9" stroke="#2a9f94" stroke-width="1"/>
<line x1="160.6" y1="565" x2="160.6" y2="595.4" stroke="#2a9f94" stroke-width="1"/>
<line x1="163.9" y1="565" x2="163.9" y2="604.6" stroke="#2a9f94" stroke-width="1"/>
<line x1="167.3" y1="565" x2="167.3" y2="576.1" stroke="#2a9f94" stroke-width="1"/>
<line x1="170.6" y1="565" x2="170.6" y2="555.8" stroke="#e5524d" stroke-width="1"/>
<line x1="174" y1="565" x2="174" y2="551.3" stroke="#e5524d" stroke-width="1"/>
<line x1="177.3" y1="565" x2="177.3" y2="531.4" stroke="#e5524d" stroke-width="1"/>
<line x1="180.7" y1="565" x2="180.7" y2="546.5" stroke="#e5524d" stroke-width="1"/>
<line x1="184" y1="565" x2="184" y2="557" stroke="#e5524d" stroke-width="1"/>
<line x1="187.4" y1="565" x2="187.4" y2="552.3" stroke="#e5524d" stroke-width="1"/>
<line x1="190.8" y1="565" x2="190.8" y2="549" stroke="#e5524d" stroke-width="1"/>
<line x1="194.1" y1="565" x2="194.1" y2="555.7" stroke="#e5524d" stroke-width="1"/>
<line x1="197.5" y1="565" x2="197.5" y2="563.4" stroke="#e5524d" stroke-width="1"/>
<line x1="200.8" y1="565" x2="200.8" y2="559.8" stroke="#e5524d" stroke-width="1"/>
<line x1="204.2" y1="565" x2="204.2" y2="580.5" stroke="#2a9f94" stroke-width="1"/>
<line x1="207.5" y1="565" x2="207.5" y2="607.3" stroke="#2a9f94" stroke-width="1"/>
<line x1="210.9" y1="565" x2="210.9" y2="587.8" stroke="#2a9f94" stroke-width="1"/>
<line x1="214.2" y1="565" x2="214.2" y2="575.3" stroke="#2a9f94" stroke-width="1"/>
<line x1="217.6" y1="565" x2="217.6" y2="567.9" stroke="#e5524d" stroke-width="1"/>
<line x1="221" y1="565" x2="221" y2="549.2" stroke="#e5524d" stroke-width="1"/>
<line x1="224.3" y1="565" x2="224.3" y2="541.3" stroke="#e5524d" stroke-width="1"/>
<line x1="227.7" y1="565" x2="227.7" y2="550.2" stroke="#e5524d" stroke-width="1"/>
<line x1="231" y1="565" x2="231" y2="550.9" stroke="#e5524d" stroke-width="1"/>
<line x1="234.4" y1="565" x2="234.4" y2="535.2" stroke="#e5524d" stroke-width="1"/>
<line x1="237.7" y1="565" x2="237.7" y2="542.9" stroke="#e5524d" stroke-width="1"/>
<line x1="241.1" y1="565" x2="241.1" y2="558.5" stroke="#e5524d" stroke-width="1"/>
<line x1="244.5" y1="565" x2="244.5" y2="557.1" stroke="#e5524d" stroke-width="1"/>
<line x1="247.8" y1="565" x2="247.8" y2="561.5" stroke="#e5524d" stroke-width="1"/>
<line x1="251.2" y1="565" x2="251.2" y2="575.3" stroke="#2a9f94" stroke-width="1"/>
<line x1="254.5" y1="565" x2="254.5" y2="589.6" stroke="#2a9f94" stroke-width="1"/>
<line x1="257.9" y1="565" x2="257.9" y2="586.2" stroke="#2a9f94" stroke-width="1"/>
<line x1="261.2" y1="565" x2="261.2" y2="582.7" stroke="#2a9f94" stroke-width="1"/>
<line x1="264.6" y1="565" x2="264.6" y2="569.3" stroke="#2a9f94" stroke-width="1"/>
<line x1="267.9" y1="565" x2="267.9" y2="543.1" stroke="#e5524d" stroke-width="1"/>
<line x1="271.3" y1="565" x2="271.3" y2="536.3" stroke="#e5524d" stroke-width="1"/>
<line x1="274.7" y1="565" x2="274.7" y2="497.9" stroke="#e5524d" stroke-width="1"/>
<line x1="278" y1="565" x2="278" y2="559.4" stroke="#e5524d" stroke-width="1"/>
<line x1="281.4" y1="565" x2="281.4" y2="492.4" stroke="#e5524d" stroke-width="1"/>
<line x1="284.7" y1="565" x2="284.7" y2="565.6" stroke="#2a9f94" stroke-width="1"/>
<line x1="288.1" y1="565" x2="288.1" y2="581.8" stroke="#2a9f94" stroke-width="1"/>
<line x1="291.4" y1="565" x2="291.4" y2="584.6" stroke="#2a9f94" stroke-width="1"/>
<line x1="294.8" y1="565" x2="294.8" y2="542.4" stroke="#e5524d" stroke-width="1"/>
<line x1="298.1" y1="565" x2="298.1" y2="534.1" stroke="#e5524d" stroke-width="1"/>
<line x1="301.5" y1="565" x2="301.5" y2="538.1" stroke="#e5524d" stroke-width="1"/>
<line x1="304.9" y1="565" x2="304.9" y2="540.9" stroke="#e5524d" stroke-width="1"/>
<line x1="308.2" y1="565" x2="308.2" y2="555.2" stroke="#2a9f94" stroke-width="1"/>
<line x1="311.6" y1="565" x2="311.6" y2="553.6" stroke="#2a9f94" stroke-width="1"/>
<line x1="314.9" y1="565" x2="314.9" y2="552.5" stroke="#2a9f94" stroke-width="1"/>
<line x1="318.3" y1="565" x2="318.3" y2="524.2" stroke="#2a9f94" stroke-width="1"/>
<line x1="321.6" y1="565" x2="321.6" y2="530.1" stroke="#2a9f94" stroke-width="1"/>
<line x1="325" y1="565" x2="325" y2="535.2" stroke="#2a9f94" stroke-width="1"/>
<line x1="328.4" y1="565" x2="328.4" y2="541.1" stroke="#2a9f94" stroke-width="1"/>
<line x1="331.7" y1="565" x2="331.7" y2="542" stroke="#2a9f94" stroke-width="1"/>
<line x1="335.1" y1="565" x2="335.1" y2="509.3" stroke="#2a9f94" stroke-width="1"/>
<line x1="338.4" y1="565" x2="338.4" y2="518.9" stroke="#2a9f94" stroke-width="1"/>
<line x1="341.8" y1="565" x2="341.8" y2="513.3" stroke="#2a9f94" stroke-width="1"/>
<line x1="345.1" y1="565" x2="345.1" y2="506.8" stroke="#2a9f94" stroke-width="1"/>
<line x1="348.5" y1="565" x2="348.5" y2="526.2" stroke="#2a9f94" stroke-width="1"/>
<line x1="351.8" y1="565" x2="351.8" y2="534.4" stroke="#2a9f94" stroke-width="1"/>
<line x1="355.2" y1="565" x2="355.2" y2="536.5" stroke="#2a9f94" stroke-width="1"/>
<line x1="358.6" y1="565" x2="358.6" y2="540.5" stroke="#2a9f94" stroke-width="1"/>
<line x1="361.9" y1="565" x2="361.9" y2="539.3" stroke="#2a9f94" stroke-width="1"/>
<line x1="365.3" y1="565" x2="365.3" y2="548.7" stroke="#2a9f94" stroke-width="1"/>
<line x1="368.6" y1="565" x2="368.6" y2="554.9" stroke="#2a9f94" stroke-width="1"/>
<line x1="372" y1="565" x2="372" y2="578.1" stroke="#2a9f94" stroke-width="1"/>
<line x1="375.3" y1="565" x2="375.3" y2="584.4" stroke="#2a9f94" stroke-width="1"/>
<line x1="378.7" y1="565" x2="378.7" y2="595" stroke="#2a9f94" stroke-width="1"/>
<line x1="382" y1="565" x2="382" y2="607.7" stroke="#2a9f94" stroke-width="1"/>
<line x1="385.4" y1="565" x2="385.4" y2="593.3" stroke="#2a9f94" stroke-width="1"/>
<line x1="388.8" y1="565" x2="388.8" y2="593.5" stroke="#2a9f94" stroke-width="1"/>
<line x1="392.1" y1="565" x2="392.1" y2="573.8" stroke="#e5524d" stroke-width="1"/>
<line x1="395.5" y1="565" x2="395.5" y2="573.1" stroke="#e5524d" stroke-width="1"/>
<line x1="398.8" y1="565" x2="398.8" y2="575.5" stroke="#e5524d" stroke-width="1"/>
<line x1="402.2" y1="565" x2="402.2" y2="588.2" stroke="#e5524d" stroke-width="1"/>
<line x1="405.5" y1="565" x2="405.5" y2="582.5" stroke="#e5524d" stroke-width="1"/>
<line x1="408.9" y1="565" x2="408.9" y2="588.5" stroke="#e5524d" stroke-width="1"/>
<line x1="412.3" y1="565" x2="412.3" y2="596.3" stroke="#e5524d" stroke-width="1"/>
<line x1="415.6" y1="565" x2="415.6" y2="599.7" stroke="#e5524d" stroke-width="1"/>
<line x1="419" y1="565" x2="419" y2="571.7" stroke="#e5524d" stroke-width="1"/>
<line x1="422.3" y1="565" x2="422.3" y2="540.7" stroke="#e5524d" stroke-width="1"/>
<line x1="425.7" y1="565" x2="425.7" y2="525.1" stroke="#e5524d" stroke-width="1"/>
<line x1="429" y1="565" x2="429" y2="523.4" stroke="#e5524d" stroke-width="1"/>
<line x1="432.4" y1="565" x2="432.4" y2="536.8" stroke="#e5524d" stroke-width="1"/>
<line x1="435.7" y1="565" x2="435.7" y2="537.9" stroke="#e5524d" stroke-width="1"/>
<line x1="439.1" y1="565" x2="439.1" y2="555.7" stroke="#2a9f94" stroke-width="1"/>
<line x1="442.5" y1="565" x2="442.5" y2="551.2" stroke="#2a9f94" stroke-width="1"/>
<line x1="445.8" y1="565" x2="445.8" y2="559.2" stroke="#2a9f94" stroke-width="1"/>
<line x1="449.2" y1="565" x2="449.2" y2="550.9" stroke="#2a9f94" stroke-width="1"/>
<line x1="452.5" y1="565" x2="452.5" y2="550.1" stroke="#2a9f94" stroke-width="1"/>
<line x1="455.9" y1="565" x2="455.9" y2="541.2" stroke="#2a9f94" stroke-width="1"/>
<line x1="459.2" y1="565" x2="459.2" y2="551.9" stroke="#2a9f94" stroke-width="1"/>
<line x1="462.6" y1="565" x2="462.6" y2="585.2" stroke="#2a9f94" stroke-width="1"/>
<line x1="465.9" y1="565" x2="465.9" y2="595.4" stroke="#2a9f94" stroke-width="1"/>
<line x1="469.3" y1="565" x2="469.3" y2="594.1" stroke="#2a9f94" stroke-width="1"/>
<line x1="472.7" y1="565" x2="472.7" y2="589.6" stroke="#2a9f94" stroke-width="1"/>
<line x1="476" y1="565" x2="476" y2="629.4" stroke="#2a9f94" stroke-width="1"/>
<line x1="479.4" y1="565" x2="479.4" y2="622.9" stroke="#2a9f94" stroke-width="1"/>
<line x1="482.7" y1="565" x2="482.7" y2="597.6" stroke="#e5524d" stroke-width="1"/>
<line x1="486.1" y1="565" x2="486.1" y2="584.2" stroke="#e5524d" stroke-width="1"/>
<line x1="489.4" y1="565" x2="489.4" y2="581.7" stroke="#e5524d" stroke-width="1"/>
<line x1="492.8" y1="565" x2="492.8" y2="562.4" stroke="#e5524d" stroke-width="1"/>
<line x1="496.2" y1="565" x2="496.2" y2="598.4" stroke="#2a9f94" stroke-width="1"/>
<line x1="499.5" y1="565" x2="499.5" y2="612.6" stroke="#2a9f94" stroke-width="1"/>
<line x1="502.9" y1="565" x2="502.9" y2="606.8" stroke="#2a9f94" stroke-width="1"/>
<line x1="506.2" y1="565" x2="506.2" y2="596.2" stroke="#2a9f94" stroke-width="1"/>
<line x1="509.6" y1="565" x2="509.6" y2="603.4" stroke="#2a9f94" stroke-width="1"/>
<line x1="512.9" y1="565" x2="512.9" y2="587.5" stroke="#2a9f94" stroke-width="1"/>
<line x1="516.3" y1="565" x2="516.3" y2="589.2" stroke="#e5524d" stroke-width="1"/>
<line x1="519.6" y1="565" x2="519.6" y2="602.5" stroke="#e5524d" stroke-width="1"/>
<line x1="523" y1="565" x2="523" y2="601.7" stroke="#e5524d" stroke-width="1"/>
<line x1="526.4" y1="565" x2="526.4" y2="599.7" stroke="#e5524d" stroke-width="1"/>
<line x1="529.7" y1="565" x2="529.7" y2="594.1" stroke="#e5524d" stroke-width="1"/>
<line x1="533.1" y1="565" x2="533.1" y2="593.7" stroke="#e5524d" stroke-width="1"/>
<line x1="536.4" y1="565" x2="536.4" y2="576.4" stroke="#e5524d" stroke-width="1"/>
<line x1="539.8" y1="565" x2="539.8" y2="568.2" stroke="#e5524d" stroke-width="1"/>
<line x1="543.1" y1="565" x2="543.1" y2="567.6" stroke="#e5524d" stroke-width="1"/>
<line x1="546.5" y1="565" x2="546.5" y2="572.1" stroke="#e5524d" stroke-width="1"/>
<line x1="549.8" y1="565" x2="549.8" y2="573.3" stroke="#e5524d" stroke-width="1"/>
<line x1="553.2" y1="565" x2="553.2" y2="576.4" stroke="#e5524d" stroke-width="1"/>
<line x1="556.6" y1="565" x2="556.6" y2="546.1" stroke="#e5524d" stroke-width="1"/>
<line x1="559.9" y1="565" x2="559.9" y2="528" stroke="#e5524d" stroke-width="1"/>
<line x1="563.3" y1="565" x2="563.3" y2="514.8" stroke="#e5524d" stroke-width="1"/>
<line x1="566.6" y1="565" x2="566.6" y2="542.4" stroke="#e5524d" stroke-width="1"/>
<line x1="570" y1="565" x2="570" y2="542.7" stroke="#e5524d" stroke-width="1"/>
<line x1="573.3" y1="565" x2="573.3" y2="585.6" stroke="#2a9f94" stroke-width="1"/>
<line x1="576.7" y1="565" x2="576.7" y2="575.1" stroke="#2a9f94" stroke-width="1"/>
<line x1="580.1" y1="565" x2="580.1" y2="574" stroke="#2a9f94" stroke-width="1"/>
<line x1="583.4" y1="565" x2="583.4" y2="520.9" stroke="#e5524d" stroke-width="1"/>
<line x1="586.8" y1="565" x2="586.8" y2="539.9" stroke="#e5524d" stroke-width="1"/>
<line x1="590.1" y1="565" x2="590.1" y2="554.4" stroke="#e5524d" stroke-width="1"/>
<line x1="593.5" y1="565" x2="593.5" y2="551" stroke="#e5524d" stroke-width="1"/>
<line x1="596.8" y1="565" x2="596.8" y2="513.2" stroke="#e5524d" stroke-width="1"/>
<line x1="600.2" y1="565" x2="600.2" y2="524.7" stroke="#e5524d" stroke-width="1"/>
<line x1="603.5" y1="565" x2="603.5" y2="559.6" stroke="#e5524d" stroke-width="1"/>
<line x1="606.9" y1="565" x2="606.9" y2="558.5" stroke="#e5524d" stroke-width="1"/>
<line x1="610.3" y1="565" x2="610.3" y2="563.9" stroke="#e5524d" stroke-width="1"/>
<line x1="613.6" y1="565" x2="613.6" y2="572" stroke="#e5524d" stroke-width="1"/>
<line x1="617" y1="565" x2="617" y2="564.9" stroke="#e5524d" stroke-width="1"/>
<line x1="620.3" y1="565" x2="620.3" y2="582.4" stroke="#2a9f94" stroke-width="1"/>
<line x1="623.7" y1="565" x2="623.7" y2="595.9" stroke="#2a9f94" stroke-width="1"/>
<line x1="627" y1="565" x2="627" y2="586.2" stroke="#2a9f94" stroke-width="1"/>
<line x1="630.4" y1="565" x2="630.4" y2="604.8" stroke="#2a9f94" stroke-width="1"/>
<line x1="633.7" y1="565" x2="633.7" y2="587.9" stroke="#2a9f94" stroke-width="1"/>
<line x1="637.1" y1="565" x2="637.1" y2="606.4" stroke="#2a9f94" stroke-width="1"/>
<line x1="640.5" y1="565" x2="640.5" y2="652.7" stroke="#e5524d" stroke-width="1"/>
<line x1="643.8" y1="565" x2="643.8" y2="632.2" stroke="#e5524d" stroke-width="1"/>
<line x1="647.2" y1="565" x2="647.2" y2="605.5" stroke="#e5524d" stroke-width="1"/>
<line x1="650.5" y1="565" x2="650.5" y2="584.2" stroke="#e5524d" stroke-width="1"/>
<line x1="92" y1="565" x2="948.5" y2="565" stroke="#83868f" stroke-width="1.1"/>
<polyline points="92.9,557.7 95.7,556.4 100.5,573 103.4,568.2 106.8,513.9 110,553 113.5,579.7 116.7,576.8 120.2,511 123.4,553 127.2,578.7 130.1,543.4 133.9,557.7 136.8,558.7 140.6,570.2 143.8,574.9 146.9,547.3 150.1,581.6 153.9,621.7 156.8,604.5 160.2,575.9 163.5,593.1 167.3,562.5 170.2,521.5 174,536.8 176.8,530.1 180.6,551.1 183.5,572.1 187.3,573 190.3,566.3 194.2,583.5 197.4,596.9 200.6,574 204.1,609.3 207.9,610.2 211.7,572.1 215.5,549.2 217.8,551.1 220.9,532.9 224.7,537.7 227.9,551.1 230.8,556.8 233.7,530.1 237.5,545.3 240.7,594 244.2,581.6 247.6,585.4 251.4,600.3 254.7,594 258.5,574 261.3,569.2 265,535.3 267.3,512.4 270.7,537.3 274.2,512.4 278,568.7 281.2,527.7 284.1,583.1 287.5,585.9 291.3,585.9 294.6,552.5 298.4,545.8 302.2,537.3 305.1,543 307.9,560.2 311.8,570.6 315,567.8 318.4,509.6 321.9,537.3 325.1,543 328.4,554.4 331.8,560.2 335.2,512.4 338.5,538.2 341.7,526.8 345.2,525.8 348.6,535.3 351.8,549.7 355.1,546.8 357.9,555.8 361.1,541.5 364.5,566.3 368,596.9 371.2,618.8 375,595.9 378.3,587.3 381.7,602.6 385.2,577.8 388.4,591.1 391.6,538.7 395.1,545.3 398.5,547.3 401.8,590.2 405,574.9 408.4,589.2 411.9,595 415.7,595 418.9,562.5 422.2,520.5 425.6,533.9 429,540.6 432.3,547.3 435.5,549.2 439,591.1 442.4,582.6 445.6,594 449.5,561.6 452.9,547.3 456.1,520.5 459.5,558.7 463,593.1 466.2,593.1 469.5,580.6 472.9,591.1 476.7,627.8 479.6,604.5 482.8,575.9 486.3,562.1 489.7,561.6 492.9,524.4 496.2,585.4 499.6,610.2 503.1,596.9 506.3,580.6 509.5,593.1 513,565.4 516.4,574 519.7,602.6 523.1,600.7 526.3,595.9 529.8,584.5 533,585.4 536.3,535.8 539.7,532 542.9,546.3 546.4,556.8 548.5,564.2 550.8,582.8 553.4,601.4 556.6,546.8 560.1,526 563.1,526 566.3,559.6 569.4,539.9 573.3,607.2 576.3,584 579.8,581.6 583.3,530.6 586.8,544.5 590.2,552.6 593.3,551.5 596.5,530.6 600.2,528.3 603,577 606.5,572.4 610,578.2 613.4,586.3 616.9,577 620.4,603.7 623.9,600.2 627.4,567.7 630.4,599 633.6,567.7 636.6,592.1 640.1,623.4 643.6,601.4 647.1,580.5 651,563.8" fill="none" stroke="#2a9f94" stroke-width="1.15" stroke-linejoin="round"/>
<polyline points="92.9,541.1 95.7,541.9 100.5,546.9 103.9,546.3 106.8,543.4 110,547.3 113.9,553.9 117.3,555.8 120.2,499.5 123.4,539.6 127.2,566.3 130.1,522.4 133.9,540.6 136.8,541.1 140.6,554.9 143.8,560.6 146.9,539.6 150.1,565.4 153.9,608.3 156.8,618.8 160.2,594 163.5,608.3 167.3,575.9 170.2,555.8 173.4,555.8 176.8,529.1 180.6,546.3 183.5,557.7 190.3,548.2 194.2,555.8 197.4,563.5 200.6,558.7 204.1,579.7 207.9,610.2 211.7,581.6 215.5,572.1 218.4,566.3 221.3,547.3 224.7,540.6 227.9,551.1 230.8,552 234.2,534.8 237.5,541.5 240.7,558.7 244.2,556.8 247.6,560.6 250.8,574 254.7,590.2 258.5,585.4 262.3,581.6 265.2,566.3 267.9,543 270.7,545.8 274.2,488.6 278,560.2 281.2,488.6 284.1,562.1 287.5,581.1 291.3,585.9 294.6,543 298.4,533.4 302.2,539.2 305.1,541.1 307.9,555.4 311.8,553.5 315,552.5 318.4,522.9 321.9,530.6 325.1,535.3 328.4,541.1 331.8,542 335.2,507.7 338.5,519.1 341.7,513.4 345.2,506.7 348.6,526.8 351.8,534.4 355.1,536.3 358.4,540.6 361.7,538.7 364.9,548.2 368.4,553 371.8,577.8 375,583.5 378.3,593.1 381.7,609.3 385.2,593.1 388.4,595.9 391.6,574 395.1,573 398.5,574 401.8,589.2 405,581.6 408.4,587.3 411.9,595.9 415.7,599.7 418.9,572.1 421.8,543.4 425.2,525.3 429,523.4 432.3,536.8 435.5,536.8 439,555.8 442.4,551.1 445.6,559.7 449.5,550.1 452.9,550.1 456.1,540.6 459.5,553 463,589.2 466.2,595.9 469.5,594 472.9,589.2 476.7,638.5 479.6,621.7 482.8,596.9 486.3,583.5 489.1,583.5 492.9,561.6 496.2,598.8 499.6,613.1 503.1,606.4 506.3,595.9 509.5,603.5 513,587.3 516.4,589.2 519.7,602.6 523.1,601.6 526.3,599.7 529.8,594 533,594 536.3,576.8 539.7,568.2 542.9,567.3 546.4,572.1 549.6,573.1 553.8,577 556.6,545.7 560.1,527.1 563.1,513.2 566.3,543.4 569.4,532.9 572.8,587.4 576.3,574.7 579.8,578.2 583.3,520.2 586.8,539.9 590.2,555 593.3,553.8 596.5,512 600.2,524.8 603.5,559.6 607.2,558.4 610.4,564.2 613.4,572.4 616.9,564.7 620.4,582.8 623.9,596.7 627.4,585.1 630.4,604.8 633.6,587.4 636.6,599 640.1,654.7 643.6,633.9 647.1,606 650.6,584" fill="none" stroke="#e5524d" stroke-width="1.15" stroke-linejoin="round"/>
</g>
<text x="100.5" y="487.8" font-size="12" fill="#131722" textLength="107" lengthAdjust="spacingAndGlyphs">Woodies CCI (6, 14)</text><text x="215" y="487.8" font-size="12" fill="#e5524d" textLength="35.5" lengthAdjust="spacingAndGlyphs">−65.17</text><text x="258.3" y="487.8" font-size="12" fill="#2a9f94" textLength="23.4" lengthAdjust="spacingAndGlyphs">3.00</text><text x="289.8" y="487.8" font-size="12" fill="#e5524d" textLength="35.5" lengthAdjust="spacingAndGlyphs">−65.17</text>
<text x="957.6" y="511.8" font-size="11.7" fill="#131722" textLength="38.9" lengthAdjust="spacingAndGlyphs">200.00</text>
<text x="957.6" y="626.5" font-size="11.7" fill="#131722" textLength="46" lengthAdjust="spacingAndGlyphs">−200.00</text>
<rect x="950" y="543.2" width="38" height="15.8" rx="2" fill="#1a9e8f"/>
<text x="957.6" y="555.3" font-size="11.7" fill="#fff" textLength="24.8" lengthAdjust="spacingAndGlyphs">3.00</text>
<rect x="950" y="559" width="52.8" height="16" rx="2" fill="#f0483e"/>
<text x="957.6" y="571.2" font-size="11.7" fill="#fff" textLength="39" lengthAdjust="spacingAndGlyphs">−65.17</text>
<rect x="950" y="575" width="52.8" height="16.2" rx="2" fill="#f0483e"/>
<text x="957.6" y="587.3" font-size="11.7" fill="#fff" textLength="39" lengthAdjust="spacingAndGlyphs">−65.17</text>
<text x="103.5" y="690.7" font-size="11.5" fill="#131722" text-anchor="middle" textLength="14.1" lengthAdjust="spacingAndGlyphs">10</text>
<text x="163.8" y="690.7" font-size="11.5" fill="#131722" text-anchor="middle" textLength="14.1" lengthAdjust="spacingAndGlyphs">13</text>
<text x="224.4" y="690.7" font-size="11.5" fill="#131722" text-anchor="middle" textLength="14.1" lengthAdjust="spacingAndGlyphs">16</text>
<text x="284.8" y="690.7" font-size="11.5" fill="#131722" text-anchor="middle" textLength="14.1" lengthAdjust="spacingAndGlyphs">19</text>
<text x="345.2" y="690.7" font-size="11.5" fill="#131722" text-anchor="middle" textLength="14.1" lengthAdjust="spacingAndGlyphs">22</text>
<text x="405.6" y="690.7" font-size="11.5" fill="#131722" text-anchor="middle" textLength="14.1" lengthAdjust="spacingAndGlyphs">25</text>
<text x="466" y="690.7" font-size="11.5" fill="#131722" text-anchor="middle" textLength="14.1" lengthAdjust="spacingAndGlyphs">28</text>
<text x="546.5" y="690.7" font-size="11.5" fill="#131722" text-anchor="middle" font-weight="bold">Jun</text>
<text x="606.8" y="690.7" font-size="11.5" fill="#131722" text-anchor="middle" textLength="7" lengthAdjust="spacingAndGlyphs">4</text>
<text x="667.2" y="690.7" font-size="11.5" fill="#131722" text-anchor="middle" textLength="7" lengthAdjust="spacingAndGlyphs">7</text>
<text x="727.6" y="690.7" font-size="11.5" fill="#131722" text-anchor="middle" textLength="14.1" lengthAdjust="spacingAndGlyphs">10</text>
<text x="788" y="690.7" font-size="11.5" fill="#131722" text-anchor="middle" textLength="14.1" lengthAdjust="spacingAndGlyphs">13</text>
<text x="848.3" y="690.7" font-size="11.5" fill="#131722" text-anchor="middle" textLength="14.1" lengthAdjust="spacingAndGlyphs">16</text>
<text x="908.8" y="690.7" font-size="11.5" fill="#131722" text-anchor="middle" textLength="14.1" lengthAdjust="spacingAndGlyphs">19</text>
<circle cx="51.3" cy="686.3" r="9" fill="#f2f3f5"/><text x="51.3" y="689.3" font-size="8.5" fill="#6a6d78" text-anchor="middle">Z</text>
<circle cx="981.9" cy="686.5" r="9" fill="#f2f3f5"/><text x="981.9" y="689.6" font-size="9" fill="#5d606b" text-anchor="middle">A</text>
<g fill="#131722"><path d="M10,711.3 h8.2 v9.4 h-4 v-5.3 h-4.2 z"/><circle cx="20.4" cy="713.2" r="1.9"/><path d="M23.6,711.3 h5 l-4,9.4 h-5 z"/></g>
<text x="32.8" y="721.8" font-size="14" fill="#131722" textLength="70.5" lengthAdjust="spacingAndGlyphs">TradingView</text>
</svg></body></html>
